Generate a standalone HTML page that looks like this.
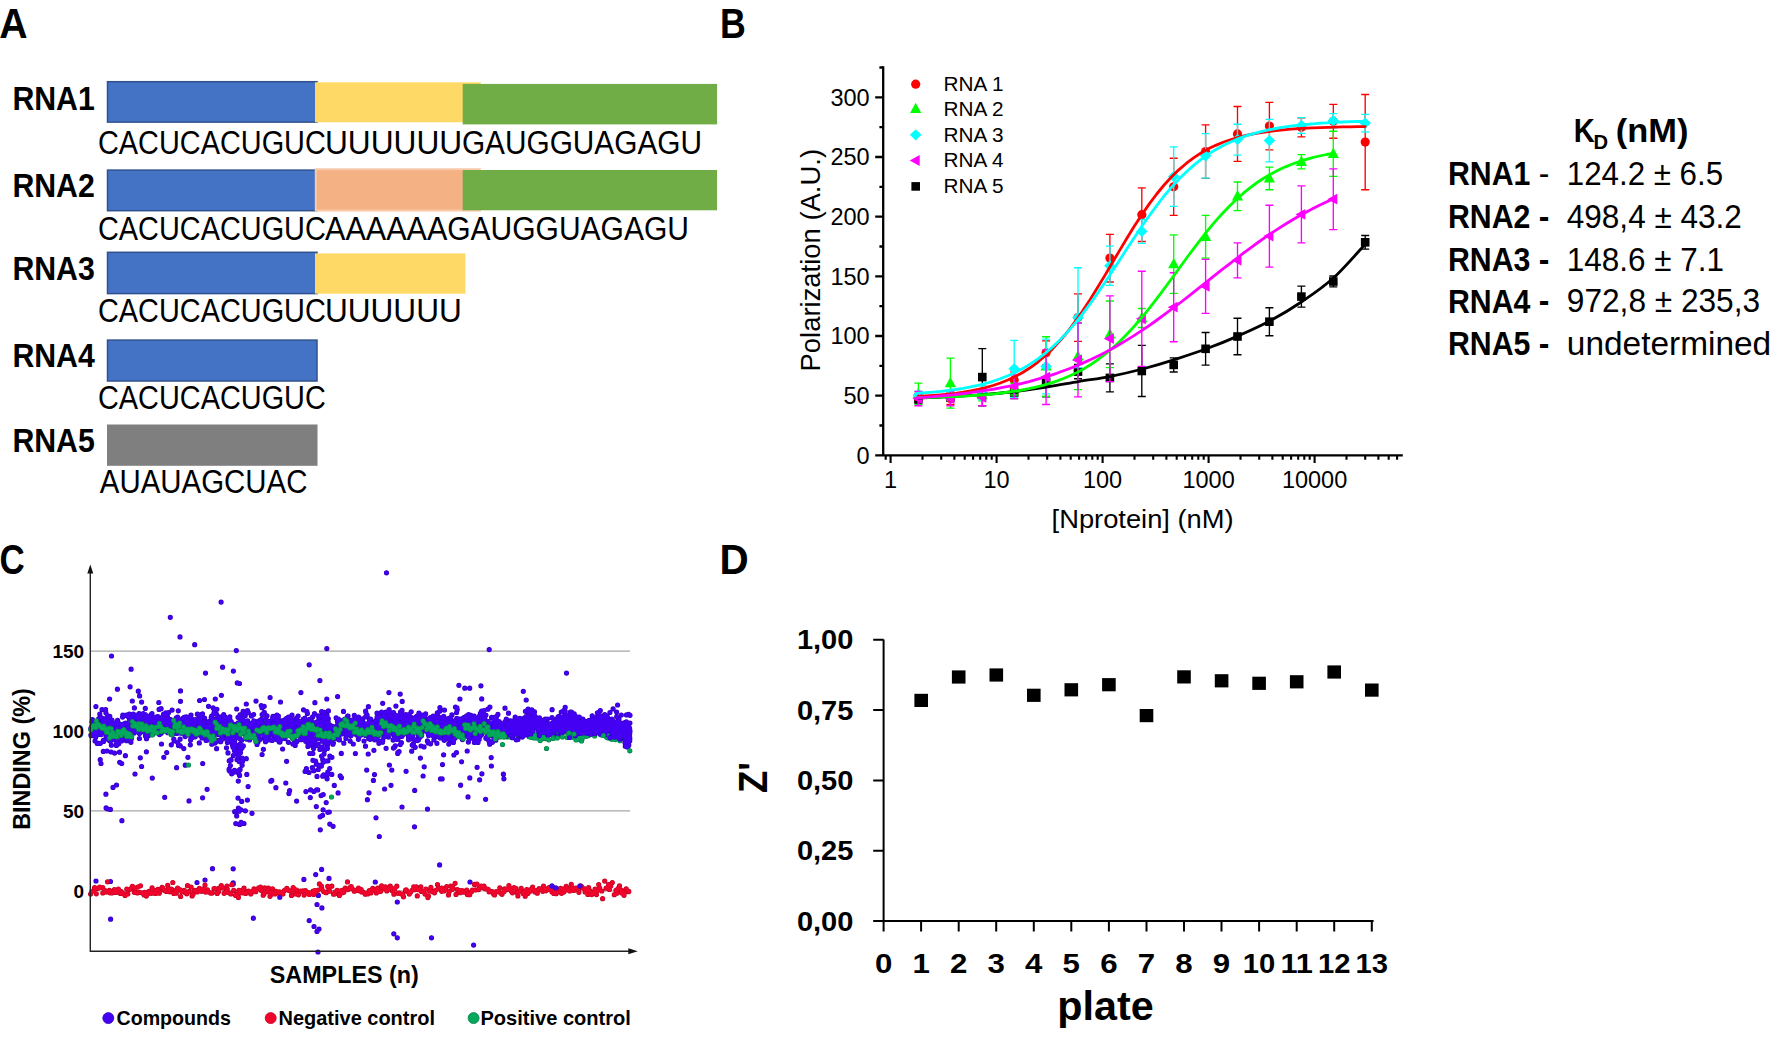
<!DOCTYPE html>
<html lang="en"><head><meta charset="utf-8"><title>Figure</title>
<style>html,body{margin:0;padding:0;background:#fff;overflow:hidden}svg{display:block}text{font-family:"Liberation Sans",sans-serif}</style>
</head><body>
<svg width="1773" height="1057" viewBox="0 0 1773 1057">
<rect width="1773" height="1057" fill="#fff"/>
<g id="panel-labels">
<text x="-0.8" y="38" font-size="42" font-weight="bold" textLength="28.4" lengthAdjust="spacingAndGlyphs">A</text>
<text x="720" y="38" font-size="42" font-weight="bold" textLength="25.8" lengthAdjust="spacingAndGlyphs">B</text>
<text x="-0.4" y="574.2" font-size="43" font-weight="bold" textLength="25.2" lengthAdjust="spacingAndGlyphs">C</text>
<text x="719.5" y="573.7" font-size="42" font-weight="bold" textLength="29.2" lengthAdjust="spacingAndGlyphs">D</text>
</g>
<g id="panelA">
<rect x="107.5" y="81.7" width="209.5" height="40.4" fill="#4472c4" stroke="#2f528f" stroke-width="1.5"/>
<rect x="315.0" y="82.3" width="165.7" height="40.0" fill="#ffd966"/>
<rect x="462.7" y="83.9" width="254.4" height="40.5" fill="#70ad47"/>
<rect x="107.5" y="170.1" width="209.5" height="40.6" fill="#4472c4" stroke="#2f528f" stroke-width="1.5"/>
<rect x="315.8" y="169.2" width="164.1" height="41.4" fill="#f4b183" stroke="#f8cbad" stroke-width="2"/>
<rect x="462.7" y="170.0" width="254.4" height="40.3" fill="#70ad47"/>
<rect x="107.5" y="252.3" width="209.5" height="41.3" fill="#4472c4" stroke="#2f528f" stroke-width="1.5"/>
<rect x="315.0" y="253.4" width="150.4" height="40.3" fill="#ffd966"/>
<rect x="107.5" y="340.1" width="209.5" height="40.9" fill="#4472c4" stroke="#2f528f" stroke-width="1.5"/>
<rect x="107.0" y="424.5" width="210.5" height="41.3" fill="#7f7f7f"/>
<text x="12.4" y="109.9" font-size="33.2" font-weight="bold" textLength="82.4" lengthAdjust="spacingAndGlyphs">RNA1</text>
<text x="12.4" y="196.8" font-size="33.2" font-weight="bold" textLength="82.4" lengthAdjust="spacingAndGlyphs">RNA2</text>
<text x="12.4" y="279.79999999999995" font-size="33.2" font-weight="bold" textLength="82.4" lengthAdjust="spacingAndGlyphs">RNA3</text>
<text x="12.4" y="366.59999999999997" font-size="33.2" font-weight="bold" textLength="82.4" lengthAdjust="spacingAndGlyphs">RNA4</text>
<text x="12.4" y="452.4" font-size="33.2" font-weight="bold" textLength="82.4" lengthAdjust="spacingAndGlyphs">RNA5</text>
<text y="153.6" font-size="33"><tspan x="98.0" textLength="227.8" lengthAdjust="spacingAndGlyphs">CACUCACUGUC</tspan><tspan x="324.9" textLength="137.3" lengthAdjust="spacingAndGlyphs">UUUUUU</tspan><tspan x="461.9" textLength="240.1" lengthAdjust="spacingAndGlyphs">GAUGGUAGAGU</tspan></text>
<text y="239.7" font-size="33"><tspan x="98.0" textLength="227.8" lengthAdjust="spacingAndGlyphs">CACUCACUGUC</tspan><tspan x="325.0" textLength="122.3" lengthAdjust="spacingAndGlyphs">AAAAAA</tspan><tspan x="447.2" textLength="241.8" lengthAdjust="spacingAndGlyphs">GAUGGUAGAGU</tspan></text>
<text y="321.9" font-size="33"><tspan x="98.0" textLength="227.8" lengthAdjust="spacingAndGlyphs">CACUCACUGUC</tspan><tspan x="324.9" textLength="136.9" lengthAdjust="spacingAndGlyphs">UUUUUU</tspan></text>
<text y="409.2" font-size="33"><tspan x="98.0" textLength="227.8" lengthAdjust="spacingAndGlyphs">CACUCACUGUC</tspan></text>
<text y="492.9" font-size="33"><tspan x="99.8" textLength="207.6" lengthAdjust="spacingAndGlyphs">AUAUAGCUAC</tspan></text>
</g>
<g id="panelB">
<g stroke="#000" stroke-width="2.3" fill="none">
<path d="M883.2,66.2V455.3"/>
<path d="M875.2,455.3H1402.8"/>
<path d="M879.4,425.5H883.2M875.2,395.6H883.2M879.4,365.8H883.2M875.2,336.0H883.2M879.4,306.1H883.2M875.2,276.3H883.2M879.4,246.5H883.2M875.2,216.6H883.2M879.4,186.8H883.2M875.2,157.0H883.2M879.4,127.1H883.2M875.2,97.3H883.2M879.4,67.5H883.2"/>
<path d="M885.7,455.3v4.4M890.6,455.3v7.6M922.5,455.3v4.4M941.2,455.3v4.4M954.4,455.3v4.4M964.7,455.3v4.4M973.1,455.3v4.4M980.2,455.3v4.4M986.3,455.3v4.4M991.7,455.3v4.4M996.6,455.3v7.6M1028.5,455.3v4.4M1047.2,455.3v4.4M1060.4,455.3v4.4M1070.7,455.3v4.4M1079.1,455.3v4.4M1086.2,455.3v4.4M1092.3,455.3v4.4M1097.7,455.3v4.4M1102.6,455.3v7.6M1134.5,455.3v4.4M1153.2,455.3v4.4M1166.4,455.3v4.4M1176.7,455.3v4.4M1185.1,455.3v4.4M1192.2,455.3v4.4M1198.3,455.3v4.4M1203.7,455.3v4.4M1208.6,455.3v7.6M1240.5,455.3v4.4M1259.2,455.3v4.4M1272.4,455.3v4.4M1282.7,455.3v4.4M1291.1,455.3v4.4M1298.2,455.3v4.4M1304.3,455.3v4.4M1309.7,455.3v4.4M1314.6,455.3v7.6M1346.5,455.3v4.4M1365.2,455.3v4.4M1378.4,455.3v4.4M1388.7,455.3v4.4M1397.1,455.3v4.4" stroke-width="2.1"/>
</g>
<text x="869.6" y="463.6" font-size="23.5" text-anchor="end">0</text>
<text x="869.6" y="403.9" font-size="23.5" text-anchor="end">50</text>
<text x="869.6" y="344.3" font-size="23.5" text-anchor="end">100</text>
<text x="869.6" y="284.6" font-size="23.5" text-anchor="end">150</text>
<text x="869.6" y="224.9" font-size="23.5" text-anchor="end">200</text>
<text x="869.6" y="165.3" font-size="23.5" text-anchor="end">250</text>
<text x="869.6" y="105.6" font-size="23.5" text-anchor="end">300</text>
<text x="890.6" y="487.6" font-size="23.5" text-anchor="middle">1</text>
<text x="996.6" y="487.6" font-size="23.5" text-anchor="middle">10</text>
<text x="1102.6" y="487.6" font-size="23.5" text-anchor="middle">100</text>
<text x="1208.6" y="487.6" font-size="23.5" text-anchor="middle">1000</text>
<text x="1314.6" y="487.6" font-size="23.5" text-anchor="middle">10000</text>
<text x="1142.6" y="527.6" font-size="26" text-anchor="middle" textLength="182" lengthAdjust="spacingAndGlyphs">[Nprotein] (nM)</text>
<text transform="translate(820.2,260.2) rotate(-90)" font-size="27.4" text-anchor="middle" textLength="222.5" lengthAdjust="spacingAndGlyphs">Polarization (A.U.)</text>
<path d="M918.4,393.8V403.3M914.4,393.8h8M914.4,403.3h8M950.4,393.8V400.9M946.4,393.8h8M946.4,400.9h8M982.3,348.6V405.7M978.3,348.6h8M978.3,405.7h8M1014.2,386.7V398.6M1010.2,386.7h8M1010.2,398.6h8M1046.1,367.0V396.8M1042.1,367.0h8M1042.1,396.8h8M1078.0,364.4V378.7M1074.0,364.4h8M1074.0,378.7h8M1109.9,363.8V391.9M1105.9,363.8h8M1105.9,391.9h8M1141.8,345.4V396.5M1137.8,345.4h8M1137.8,396.5h8M1173.7,357.8V372.0M1169.7,357.8h8M1169.7,372.0h8M1205.6,332.5V365.1M1201.6,332.5h8M1201.6,365.1h8M1237.5,318.2V354.7M1233.5,318.2h8M1233.5,354.7h8M1269.4,307.7V335.7M1265.4,307.7h8M1265.4,335.7h8M1301.4,286.1V307.1M1297.4,286.1h8M1297.4,307.1h8M1333.3,276.0V286.9M1329.3,276.0h8M1329.3,286.9h8M1365.2,235.5V249.1M1361.2,235.5h8M1361.2,249.1h8" stroke="#000000" stroke-width="1.35" fill="none"/>
<rect x="914.1" y="394.3" width="8.6" height="8.6" fill="#000000"/>
<rect x="946.1" y="393.1" width="8.6" height="8.6" fill="#000000"/>
<rect x="978.0" y="372.8" width="8.6" height="8.6" fill="#000000"/>
<rect x="1009.9" y="388.3" width="8.6" height="8.6" fill="#000000"/>
<rect x="1041.8" y="377.6" width="8.6" height="8.6" fill="#000000"/>
<rect x="1073.7" y="367.3" width="8.6" height="8.6" fill="#000000"/>
<rect x="1105.6" y="373.6" width="8.6" height="8.6" fill="#000000"/>
<rect x="1137.5" y="366.7" width="8.6" height="8.6" fill="#000000"/>
<rect x="1169.4" y="360.6" width="8.6" height="8.6" fill="#000000"/>
<rect x="1201.3" y="344.5" width="8.6" height="8.6" fill="#000000"/>
<rect x="1233.2" y="332.2" width="8.6" height="8.6" fill="#000000"/>
<rect x="1265.1" y="317.4" width="8.6" height="8.6" fill="#000000"/>
<rect x="1297.1" y="292.3" width="8.6" height="8.6" fill="#000000"/>
<rect x="1329.0" y="277.2" width="8.6" height="8.6" fill="#000000"/>
<rect x="1360.9" y="238.0" width="8.6" height="8.6" fill="#000000"/>
<path d="M918.4,393.2V400.4M914.4,393.2h8M914.4,400.4h8M950.4,392.6V404.5M946.4,392.6h8M946.4,404.5h8M982.3,389.1V398.6M978.3,389.1h8M978.3,398.6h8M1014.2,371.8V388.5M1010.2,371.8h8M1010.2,388.5h8M1046.1,340.9V364.7M1042.1,340.9h8M1042.1,364.7h8M1078.0,293.9V341.4M1074.0,293.9h8M1074.0,341.4h8M1109.9,234.4V282.0M1105.9,234.4h8M1105.9,282.0h8M1141.8,187.9V241.5M1137.8,187.9h8M1137.8,241.5h8M1173.7,158.2V215.3M1169.7,158.2h8M1169.7,215.3h8M1205.6,124.8V178.3M1201.6,124.8h8M1201.6,178.3h8M1237.5,106.5V161.3M1233.5,106.5h8M1233.5,161.3h8M1269.4,102.3V149.9M1265.4,102.3h8M1265.4,149.9h8M1301.4,117.7V136.8M1297.4,117.7h8M1297.4,136.8h8M1333.3,104.4V138.2M1329.3,104.4h8M1329.3,138.2h8M1365.2,94.5V189.7M1361.2,94.5h8M1361.2,189.7h8" stroke="#ff0000" stroke-width="1.35" fill="none"/>
<circle cx="918.4" cy="396.8" r="4.6" fill="#ff0000"/>
<circle cx="950.4" cy="398.6" r="4.6" fill="#ff0000"/>
<circle cx="982.3" cy="393.8" r="4.6" fill="#ff0000"/>
<circle cx="1014.2" cy="380.1" r="4.6" fill="#ff0000"/>
<circle cx="1046.1" cy="352.8" r="4.6" fill="#ff0000"/>
<circle cx="1078.0" cy="317.6" r="4.6" fill="#ff0000"/>
<circle cx="1109.9" cy="258.1" r="4.6" fill="#ff0000"/>
<circle cx="1141.8" cy="214.7" r="4.6" fill="#ff0000"/>
<circle cx="1173.7" cy="186.8" r="4.6" fill="#ff0000"/>
<circle cx="1205.6" cy="151.5" r="4.6" fill="#ff0000"/>
<circle cx="1237.5" cy="133.9" r="4.6" fill="#ff0000"/>
<circle cx="1269.4" cy="126.1" r="4.6" fill="#ff0000"/>
<circle cx="1301.4" cy="127.2" r="4.6" fill="#ff0000"/>
<circle cx="1333.3" cy="121.3" r="4.6" fill="#ff0000"/>
<circle cx="1365.2" cy="142.1" r="4.6" fill="#ff0000"/>
<path d="M918.4,383.1V404.5M914.4,383.1h8M914.4,404.5h8M950.4,358.1V408.1M946.4,358.1h8M946.4,408.1h8M982.3,389.1V400.9M978.3,389.1h8M978.3,400.9h8M1014.2,383.1V395.0M1010.2,383.1h8M1010.2,395.0h8M1046.1,336.7V396.2M1042.1,336.7h8M1042.1,396.2h8M1078.0,323.0V389.6M1074.0,323.0h8M1074.0,389.6h8M1109.9,301.0V367.6M1105.9,301.0h8M1105.9,367.6h8M1141.8,308.5V327.5M1137.8,308.5h8M1137.8,327.5h8M1173.7,234.9V293.3M1169.7,234.9h8M1169.7,293.3h8M1205.6,215.3V258.1M1201.6,215.3h8M1201.6,258.1h8M1237.5,182.0V210.6M1233.5,182.0h8M1233.5,210.6h8M1269.4,167.1V189.7M1265.4,167.1h8M1265.4,189.7h8M1301.4,154.6V168.9M1297.4,154.6h8M1297.4,168.9h8M1333.3,131.2V176.4M1329.3,131.2h8M1329.3,176.4h8" stroke="#00ff00" stroke-width="1.35" fill="none"/>
<path d="M918.4,387.6l5.6,10.4h-11.2z" fill="#00ff00"/>
<path d="M950.4,376.9l5.6,10.4h-11.2z" fill="#00ff00"/>
<path d="M982.3,388.8l5.6,10.4h-11.2z" fill="#00ff00"/>
<path d="M1014.2,382.9l5.6,10.4h-11.2z" fill="#00ff00"/>
<path d="M1046.1,360.2l5.6,10.4h-11.2z" fill="#00ff00"/>
<path d="M1078.0,350.1l5.6,10.4h-11.2z" fill="#00ff00"/>
<path d="M1109.9,328.1l5.6,10.4h-11.2z" fill="#00ff00"/>
<path d="M1141.8,311.8l5.6,10.4h-11.2z" fill="#00ff00"/>
<path d="M1173.7,257.9l5.6,10.4h-11.2z" fill="#00ff00"/>
<path d="M1205.6,230.5l5.6,10.4h-11.2z" fill="#00ff00"/>
<path d="M1237.5,190.1l5.6,10.4h-11.2z" fill="#00ff00"/>
<path d="M1269.4,172.2l5.6,10.4h-11.2z" fill="#00ff00"/>
<path d="M1301.4,155.6l5.6,10.4h-11.2z" fill="#00ff00"/>
<path d="M1333.3,147.6l5.6,10.4h-11.2z" fill="#00ff00"/>
<path d="M918.4,391.4V398.6M914.4,391.4h8M914.4,398.6h8M950.4,390.2V399.8M946.4,390.2h8M946.4,399.8h8M982.3,385.5V399.8M978.3,385.5h8M978.3,399.8h8M1014.2,340.3V397.4M1010.2,340.3h8M1010.2,397.4h8M1046.1,339.1V393.8M1042.1,339.1h8M1042.1,393.8h8M1078.0,267.7V367.6M1074.0,267.7h8M1074.0,367.6h8M1109.9,246.1V285.4M1105.9,246.1h8M1105.9,285.4h8M1141.8,219.5V243.3M1137.8,219.5h8M1137.8,243.3h8M1173.7,146.8V206.3M1169.7,146.8h8M1169.7,206.3h8M1205.6,133.6V178.1M1201.6,133.6h8M1201.6,178.1h8M1237.5,124.2V155.1M1233.5,124.2h8M1233.5,155.1h8M1269.4,119.4V161.8M1265.4,119.4h8M1265.4,161.8h8M1301.4,117.6V133.3M1297.4,117.6h8M1297.4,133.3h8M1333.3,113.6V127.8M1329.3,113.6h8M1329.3,127.8h8M1365.2,114.4V131.8M1361.2,114.4h8M1361.2,131.8h8" stroke="#00ffff" stroke-width="1.35" fill="none"/>
<path d="M918.4,389.4l5.8,5.6l-5.8,5.6l-5.8,-5.6z" fill="#00ffff"/>
<path d="M950.4,389.4l5.8,5.6l-5.8,5.6l-5.8,-5.6z" fill="#00ffff"/>
<path d="M982.3,387.0l5.8,5.6l-5.8,5.6l-5.8,-5.6z" fill="#00ffff"/>
<path d="M1014.2,363.2l5.8,5.6l-5.8,5.6l-5.8,-5.6z" fill="#00ffff"/>
<path d="M1046.1,360.8l5.8,5.6l-5.8,5.6l-5.8,-5.6z" fill="#00ffff"/>
<path d="M1078.0,312.0l5.8,5.6l-5.8,5.6l-5.8,-5.6z" fill="#00ffff"/>
<path d="M1109.9,260.2l5.8,5.6l-5.8,5.6l-5.8,-5.6z" fill="#00ffff"/>
<path d="M1141.8,225.8l5.8,5.6l-5.8,5.6l-5.8,-5.6z" fill="#00ffff"/>
<path d="M1173.7,170.9l5.8,5.6l-5.8,5.6l-5.8,-5.6z" fill="#00ffff"/>
<path d="M1205.6,150.2l5.8,5.6l-5.8,5.6l-5.8,-5.6z" fill="#00ffff"/>
<path d="M1237.5,134.0l5.8,5.6l-5.8,5.6l-5.8,-5.6z" fill="#00ffff"/>
<path d="M1269.4,135.0l5.8,5.6l-5.8,5.6l-5.8,-5.6z" fill="#00ffff"/>
<path d="M1301.4,119.9l5.8,5.6l-5.8,5.6l-5.8,-5.6z" fill="#00ffff"/>
<path d="M1333.3,115.1l5.8,5.6l-5.8,5.6l-5.8,-5.6z" fill="#00ffff"/>
<path d="M1365.2,117.5l5.8,5.6l-5.8,5.6l-5.8,-5.6z" fill="#00ffff"/>
<path d="M918.4,391.4V405.7M914.4,391.4h8M914.4,405.7h8M950.4,391.4V405.7M946.4,391.4h8M946.4,405.7h8M982.3,389.1V405.7M978.3,389.1h8M978.3,405.7h8M1014.2,374.8V398.6M1010.2,374.8h8M1010.2,398.6h8M1046.1,349.8V404.5M1042.1,349.8h8M1042.1,404.5h8M1078.0,323.0V396.8M1074.0,323.0h8M1074.0,396.8h8M1109.9,295.9V381.6M1105.9,295.9h8M1105.9,381.6h8M1141.8,271.2V366.4M1137.8,271.2h8M1137.8,366.4h8M1173.7,272.7V341.7M1169.7,272.7h8M1169.7,341.7h8M1205.6,259.3V313.4M1201.6,259.3h8M1201.6,313.4h8M1237.5,242.8V277.8M1233.5,242.8h8M1233.5,277.8h8M1269.4,205.2V267.1M1265.4,205.2h8M1265.4,267.1h8M1301.4,185.8V242.9M1297.4,185.8h8M1297.4,242.9h8M1333.3,168.9V229.6M1329.3,168.9h8M1329.3,229.6h8" stroke="#ff00ff" stroke-width="1.35" fill="none"/>
<path d="M912.4,398.6l10,-5.4v10.8z" fill="#ff00ff"/>
<path d="M944.4,398.6l10,-5.4v10.8z" fill="#ff00ff"/>
<path d="M976.3,397.4l10,-5.4v10.8z" fill="#ff00ff"/>
<path d="M1008.2,386.7l10,-5.4v10.8z" fill="#ff00ff"/>
<path d="M1040.1,377.1l10,-5.4v10.8z" fill="#ff00ff"/>
<path d="M1072.0,359.9l10,-5.4v10.8z" fill="#ff00ff"/>
<path d="M1103.9,338.7l10,-5.4v10.8z" fill="#ff00ff"/>
<path d="M1135.8,318.8l10,-5.4v10.8z" fill="#ff00ff"/>
<path d="M1167.7,307.2l10,-5.4v10.8z" fill="#ff00ff"/>
<path d="M1199.6,286.4l10,-5.4v10.8z" fill="#ff00ff"/>
<path d="M1231.5,260.3l10,-5.4v10.8z" fill="#ff00ff"/>
<path d="M1263.4,236.1l10,-5.4v10.8z" fill="#ff00ff"/>
<path d="M1295.4,214.4l10,-5.4v10.8z" fill="#ff00ff"/>
<path d="M1327.3,199.2l10,-5.4v10.8z" fill="#ff00ff"/>
<path d="M918.3,398.0C923.7,397.8 940.0,397.2 950.7,396.6C961.4,396.0 971.9,395.5 982.5,394.6C993.1,393.8 1003.8,392.8 1014.5,391.5C1025.2,390.2 1036.1,388.6 1046.7,387.0C1057.3,385.4 1067.6,383.4 1078.3,381.6C1089.0,379.8 1100.0,378.4 1110.7,376.3C1121.4,374.2 1132.0,371.8 1142.6,369.0C1153.2,366.2 1163.9,363.0 1174.5,359.6C1185.1,356.2 1195.8,352.8 1206.4,348.8C1217.0,344.9 1227.7,340.6 1238.3,335.9C1248.9,331.2 1259.6,326.5 1270.2,320.8C1280.8,315.1 1291.5,308.7 1302.1,301.5C1312.7,294.3 1323.5,287.1 1334.0,277.5C1344.5,267.9 1360.0,249.8 1365.2,244.2" stroke="#000000" stroke-width="2.8" fill="none" stroke-linejoin="round" stroke-linecap="round"/>
<path d="M918.4,396.5L925.9,396.0L933.3,395.5L940.8,394.9L948.2,394.2L955.7,393.3L963.1,392.2L970.6,390.9L978.0,389.4L985.5,387.6L992.9,385.5L1000.3,383.0L1007.8,380.0L1015.2,376.6L1022.7,372.5L1030.1,367.8L1037.6,362.3L1045.0,356.0L1052.5,348.9L1059.9,340.9L1067.4,332.0L1074.8,322.2L1082.2,311.6L1089.7,300.2L1097.1,288.3L1104.6,275.9L1112.0,263.2L1119.5,250.6L1126.9,238.2L1134.4,226.1L1141.8,214.7L1149.3,203.9L1156.7,194.0L1164.1,185.0L1171.6,176.8L1179.0,169.6L1186.5,163.2L1193.9,157.6L1201.4,152.8L1208.8,148.6L1216.3,145.1L1223.7,142.0L1231.2,139.5L1238.6,137.3L1246.0,135.4L1253.5,133.9L1260.9,132.6L1268.4,131.5L1275.8,130.6L1283.3,129.8L1290.7,129.2L1298.2,128.7L1305.6,128.2L1313.1,127.9L1320.5,127.6L1327.9,127.3L1335.4,127.1L1342.8,126.9L1350.3,126.8L1357.7,126.7L1365.2,126.6" stroke="#ff0000" stroke-width="2.8" fill="none" stroke-linejoin="round" stroke-linecap="round"/>
<path d="M918.4,397.6L925.4,397.5L932.3,397.3L939.2,397.1L946.1,396.9L953.0,396.6L959.9,396.3L966.8,395.9L973.8,395.5L980.7,395.0L987.6,394.5L994.5,393.8L1001.4,393.0L1008.3,392.2L1015.2,391.2L1022.2,390.0L1029.1,388.7L1036.0,387.1L1042.9,385.4L1049.8,383.4L1056.7,381.1L1063.6,378.5L1070.5,375.5L1077.5,372.2L1084.4,368.4L1091.3,364.2L1098.2,359.5L1105.1,354.2L1112.0,348.5L1118.9,342.2L1125.9,335.3L1132.8,327.9L1139.7,320.0L1146.6,311.7L1153.5,302.9L1160.4,293.8L1167.3,284.5L1174.3,275.0L1181.2,265.5L1188.1,256.0L1195.0,246.8L1201.9,237.8L1208.8,229.1L1215.7,220.9L1222.6,213.2L1229.6,206.0L1236.5,199.3L1243.4,193.2L1250.3,187.6L1257.2,182.5L1264.1,178.0L1271.0,173.9L1278.0,170.3L1284.9,167.1L1291.8,164.3L1298.7,161.8L1305.6,159.6L1312.5,157.7L1319.4,156.0L1326.4,154.5L1333.3,153.3" stroke="#00ff00" stroke-width="2.8" fill="none" stroke-linejoin="round" stroke-linecap="round"/>
<path d="M918.4,393.2L925.9,392.7L933.3,392.1L940.8,391.4L948.2,390.5L955.7,389.5L963.1,388.3L970.6,386.9L978.0,385.3L985.5,383.5L992.9,381.3L1000.3,378.7L1007.8,375.8L1015.2,372.4L1022.7,368.6L1030.1,364.1L1037.6,359.1L1045.0,353.4L1052.5,347.0L1059.9,339.9L1067.4,332.1L1074.8,323.6L1082.2,314.3L1089.7,304.4L1097.1,293.9L1104.6,283.0L1112.0,271.7L1119.5,260.2L1126.9,248.8L1134.4,237.4L1141.8,226.3L1149.3,215.7L1156.7,205.6L1164.1,196.0L1171.6,187.2L1179.0,179.1L1186.5,171.8L1193.9,165.1L1201.4,159.2L1208.8,153.9L1216.3,149.3L1223.7,145.2L1231.2,141.7L1238.6,138.6L1246.0,135.9L1253.5,133.6L1260.9,131.6L1268.4,129.9L1275.8,128.5L1283.3,127.2L1290.7,126.1L1298.2,125.2L1305.6,124.5L1313.1,123.8L1320.5,123.2L1327.9,122.8L1335.4,122.4L1342.8,122.0L1350.3,121.7L1357.7,121.5L1365.2,121.3" stroke="#00ffff" stroke-width="2.8" fill="none" stroke-linejoin="round" stroke-linecap="round"/>
<path d="M918.4,397.8L925.4,397.3L932.3,396.7L939.2,396.1L946.1,395.5L953.0,394.8L959.9,394.0L966.8,393.2L973.8,392.2L980.7,391.2L987.6,390.2L994.5,389.0L1001.4,387.7L1008.3,386.4L1015.2,384.9L1022.2,383.3L1029.1,381.6L1036.0,379.7L1042.9,377.7L1049.8,375.6L1056.7,373.3L1063.6,370.8L1070.5,368.2L1077.5,365.4L1084.4,362.4L1091.3,359.3L1098.2,355.9L1105.1,352.4L1112.0,348.7L1118.9,344.8L1125.9,340.6L1132.8,336.4L1139.7,331.9L1146.6,327.3L1153.5,322.5L1160.4,317.5L1167.3,312.4L1174.3,307.2L1181.2,302.0L1188.1,296.6L1195.0,291.1L1201.9,285.7L1208.8,280.2L1215.7,274.7L1222.6,269.2L1229.6,263.8L1236.5,258.5L1243.4,253.2L1250.3,248.1L1257.2,243.0L1264.1,238.2L1271.0,233.4L1278.0,228.9L1284.9,224.5L1291.8,220.3L1298.7,216.2L1305.6,212.4L1312.5,208.8L1319.4,205.3L1326.4,202.0L1333.3,199.0" stroke="#ff00ff" stroke-width="2.8" fill="none" stroke-linejoin="round" stroke-linecap="round"/>
<circle cx="915.7" cy="84.2" r="4.6" fill="#ff0000"/>
<text x="943.6" y="91.1" font-size="19.3" textLength="60" lengthAdjust="spacingAndGlyphs">RNA 1</text>
<path d="M915.7,102.7l5.6,10.4h-11.2z" fill="#00ff00"/>
<text x="943.6" y="115.8" font-size="19.3" textLength="60" lengthAdjust="spacingAndGlyphs">RNA 2</text>
<path d="M915.7,129.2l5.8,5.6l-5.8,5.6l-5.8,-5.6z" fill="#00ffff"/>
<text x="943.6" y="141.7" font-size="19.3" textLength="60" lengthAdjust="spacingAndGlyphs">RNA 3</text>
<path d="M909.7,160.5l10,-5.4v10.8z" fill="#ff00ff"/>
<text x="943.6" y="167.4" font-size="19.3" textLength="60" lengthAdjust="spacingAndGlyphs">RNA 4</text>
<rect x="911.4" y="182.1" width="8.6" height="8.6" fill="#000000"/>
<text x="943.6" y="193.3" font-size="19.3" textLength="60" lengthAdjust="spacingAndGlyphs">RNA 5</text>
<text font-weight="bold" font-size="33"><tspan x="1573.8" y="141.8" textLength="21" lengthAdjust="spacingAndGlyphs">K</tspan><tspan x="1593.5" y="148.6" font-size="20" textLength="14.6" lengthAdjust="spacingAndGlyphs">D</tspan><tspan x="1606.3" y="141.8" textLength="82.2" lengthAdjust="spacingAndGlyphs"> (nM)</tspan></text>
<text x="1448.0" y="184.79999999999998" font-size="33.2" font-weight="bold" textLength="82.4" lengthAdjust="spacingAndGlyphs">RNA1</text>
<text x="1538.8" y="184.6" font-size="33" textLength="10.6" lengthAdjust="spacingAndGlyphs">-</text>
<text x="1566.8" y="184.6" font-size="33" textLength="156.3" lengthAdjust="spacingAndGlyphs">124.2 ± 6.5</text>
<text x="1448.0" y="227.79999999999998" font-size="33.2" font-weight="bold" textLength="82.4" lengthAdjust="spacingAndGlyphs">RNA2</text>
<text x="1538.8" y="227.6" font-size="33" font-weight="bold" textLength="10.6" lengthAdjust="spacingAndGlyphs">-</text>
<text x="1566.8" y="227.6" font-size="33" textLength="175.0" lengthAdjust="spacingAndGlyphs">498,4 ± 43.2</text>
<text x="1448.0" y="271.4" font-size="33.2" font-weight="bold" textLength="82.4" lengthAdjust="spacingAndGlyphs">RNA3</text>
<text x="1538.8" y="271.2" font-size="33" font-weight="bold" textLength="10.6" lengthAdjust="spacingAndGlyphs">-</text>
<text x="1566.8" y="271.2" font-size="33" textLength="157.1" lengthAdjust="spacingAndGlyphs">148.6 ± 7.1</text>
<text x="1448.0" y="312.5" font-size="33.2" font-weight="bold" textLength="82.4" lengthAdjust="spacingAndGlyphs">RNA4</text>
<text x="1538.8" y="312.3" font-size="33" font-weight="bold" textLength="10.6" lengthAdjust="spacingAndGlyphs">-</text>
<text x="1566.8" y="312.3" font-size="33" textLength="193.3" lengthAdjust="spacingAndGlyphs">972,8 ± 235,3</text>
<text x="1448.0" y="354.7" font-size="33.2" font-weight="bold" textLength="82.4" lengthAdjust="spacingAndGlyphs">RNA5</text>
<text x="1538.8" y="354.5" font-size="33" font-weight="bold" textLength="10.6" lengthAdjust="spacingAndGlyphs">-</text>
<text x="1566.8" y="354.5" font-size="33" textLength="204.4" lengthAdjust="spacingAndGlyphs">undetermined</text>
</g>
<g id="panelD">
<g stroke="#000" stroke-width="2" fill="none">
<path d="M883.6,639.6V921.0H1373.6"/>
<path d="M873.2,921.0H883.6M873.2,850.7H883.6M873.2,780.4H883.6M873.2,710.1H883.6M873.2,639.8H883.6M883.6,921.0v10.5M921.1,921.0v10.5M958.7,921.0v10.5M996.2,921.0v10.5M1033.8,921.0v10.5M1071.3,921.0v10.5M1108.9,921.0v10.5M1146.5,921.0v10.5M1184.0,921.0v10.5M1221.5,921.0v10.5M1259.1,921.0v10.5M1296.7,921.0v10.5M1334.2,921.0v10.5M1371.8,921.0v10.5"/>
</g>
<text x="853.4" y="930.6" font-size="27" font-weight="bold" text-anchor="end" textLength="56.5" lengthAdjust="spacingAndGlyphs">0,00</text>
<text x="853.4" y="860.3" font-size="27" font-weight="bold" text-anchor="end" textLength="56.5" lengthAdjust="spacingAndGlyphs">0,25</text>
<text x="853.4" y="790.0" font-size="27" font-weight="bold" text-anchor="end" textLength="56.5" lengthAdjust="spacingAndGlyphs">0,50</text>
<text x="853.4" y="719.7" font-size="27" font-weight="bold" text-anchor="end" textLength="56.5" lengthAdjust="spacingAndGlyphs">0,75</text>
<text x="853.4" y="649.4" font-size="27" font-weight="bold" text-anchor="end" textLength="56.5" lengthAdjust="spacingAndGlyphs">1,00</text>
<text x="883.6" y="973.2" font-size="27" font-weight="bold" text-anchor="middle" textLength="17.4" lengthAdjust="spacingAndGlyphs">0</text>
<text x="921.1" y="973.2" font-size="27" font-weight="bold" text-anchor="middle" textLength="17.4" lengthAdjust="spacingAndGlyphs">1</text>
<text x="958.7" y="973.2" font-size="27" font-weight="bold" text-anchor="middle" textLength="17.4" lengthAdjust="spacingAndGlyphs">2</text>
<text x="996.2" y="973.2" font-size="27" font-weight="bold" text-anchor="middle" textLength="17.4" lengthAdjust="spacingAndGlyphs">3</text>
<text x="1033.8" y="973.2" font-size="27" font-weight="bold" text-anchor="middle" textLength="17.4" lengthAdjust="spacingAndGlyphs">4</text>
<text x="1071.3" y="973.2" font-size="27" font-weight="bold" text-anchor="middle" textLength="17.4" lengthAdjust="spacingAndGlyphs">5</text>
<text x="1108.9" y="973.2" font-size="27" font-weight="bold" text-anchor="middle" textLength="17.4" lengthAdjust="spacingAndGlyphs">6</text>
<text x="1146.5" y="973.2" font-size="27" font-weight="bold" text-anchor="middle" textLength="17.4" lengthAdjust="spacingAndGlyphs">7</text>
<text x="1184.0" y="973.2" font-size="27" font-weight="bold" text-anchor="middle" textLength="17.4" lengthAdjust="spacingAndGlyphs">8</text>
<text x="1221.5" y="973.2" font-size="27" font-weight="bold" text-anchor="middle" textLength="17.4" lengthAdjust="spacingAndGlyphs">9</text>
<text x="1259.1" y="973.2" font-size="27" font-weight="bold" text-anchor="middle" textLength="32.5" lengthAdjust="spacingAndGlyphs">10</text>
<text x="1296.7" y="973.2" font-size="27" font-weight="bold" text-anchor="middle" textLength="32.5" lengthAdjust="spacingAndGlyphs">11</text>
<text x="1334.2" y="973.2" font-size="27" font-weight="bold" text-anchor="middle" textLength="32.5" lengthAdjust="spacingAndGlyphs">12</text>
<text x="1371.8" y="973.2" font-size="27" font-weight="bold" text-anchor="middle" textLength="32.5" lengthAdjust="spacingAndGlyphs">13</text>
<text x="1105.5" y="1019.8" font-size="40.5" font-weight="bold" text-anchor="middle" textLength="96.5" lengthAdjust="spacingAndGlyphs">plate</text>
<text transform="translate(766.9,793) rotate(-90)" font-size="41" font-weight="bold" textLength="31" lengthAdjust="spacingAndGlyphs">Z'</text>
<rect x="914.4" y="693.8" width="13.6" height="13.2" fill="#000"/>
<rect x="951.9" y="670.4" width="13.6" height="13.2" fill="#000"/>
<rect x="989.5" y="668.4" width="13.6" height="13.2" fill="#000"/>
<rect x="1027.0" y="688.7" width="13.6" height="13.2" fill="#000"/>
<rect x="1064.5" y="683.2" width="13.6" height="13.2" fill="#000"/>
<rect x="1102.1" y="678.1" width="13.6" height="13.2" fill="#000"/>
<rect x="1139.7" y="709.0" width="13.6" height="13.2" fill="#000"/>
<rect x="1177.2" y="670.3" width="13.6" height="13.2" fill="#000"/>
<rect x="1214.8" y="674.2" width="13.6" height="13.2" fill="#000"/>
<rect x="1252.3" y="676.7" width="13.6" height="13.2" fill="#000"/>
<rect x="1289.9" y="675.2" width="13.6" height="13.2" fill="#000"/>
<rect x="1327.4" y="665.4" width="13.6" height="13.2" fill="#000"/>
<rect x="1365.0" y="683.5" width="13.6" height="13.2" fill="#000"/>
</g>
<g id="panelC">
<path d="M90.3,651.2H630.0M90.3,731.1H630.0M90.3,810.8H630.0M90.3,890.8H630.0" stroke="#a6a6a6" stroke-width="1.2" fill="none"/>
<path d="M505.7,734.6h0M507.1,736.9h0M507.9,733.7h0M508.2,732.0h0M509.0,735.7h0M510.6,737.1h0M511.4,734.0h0M511.6,737.2h0M512.7,732.3h0M513.9,734.5h0M514.1,734.5h0M515.8,734.2h0M516.1,734.4h0M517.1,728.9h0M518.0,728.2h0M518.5,736.0h0M519.9,730.6h0M520.5,731.3h0M521.7,733.2h0M522.6,735.6h0M523.1,732.8h0M524.0,731.7h0M525.1,730.8h0M526.2,732.4h0M526.5,729.5h0M527.2,733.8h0M528.2,732.1h0M529.1,736.7h0M530.1,735.0h0M531.3,737.5h0M531.8,731.9h0M532.8,736.4h0M534.0,737.9h0M534.0,737.1h0M534.9,734.0h0M536.1,738.1h0M536.7,735.5h0M537.9,735.0h0M538.9,736.0h0M539.5,735.9h0M540.1,740.6h0M541.7,739.0h0M542.3,736.0h0M543.2,731.9h0M544.2,736.0h0M544.5,735.6h0M545.3,738.6h0M546.9,736.2h0M547.6,734.6h0M548.1,735.3h0M548.8,739.8h0M550.3,732.8h0M551.0,733.4h0M552.0,734.4h0M552.9,734.4h0M553.2,738.4h0M554.2,731.3h0M555.0,733.0h0M556.4,730.7h0M556.7,731.6h0M558.0,731.7h0M558.7,733.2h0M559.7,731.7h0M560.7,730.0h0M561.4,731.7h0M562.0,733.4h0M562.6,731.8h0M564.1,732.1h0M564.4,732.0h0M565.4,730.3h0M566.2,731.0h0M567.2,737.5h0M567.9,736.0h0M568.9,735.7h0M570.0,732.5h0M570.4,734.9h0M572.0,736.3h0M572.4,737.1h0M573.4,734.2h0M574.2,737.8h0M575.1,736.4h0M576.1,739.9h0M577.0,735.8h0M577.6,739.4h0M578.4,738.0h0M579.6,734.4h0M579.9,737.5h0M580.9,738.3h0M582.1,738.9h0M583.0,736.8h0M584.0,736.1h0M584.9,730.3h0M585.6,735.4h0M586.4,736.3h0M587.4,731.6h0M588.5,735.6h0M589.3,729.9h0M589.5,732.2h0M590.7,734.1h0M591.3,730.9h0M592.0,731.0h0M593.3,731.4h0M594.3,733.8h0M594.6,735.9h0M595.9,730.7h0M596.6,732.1h0M597.9,728.4h0M598.3,729.6h0M598.9,732.2h0M599.9,732.9h0M601.2,734.9h0M601.7,729.9h0M603.1,734.5h0M603.8,733.0h0M604.5,733.1h0M605.1,735.0h0M606.6,737.3h0M607.4,733.8h0M607.7,737.8h0M608.4,734.7h0M609.6,737.1h0M610.4,738.5h0M611.8,739.3h0M612.4,736.8h0M612.9,737.5h0M613.6,737.4h0M615.3,739.6h0M615.7,738.8h0M617.0,734.5h0M617.7,737.7h0M617.9,736.4h0M619.1,733.4h0M620.0,740.7h0M620.6,731.8h0M622.0,734.1h0M622.9,736.7h0M623.7,731.9h0M624.6,738.7h0M625.5,737.3h0M626.0,739.6h0M627.0,736.1h0M628.3,732.9h0M628.3,733.4h0M629.2,734.7h0" stroke="#058048" stroke-width="5.2" stroke-linecap="round" fill="none"/>
<path d="M505.7,734.6h0M507.1,736.9h0M507.9,733.7h0M508.2,732.0h0M509.0,735.7h0M510.6,737.1h0M511.4,734.0h0M511.6,737.2h0M512.7,732.3h0M513.9,734.5h0M514.1,734.5h0M515.8,734.2h0M516.1,734.4h0M517.1,728.9h0M518.0,728.2h0M518.5,736.0h0M519.9,730.6h0M520.5,731.3h0M521.7,733.2h0M522.6,735.6h0M523.1,732.8h0M524.0,731.7h0M525.1,730.8h0M526.2,732.4h0M526.5,729.5h0M527.2,733.8h0M528.2,732.1h0M529.1,736.7h0M530.1,735.0h0M531.3,737.5h0M531.8,731.9h0M532.8,736.4h0M534.0,737.9h0M534.0,737.1h0M534.9,734.0h0M536.1,738.1h0M536.7,735.5h0M537.9,735.0h0M538.9,736.0h0M539.5,735.9h0M540.1,740.6h0M541.7,739.0h0M542.3,736.0h0M543.2,731.9h0M544.2,736.0h0M544.5,735.6h0M545.3,738.6h0M546.9,736.2h0M547.6,734.6h0M548.1,735.3h0M548.8,739.8h0M550.3,732.8h0M551.0,733.4h0M552.0,734.4h0M552.9,734.4h0M553.2,738.4h0M554.2,731.3h0M555.0,733.0h0M556.4,730.7h0M556.7,731.6h0M558.0,731.7h0M558.7,733.2h0M559.7,731.7h0M560.7,730.0h0M561.4,731.7h0M562.0,733.4h0M562.6,731.8h0M564.1,732.1h0M564.4,732.0h0M565.4,730.3h0M566.2,731.0h0M567.2,737.5h0M567.9,736.0h0M568.9,735.7h0M570.0,732.5h0M570.4,734.9h0M572.0,736.3h0M572.4,737.1h0M573.4,734.2h0M574.2,737.8h0M575.1,736.4h0M576.1,739.9h0M577.0,735.8h0M577.6,739.4h0M578.4,738.0h0M579.6,734.4h0M579.9,737.5h0M580.9,738.3h0M582.1,738.9h0M583.0,736.8h0M584.0,736.1h0M584.9,730.3h0M585.6,735.4h0M586.4,736.3h0M587.4,731.6h0M588.5,735.6h0M589.3,729.9h0M589.5,732.2h0M590.7,734.1h0M591.3,730.9h0M592.0,731.0h0M593.3,731.4h0M594.3,733.8h0M594.6,735.9h0M595.9,730.7h0M596.6,732.1h0M597.9,728.4h0M598.3,729.6h0M598.9,732.2h0M599.9,732.9h0M601.2,734.9h0M601.7,729.9h0M603.1,734.5h0M603.8,733.0h0M604.5,733.1h0M605.1,735.0h0M606.6,737.3h0M607.4,733.8h0M607.7,737.8h0M608.4,734.7h0M609.6,737.1h0M610.4,738.5h0M611.8,739.3h0M612.4,736.8h0M612.9,737.5h0M613.6,737.4h0M615.3,739.6h0M615.7,738.8h0M617.0,734.5h0M617.7,737.7h0M617.9,736.4h0M619.1,733.4h0M620.0,740.7h0M620.6,731.8h0M622.0,734.1h0M622.9,736.7h0M623.7,731.9h0M624.6,738.7h0M625.5,737.3h0M626.0,739.6h0M627.0,736.1h0M628.3,732.9h0M628.3,733.4h0M629.2,734.7h0" stroke="#04a85c" stroke-width="4.0" stroke-linecap="round" fill="none"/>
<path d="M109.6,727.3h0M114.7,727.1h0M123.2,724.0h0M102.9,719.5h0M92.0,722.0h0M130.4,736.4h0M90.9,735.1h0M92.8,720.9h0M109.6,740.8h0M116.9,725.9h0M117.8,735.2h0M131.6,730.3h0M119.7,732.4h0M93.2,724.1h0M106.9,725.9h0M125.5,731.7h0M109.8,716.4h0M106.8,721.5h0M101.5,725.0h0M104.1,718.9h0M100.5,731.2h0M92.8,727.0h0M108.9,733.3h0M120.7,724.6h0M107.8,722.9h0M101.5,717.9h0M127.0,733.3h0M106.7,724.0h0M131.4,738.7h0M101.0,728.1h0M93.3,733.7h0M114.5,729.7h0M109.1,721.2h0M110.4,740.9h0M96.7,734.2h0M124.3,731.0h0M129.3,727.4h0M129.7,725.2h0M94.6,728.3h0M119.6,731.6h0M124.5,735.3h0M120.2,732.2h0M125.7,723.2h0M101.9,722.6h0M101.5,731.0h0M105.6,728.6h0M95.8,736.9h0M117.6,720.4h0M114.6,727.4h0M128.1,716.6h0M116.7,740.3h0M131.8,718.0h0M127.7,734.2h0M119.5,726.8h0M118.7,743.8h0M126.5,740.7h0M114.1,724.6h0M106.2,736.8h0M116.8,734.5h0M126.8,732.0h0M114.4,736.2h0M125.1,715.4h0M115.3,734.6h0M110.9,729.2h0M128.5,731.4h0M118.5,729.5h0M97.3,721.0h0M127.3,736.3h0M117.9,728.3h0M128.3,725.1h0M106.3,734.1h0M110.9,732.5h0M125.5,734.8h0M97.3,743.4h0M101.7,727.5h0M110.8,723.5h0M125.1,723.3h0M91.6,726.8h0M114.0,731.3h0M123.2,727.5h0M91.3,727.6h0M100.2,727.6h0M108.8,728.1h0M117.5,724.8h0M98.6,743.4h0M97.7,721.6h0M97.7,728.1h0M104.7,731.7h0M121.7,737.9h0M123.2,728.7h0M120.3,732.1h0M109.1,739.2h0M113.9,739.7h0M123.4,724.4h0M98.8,731.1h0M124.3,737.2h0M127.7,739.0h0M130.9,742.3h0M128.1,733.8h0M104.8,723.4h0M122.2,727.4h0M91.5,727.2h0M97.5,730.7h0M123.0,728.6h0M120.3,727.9h0M118.9,723.7h0M93.9,730.7h0M112.2,732.4h0M112.0,720.1h0M113.5,732.3h0M127.7,725.6h0M125.6,723.6h0M98.6,730.2h0M111.2,731.0h0M111.7,730.8h0M123.6,737.6h0M93.0,731.0h0M107.5,715.9h0M109.9,733.5h0M108.3,724.2h0M103.5,741.4h0M116.0,727.3h0M91.2,729.5h0M99.7,730.9h0M116.0,735.3h0M120.6,725.3h0M98.5,723.5h0M108.4,734.1h0M96.9,724.0h0M116.5,735.2h0M115.7,736.0h0M100.0,729.5h0M103.4,740.4h0M128.6,726.9h0M95.9,706.6h0M120.5,730.8h0M107.8,726.7h0M95.5,729.2h0M98.6,734.3h0M95.1,740.9h0M121.8,740.2h0M93.2,728.4h0M91.9,735.2h0M96.4,730.9h0M98.8,718.5h0M94.3,735.8h0M122.0,732.9h0M109.7,736.2h0M90.8,728.6h0M125.3,728.2h0M107.1,723.2h0M97.2,729.6h0M123.6,731.0h0M126.0,735.5h0M111.2,734.4h0M123.7,731.6h0M122.6,717.1h0M107.1,719.2h0M122.2,738.5h0M107.1,729.8h0M109.8,725.0h0M116.2,723.2h0M129.5,734.3h0M113.9,734.9h0M106.5,720.5h0M121.9,730.8h0M91.2,735.7h0M107.0,733.6h0M94.4,722.6h0M127.9,738.3h0M113.9,732.3h0M116.8,729.4h0M121.8,728.8h0M109.9,731.2h0M110.9,731.4h0M107.8,730.9h0M115.1,733.5h0M113.6,726.2h0M120.0,730.9h0M92.1,727.1h0M121.6,741.0h0M92.4,719.6h0M129.5,719.3h0M110.1,723.7h0M100.4,743.3h0M109.7,731.8h0M124.2,733.4h0M109.2,731.5h0M92.5,731.3h0M118.0,731.0h0M101.2,734.6h0M112.3,733.1h0M129.8,731.9h0M127.4,735.8h0M116.2,733.4h0M113.8,726.2h0M116.6,730.2h0M131.0,735.6h0M126.8,729.1h0M108.0,729.0h0M94.6,730.7h0M118.4,731.1h0M116.5,735.2h0M104.6,724.1h0M125.1,728.2h0M116.2,728.8h0M99.1,733.0h0M105.6,727.1h0M131.4,735.2h0M128.5,724.4h0M105.6,709.6h0M93.7,734.8h0M102.7,731.9h0M93.5,726.1h0M102.9,720.1h0M119.1,731.2h0M120.4,727.2h0M95.2,730.4h0M129.3,739.2h0M108.5,727.8h0M106.9,734.4h0M127.4,731.2h0M105.4,723.4h0M106.4,726.7h0M112.7,722.4h0M113.7,725.3h0M102.0,709.6h0M113.9,730.8h0M117.3,729.6h0M123.0,733.0h0M93.7,729.3h0M116.6,743.6h0M121.3,733.5h0M122.1,734.5h0M122.0,735.2h0M118.2,726.9h0M112.6,731.7h0M107.3,739.1h0M118.0,723.6h0M127.2,740.2h0M153.1,719.5h0M163.7,723.6h0M148.9,720.9h0M172.6,721.1h0M159.2,726.9h0M146.0,726.0h0M136.2,730.1h0M166.1,721.2h0M138.4,723.5h0M146.5,738.7h0M137.7,729.0h0M161.5,744.0h0M140.0,716.7h0M135.3,727.7h0M155.7,727.6h0M146.8,730.6h0M137.0,721.5h0M154.4,726.3h0M155.1,727.0h0M165.8,712.8h0M136.9,722.4h0M141.8,729.6h0M166.3,714.1h0M133.1,716.8h0M159.1,709.4h0M159.7,726.5h0M165.2,729.6h0M137.8,718.2h0M155.5,722.3h0M155.4,719.1h0M158.5,716.9h0M171.6,724.5h0M151.3,733.0h0M163.3,721.6h0M152.0,713.7h0M148.8,725.8h0M155.3,719.5h0M149.8,729.8h0M145.1,715.8h0M162.2,722.8h0M163.0,719.0h0M137.0,731.7h0M134.0,722.2h0M153.7,725.3h0M141.6,702.1h0M159.5,734.6h0M149.3,724.0h0M155.3,729.9h0M135.9,723.9h0M171.3,729.5h0M145.3,708.4h0M148.3,732.4h0M156.1,724.3h0M144.6,724.8h0M170.6,719.7h0M144.1,726.2h0M169.0,722.6h0M151.4,714.4h0M168.3,722.3h0M139.8,725.1h0M133.9,716.7h0M169.2,720.4h0M161.4,719.8h0M150.3,717.2h0M161.3,720.9h0M139.3,724.1h0M147.3,716.2h0M168.5,730.3h0M170.3,729.0h0M143.3,726.9h0M150.1,727.6h0M153.9,717.6h0M142.2,722.7h0M135.4,727.0h0M143.4,714.9h0M139.6,695.9h0M151.0,725.5h0M152.6,731.8h0M154.9,729.4h0M164.3,730.9h0M152.8,720.3h0M171.3,734.5h0M164.2,722.0h0M150.1,718.2h0M164.5,725.1h0M141.0,729.4h0M152.5,717.5h0M155.6,724.0h0M139.3,724.2h0M149.9,724.5h0M142.7,724.4h0M155.4,728.1h0M164.7,726.1h0M133.6,721.1h0M157.6,730.7h0M135.5,725.5h0M138.9,725.0h0M166.3,722.7h0M134.4,729.6h0M172.1,710.1h0M172.8,726.1h0M150.7,725.6h0M168.8,728.3h0M148.1,719.3h0M133.2,714.0h0M141.4,725.3h0M154.7,725.4h0M146.9,718.4h0M172.6,728.1h0M158.8,720.3h0M167.7,718.5h0M168.6,732.6h0M147.6,723.9h0M140.8,727.3h0M138.6,721.6h0M140.7,730.2h0M173.1,725.7h0M167.6,717.2h0M160.5,724.5h0M139.4,725.4h0M161.5,719.9h0M146.8,717.0h0M163.6,714.2h0M169.5,721.1h0M135.3,724.0h0M145.3,714.7h0M148.2,725.3h0M156.5,720.9h0M154.4,719.7h0M161.2,726.8h0M137.9,714.8h0M143.5,726.6h0M167.8,732.7h0M143.9,723.0h0M132.8,730.0h0M172.3,732.6h0M159.7,722.2h0M159.5,728.1h0M167.9,725.6h0M149.6,716.7h0M134.3,728.8h0M143.4,721.4h0M148.5,729.1h0M141.8,724.5h0M146.0,728.4h0M160.9,724.4h0M160.9,720.0h0M134.4,723.7h0M134.1,732.9h0M145.3,725.0h0M132.8,732.1h0M142.7,714.3h0M139.5,733.4h0M146.9,723.7h0M170.9,725.5h0M148.9,734.1h0M143.3,719.0h0M169.6,731.6h0M144.6,719.6h0M172.4,724.4h0M160.1,722.8h0M131.9,730.5h0M152.3,727.3h0M154.6,731.4h0M172.0,732.4h0M146.2,721.2h0M160.7,729.6h0M171.8,725.1h0M152.2,728.9h0M147.2,727.6h0M141.7,714.9h0M145.3,722.0h0M134.4,707.9h0M136.5,718.9h0M163.9,730.0h0M167.9,725.8h0M164.9,718.9h0M161.5,726.3h0M145.7,715.4h0M166.8,722.6h0M161.2,733.2h0M166.3,725.4h0M159.6,729.1h0M139.5,716.7h0M172.1,726.0h0M160.4,733.8h0M170.6,722.4h0M133.8,721.4h0M143.7,727.5h0M145.5,736.1h0M147.3,727.2h0M165.0,723.6h0M157.5,730.2h0M172.5,734.1h0M165.0,720.2h0M139.1,713.6h0M152.1,716.6h0M145.3,717.2h0M157.8,725.0h0M141.3,730.9h0M133.9,718.6h0M135.1,728.0h0M151.9,721.4h0M151.9,725.7h0M165.3,728.1h0M159.1,724.7h0M143.3,713.6h0M150.2,730.2h0M161.9,725.5h0M136.7,715.0h0M144.7,717.1h0M132.3,701.0h0M153.7,721.6h0M148.4,735.7h0M166.2,724.4h0M171.3,744.8h0M161.1,708.7h0M155.8,724.9h0M159.1,719.9h0M147.0,729.1h0M169.4,731.0h0M135.7,729.9h0M162.7,717.4h0M160.1,724.8h0M146.4,722.7h0M132.2,730.8h0M154.1,725.8h0M140.3,721.0h0M136.3,728.5h0M149.7,721.2h0M161.1,727.1h0M143.2,731.8h0M139.4,738.5h0M172.9,721.5h0M158.5,718.9h0M157.4,716.6h0M152.8,733.6h0M136.6,719.8h0M159.4,734.2h0M147.8,724.3h0M189.7,724.2h0M214.7,730.9h0M200.6,728.0h0M214.4,729.3h0M189.7,722.7h0M176.8,722.8h0M204.1,722.0h0M207.0,731.4h0M192.8,727.2h0M210.5,736.1h0M195.5,722.8h0M206.1,732.4h0M196.9,722.1h0M177.0,732.5h0M183.6,728.3h0M175.6,725.8h0M192.4,722.0h0M177.7,725.2h0M195.1,731.9h0M198.7,718.8h0M173.8,739.1h0M207.3,731.1h0M195.4,733.6h0M213.4,727.3h0M208.5,721.7h0M184.2,717.3h0M193.6,719.8h0M210.1,722.8h0M210.9,733.1h0M185.8,728.4h0M191.2,733.4h0M188.2,730.8h0M208.0,723.1h0M189.9,725.6h0M177.4,731.1h0M182.9,723.9h0M193.6,722.5h0M173.6,726.6h0M213.2,736.3h0M185.8,721.8h0M197.8,732.1h0M204.6,718.1h0M184.5,725.4h0M191.0,724.6h0M201.6,734.4h0M214.2,728.0h0M207.3,735.0h0M200.0,714.8h0M199.3,742.9h0M174.3,731.6h0M204.6,730.4h0M190.7,728.9h0M214.2,728.6h0M191.6,729.9h0M189.0,734.7h0M186.6,726.0h0M176.3,718.4h0M196.1,721.2h0M178.2,733.1h0M211.6,716.2h0M190.6,740.1h0M209.6,733.0h0M174.6,732.6h0M211.9,728.0h0M202.0,737.9h0M204.1,722.8h0M197.7,727.5h0M187.9,722.8h0M194.9,735.2h0M188.2,723.1h0M193.3,723.3h0M183.0,728.5h0M203.7,731.3h0M207.6,737.2h0M199.0,722.5h0M213.8,724.9h0M182.9,731.5h0M177.6,717.0h0M202.3,736.8h0M179.6,730.8h0M205.1,728.9h0M182.4,730.4h0M195.5,731.4h0M197.5,731.2h0M211.7,732.7h0M203.2,735.2h0M208.9,731.0h0M174.2,731.8h0M183.9,729.2h0M193.5,724.2h0M185.2,729.3h0M180.0,720.2h0M208.8,736.3h0M195.5,734.0h0M211.5,723.6h0M212.2,737.7h0M192.1,720.4h0M203.6,722.8h0M187.8,730.8h0M212.8,719.2h0M176.3,717.8h0M177.6,730.2h0M186.2,729.4h0M175.9,725.7h0M197.0,719.7h0M205.9,731.0h0M176.5,731.1h0M188.0,729.0h0M181.5,729.5h0M176.6,733.4h0M196.5,721.2h0M185.8,729.5h0M202.5,713.9h0M211.7,736.9h0M212.1,723.4h0M201.8,728.7h0M198.8,726.9h0M213.2,719.4h0M213.1,707.8h0M201.9,727.3h0M197.4,714.2h0M176.2,722.5h0M190.3,744.8h0M187.7,717.6h0M197.6,728.2h0M187.3,731.4h0M209.9,736.5h0M179.6,727.7h0M187.2,721.1h0M200.5,730.0h0M209.7,722.8h0M183.0,729.6h0M201.3,724.3h0M195.8,719.7h0M182.4,722.8h0M214.4,734.8h0M214.4,726.5h0M179.0,724.8h0M206.1,740.5h0M185.2,736.6h0M207.3,728.0h0M176.0,727.1h0M179.3,724.0h0M212.0,718.3h0M212.0,724.3h0M181.3,720.0h0M201.5,722.1h0M192.2,735.4h0M178.3,710.8h0M181.0,728.8h0M180.9,726.0h0M195.2,736.8h0M195.2,731.0h0M176.7,726.8h0M204.9,727.4h0M194.2,725.9h0M185.6,723.4h0M213.7,738.9h0M192.6,726.6h0M212.5,729.2h0M190.0,726.1h0M203.9,726.5h0M174.1,724.9h0M200.4,718.5h0M180.9,721.7h0M184.1,732.3h0M199.2,733.4h0M188.1,722.2h0M195.8,734.5h0M187.1,724.3h0M208.7,732.6h0M180.1,745.5h0M180.4,728.6h0M183.1,731.0h0M185.1,729.9h0M201.9,734.2h0M211.6,724.0h0M189.1,721.1h0M197.2,729.1h0M192.5,722.6h0M200.0,725.5h0M185.0,730.5h0M183.1,726.9h0M206.5,730.4h0M191.0,715.1h0M212.6,737.7h0M208.3,729.7h0M187.5,726.8h0M206.7,726.0h0M211.4,734.9h0M206.9,740.3h0M180.6,725.5h0M211.5,728.1h0M206.2,730.4h0M211.2,717.6h0M201.0,715.9h0M186.2,716.9h0M202.2,728.7h0M178.5,745.4h0M175.8,720.0h0M209.6,738.2h0M212.5,735.2h0M188.0,726.3h0M182.8,718.4h0M205.5,732.5h0M184.7,735.0h0M200.2,735.2h0M211.8,744.2h0M185.4,719.8h0M205.5,732.5h0M184.9,733.8h0M209.1,737.2h0M183.7,729.5h0M197.4,721.8h0M175.5,731.8h0M199.9,723.4h0M190.2,727.9h0M178.4,720.4h0M201.8,729.0h0M212.3,738.5h0M183.8,748.6h0M181.2,733.2h0M175.7,722.5h0M203.2,723.3h0M186.6,727.2h0M192.3,737.6h0M177.8,742.6h0M175.7,723.2h0M191.5,719.1h0M191.0,737.8h0M200.3,734.0h0M198.9,719.9h0M175.6,724.3h0M174.0,721.4h0M177.7,724.6h0M208.7,738.5h0M214.2,730.1h0M186.0,725.8h0M190.4,716.3h0M210.2,730.9h0M217.4,725.8h0M222.2,726.5h0M242.5,730.8h0M226.8,732.8h0M229.6,730.9h0M225.7,720.0h0M226.0,719.8h0M250.0,736.9h0M251.7,728.3h0M240.7,734.0h0M232.0,736.1h0M235.8,735.9h0M247.6,727.9h0M224.1,721.3h0M247.9,733.2h0M250.9,733.2h0M243.2,732.7h0M231.3,737.6h0M251.4,715.9h0M217.9,727.6h0M255.2,737.3h0M250.6,731.7h0M256.0,701.1h0M221.0,734.0h0M238.2,722.9h0M232.9,727.5h0M222.0,735.6h0M252.2,731.8h0M237.4,732.4h0M238.8,729.5h0M242.1,729.8h0M217.9,726.5h0M238.0,734.2h0M241.3,729.8h0M246.3,704.0h0M220.7,724.7h0M216.1,723.1h0M228.2,721.7h0M249.2,726.0h0M253.7,714.6h0M249.0,731.9h0M244.5,726.3h0M224.8,720.8h0M252.9,730.9h0M224.7,729.5h0M249.9,734.9h0M240.9,745.4h0M244.6,731.3h0M230.8,727.9h0M216.9,709.3h0M228.5,724.7h0M239.4,725.3h0M235.6,730.4h0M238.3,728.3h0M218.1,722.9h0M216.2,724.1h0M240.6,722.3h0M246.4,729.7h0M221.0,729.1h0M216.4,714.2h0M218.4,718.5h0M252.9,731.8h0M222.8,724.0h0M223.2,729.7h0M237.1,731.4h0M221.1,733.9h0M234.5,727.5h0M228.8,722.4h0M231.1,733.4h0M253.9,725.8h0M230.3,723.4h0M252.6,724.9h0M246.0,728.0h0M243.9,725.5h0M250.3,731.5h0M219.5,716.9h0M229.9,729.2h0M254.6,723.5h0M256.3,735.0h0M242.1,725.6h0M238.3,729.5h0M247.3,721.3h0M228.2,724.4h0M222.8,738.9h0M225.7,723.6h0M243.6,724.6h0M238.0,717.3h0M214.9,726.2h0M226.3,727.6h0M241.3,719.8h0M234.8,724.4h0M250.4,723.7h0M231.3,730.6h0M245.6,738.5h0M247.3,727.2h0M223.3,726.9h0M232.0,724.0h0M242.8,719.8h0M217.3,725.5h0M249.1,728.6h0M237.6,724.8h0M241.5,733.4h0M221.6,721.6h0M239.9,729.4h0M229.1,721.1h0M251.5,723.4h0M239.0,722.6h0M226.8,734.7h0M241.1,729.8h0M225.8,727.4h0M236.0,730.6h0M240.0,728.9h0M256.0,728.8h0M235.8,733.4h0M231.2,721.7h0M234.8,731.7h0M256.3,721.8h0M243.0,727.0h0M239.8,725.9h0M233.3,729.9h0M223.7,714.7h0M220.3,731.8h0M251.8,729.8h0M223.7,729.7h0M240.0,714.9h0M220.8,722.5h0M219.4,718.2h0M252.2,727.7h0M223.4,719.2h0M227.3,725.3h0M223.5,728.9h0M254.2,731.9h0M228.1,730.0h0M216.5,740.1h0M220.7,741.7h0M225.2,731.9h0M228.0,722.7h0M228.8,718.9h0M243.8,730.1h0M218.8,733.8h0M249.2,738.5h0M230.2,727.7h0M255.3,732.6h0M239.7,730.7h0M246.8,739.2h0M231.7,736.1h0M230.4,733.0h0M229.5,724.7h0M250.0,726.7h0M230.9,736.9h0M225.3,728.7h0M253.1,727.2h0M230.6,725.4h0M251.9,727.5h0M225.4,727.3h0M229.5,732.3h0M223.2,729.0h0M245.1,713.6h0M228.4,736.4h0M219.8,717.3h0M215.5,721.5h0M239.7,729.4h0M229.5,726.4h0M229.8,716.8h0M220.1,732.9h0M218.6,729.6h0M231.9,729.1h0M256.0,741.8h0M246.3,735.6h0M234.5,726.7h0M236.9,737.6h0M236.2,730.6h0M247.6,738.7h0M218.7,725.8h0M254.7,728.5h0M233.1,736.0h0M247.2,727.6h0M250.0,729.5h0M218.7,727.2h0M217.7,728.0h0M242.5,718.4h0M236.5,726.5h0M242.9,722.4h0M220.6,724.6h0M215.0,719.4h0M249.5,732.2h0M255.4,727.6h0M246.2,723.2h0M219.8,740.4h0M224.4,716.4h0M220.1,735.1h0M224.9,733.4h0M233.0,736.1h0M234.3,733.0h0M244.4,724.1h0M238.4,727.5h0M229.8,719.0h0M254.0,726.8h0M216.1,729.2h0M220.5,721.7h0M249.7,732.4h0M215.5,724.1h0M224.4,729.2h0M222.7,738.2h0M246.8,729.8h0M229.6,733.2h0M247.8,730.3h0M239.8,717.4h0M253.8,720.8h0M248.3,712.6h0M227.4,738.8h0M223.3,723.1h0M250.8,731.7h0M227.0,727.8h0M254.0,731.2h0M225.0,728.2h0M217.5,723.9h0M231.4,723.9h0M226.9,718.4h0M235.2,727.4h0M226.1,722.6h0M219.6,723.8h0M251.3,729.6h0M233.3,729.5h0M247.4,729.6h0M235.3,734.1h0M247.7,720.8h0M252.0,731.2h0M237.0,737.7h0M236.7,709.0h0M246.1,735.5h0M216.9,732.4h0M230.4,724.4h0M220.8,728.3h0M235.2,728.8h0M215.1,732.0h0M245.3,721.4h0M218.2,734.4h0M245.2,715.7h0M216.2,721.3h0M259.1,728.8h0M268.2,724.4h0M281.1,739.3h0M287.1,726.8h0M291.2,729.0h0M288.5,725.5h0M281.5,722.7h0M296.6,735.4h0M272.3,726.2h0M265.4,732.7h0M281.6,733.4h0M297.5,722.2h0M294.6,730.6h0M280.5,702.0h0M261.6,719.4h0M278.2,718.1h0M293.2,727.2h0M257.5,734.6h0M258.0,742.0h0M261.2,730.5h0M285.5,734.9h0M273.5,719.6h0M267.8,731.7h0M288.4,717.2h0M264.3,712.4h0M297.1,730.3h0M259.0,727.1h0M282.2,727.8h0M268.7,728.2h0M257.5,723.6h0M273.8,739.3h0M290.7,718.8h0M260.6,719.8h0M258.5,726.5h0M266.0,733.1h0M266.5,739.4h0M296.5,718.3h0M258.5,735.2h0M294.1,722.8h0M292.9,731.8h0M264.8,726.4h0M281.9,731.1h0M258.7,730.4h0M289.9,730.9h0M272.7,717.4h0M256.5,735.2h0M295.7,733.0h0M265.6,726.2h0M279.3,722.6h0M285.2,731.5h0M295.2,729.4h0M292.9,744.0h0M286.5,718.3h0M265.0,725.2h0M289.7,729.9h0M276.1,722.4h0M261.9,722.4h0M283.1,725.9h0M269.0,739.8h0M276.8,716.9h0M289.9,727.8h0M294.2,724.3h0M265.3,738.6h0M258.7,727.4h0M268.4,735.7h0M292.3,719.9h0M294.7,732.4h0M282.0,720.9h0M277.4,725.6h0M280.0,723.0h0M273.7,726.2h0M287.1,725.7h0M258.6,733.5h0M280.0,732.3h0M259.0,726.2h0M259.7,731.1h0M281.7,728.0h0M279.3,726.7h0M280.6,725.2h0M282.6,725.6h0M291.4,728.9h0M280.9,729.6h0M273.3,727.1h0M264.9,726.8h0M289.9,724.2h0M280.3,729.2h0M287.4,721.3h0M281.5,732.1h0M292.5,720.0h0M293.4,739.0h0M267.0,715.8h0M269.3,727.4h0M266.4,727.4h0M288.6,723.4h0M271.4,720.7h0M290.8,721.2h0M295.2,745.4h0M280.5,732.2h0M266.6,723.1h0M292.2,725.4h0M271.6,739.9h0M277.9,724.4h0M279.3,732.8h0M266.2,735.7h0M274.6,717.6h0M280.2,739.3h0M275.2,724.3h0M265.8,718.6h0M264.8,727.6h0M263.5,726.0h0M281.3,734.5h0M268.6,733.7h0M284.9,727.5h0M296.8,720.6h0M279.1,728.8h0M274.3,734.1h0M286.2,723.7h0M276.9,715.0h0M282.2,729.3h0M280.9,731.2h0M274.5,737.5h0M281.4,734.7h0M279.6,735.2h0M284.4,731.6h0M276.3,735.5h0M277.6,731.6h0M263.7,725.5h0M263.4,749.3h0M292.0,715.1h0M275.0,731.0h0M275.5,726.1h0M292.5,725.2h0M278.7,737.1h0M281.2,728.1h0M296.0,734.4h0M292.4,727.5h0M268.3,734.4h0M266.0,734.5h0M267.6,726.1h0M276.0,726.0h0M296.9,741.3h0M270.3,729.1h0M284.7,719.9h0M292.1,731.3h0M273.0,716.4h0M278.1,736.9h0M287.2,732.2h0M297.4,728.5h0M267.8,724.2h0M291.4,723.0h0M258.6,727.2h0M276.7,720.4h0M280.9,731.2h0M284.3,729.3h0M260.9,722.2h0M276.4,726.9h0M267.7,721.7h0M260.2,727.9h0M284.9,725.7h0M285.0,738.6h0M270.2,734.1h0M275.3,733.0h0M283.2,729.8h0M257.8,721.3h0M267.3,724.7h0M274.9,723.4h0M282.2,722.0h0M278.7,732.8h0M266.7,739.9h0M260.7,723.1h0M279.7,724.0h0M295.5,740.8h0M275.1,724.4h0M276.8,731.8h0M294.6,728.4h0M269.5,734.5h0M288.4,721.4h0M262.5,727.4h0M266.9,732.4h0M274.2,726.4h0M274.0,727.4h0M276.8,736.9h0M268.7,721.9h0M262.8,730.6h0M261.3,723.5h0M294.0,722.8h0M286.8,730.8h0M259.2,729.7h0M288.7,729.5h0M289.6,734.5h0M278.2,728.4h0M278.1,727.1h0M275.5,734.4h0M273.4,735.0h0M278.4,716.0h0M288.4,742.3h0M279.3,729.3h0M266.7,725.7h0M279.2,734.5h0M269.0,732.8h0M293.1,732.5h0M274.2,724.1h0M287.7,728.6h0M296.7,741.7h0M274.9,732.2h0M273.7,733.4h0M277.9,729.9h0M276.1,728.5h0M262.1,714.6h0M268.0,736.0h0M268.7,730.3h0M284.3,724.4h0M277.3,739.8h0M272.1,740.4h0M284.0,729.4h0M267.0,720.9h0M286.0,726.8h0M295.3,731.7h0M263.8,736.3h0M279.3,742.0h0M258.3,737.1h0M275.8,726.2h0M291.8,720.0h0M267.0,735.4h0M280.5,728.1h0M266.9,727.5h0M287.0,728.9h0M293.8,737.4h0M293.7,736.0h0M291.4,729.6h0M263.8,713.0h0M262.8,732.9h0M271.4,724.9h0M273.0,719.7h0M285.9,723.6h0M296.8,723.4h0M294.3,737.0h0M273.5,731.0h0M270.0,730.1h0M256.7,727.9h0M302.7,729.4h0M323.7,734.5h0M301.0,735.8h0M299.5,721.4h0M333.3,734.4h0M332.6,734.6h0M327.0,715.3h0M305.0,718.0h0M304.6,730.4h0M301.0,739.7h0M338.2,724.9h0M328.6,735.4h0M332.4,730.8h0M317.0,737.6h0M324.3,728.7h0M309.2,737.7h0M334.3,732.2h0M323.6,729.4h0M321.0,732.2h0M325.6,741.2h0M306.9,730.5h0M320.8,724.6h0M300.2,726.7h0M330.5,739.5h0M310.2,723.0h0M306.4,721.9h0M299.1,735.7h0M300.8,734.4h0M319.6,731.9h0M317.9,726.1h0M322.2,732.9h0M308.6,734.1h0M306.3,737.9h0M319.9,736.1h0M338.8,730.1h0M323.9,736.4h0M305.2,721.9h0M336.1,726.5h0M319.9,727.5h0M302.5,720.8h0M338.6,739.5h0M338.1,724.3h0M317.5,731.1h0M311.9,731.0h0M301.2,726.8h0M337.0,730.3h0M319.9,721.4h0M330.4,725.3h0M321.4,728.9h0M315.8,727.1h0M337.5,721.6h0M302.2,726.0h0M307.0,736.4h0M312.4,734.6h0M326.8,736.7h0M301.0,723.1h0M312.5,722.0h0M316.9,730.8h0M303.6,729.5h0M320.2,728.5h0M327.0,718.1h0M305.1,735.1h0M323.9,719.3h0M314.9,702.7h0M305.6,725.1h0M320.6,732.7h0M323.0,733.3h0M299.0,733.3h0M333.4,743.1h0M310.7,736.8h0M320.8,735.5h0M307.8,727.8h0M301.5,728.1h0M337.7,721.8h0M298.1,716.1h0M312.9,730.8h0M298.6,726.8h0M317.9,728.7h0M318.6,716.3h0M312.5,729.7h0M328.6,741.8h0M305.1,732.1h0M308.3,728.1h0M331.5,742.3h0M326.6,738.8h0M326.5,723.6h0M320.7,734.6h0M337.0,732.8h0M310.8,726.0h0M324.3,726.5h0M314.3,730.0h0M317.4,723.0h0M301.7,723.1h0M323.3,736.3h0M338.9,736.5h0M315.9,726.6h0M339.3,738.9h0M331.9,726.8h0M307.3,742.6h0M322.2,729.4h0M336.2,717.9h0M323.4,721.9h0M310.1,734.4h0M338.4,719.0h0M323.9,731.7h0M309.5,745.3h0M305.1,729.9h0M304.0,721.3h0M326.3,729.6h0M338.6,734.6h0M320.1,729.9h0M330.0,732.4h0M312.1,743.7h0M301.3,739.0h0M305.7,741.3h0M330.6,735.0h0M306.2,738.1h0M301.6,734.3h0M315.1,727.8h0M324.7,722.3h0M303.1,731.8h0M313.0,725.1h0M335.8,738.4h0M303.6,731.8h0M307.2,728.6h0M312.6,716.9h0M309.0,729.1h0M300.2,727.7h0M323.6,740.5h0M319.9,726.2h0M320.5,727.7h0M336.4,734.5h0M328.5,726.0h0M306.7,727.2h0M316.1,724.1h0M317.5,734.4h0M328.0,733.3h0M316.7,730.3h0M306.1,724.3h0M299.6,728.7h0M332.5,726.4h0M334.7,728.7h0M319.0,727.4h0M332.5,729.4h0M311.9,730.5h0M303.2,729.0h0M306.6,731.1h0M302.5,725.7h0M307.0,729.1h0M328.4,710.9h0M338.5,723.0h0M299.9,731.0h0M318.1,715.8h0M307.9,746.5h0M323.3,726.5h0M330.9,730.2h0M325.4,716.3h0M329.9,729.0h0M318.1,744.1h0M314.3,732.3h0M305.1,726.9h0M314.5,713.7h0M317.8,728.9h0M310.1,719.1h0M315.6,733.0h0M321.0,732.0h0M314.8,725.3h0M301.2,729.4h0M320.5,725.1h0M303.3,719.2h0M337.7,738.4h0M321.4,721.9h0M310.9,725.4h0M300.7,739.1h0M327.2,730.6h0M330.3,729.9h0M311.7,740.4h0M327.9,726.6h0M317.1,721.8h0M305.9,732.0h0M310.0,740.2h0M335.7,731.4h0M338.4,732.7h0M314.8,740.2h0M302.2,724.3h0M301.3,732.7h0M311.9,721.5h0M304.4,728.0h0M318.4,738.3h0M314.9,728.3h0M330.8,732.3h0M311.7,734.6h0M301.9,727.0h0M327.5,736.5h0M323.7,722.3h0M311.1,737.8h0M299.4,732.2h0M333.8,731.9h0M307.5,725.4h0M301.0,738.3h0M322.4,739.7h0M333.1,732.0h0M337.0,725.5h0M324.0,732.2h0M307.5,727.3h0M325.1,727.4h0M306.4,724.7h0M317.3,726.7h0M305.5,736.3h0M328.2,722.1h0M325.1,725.0h0M313.5,728.9h0M339.4,739.9h0M323.8,735.8h0M309.3,730.8h0M301.5,724.9h0M318.9,719.5h0M328.7,731.7h0M319.1,721.8h0M302.7,725.1h0M306.9,711.5h0M338.8,721.1h0M303.5,709.8h0M304.1,738.9h0M332.9,744.2h0M328.3,718.7h0M329.5,736.2h0M327.0,738.1h0M321.6,711.5h0M327.3,726.8h0M336.7,731.4h0M334.0,728.0h0M333.1,731.0h0M306.9,724.7h0M330.9,739.2h0M309.8,740.8h0M330.8,732.6h0M319.9,749.4h0M331.8,740.5h0M332.4,732.5h0M356.7,734.9h0M374.0,722.8h0M354.3,715.3h0M356.9,730.1h0M377.6,735.8h0M359.3,735.2h0M343.3,720.2h0M351.0,729.4h0M349.9,730.1h0M362.9,722.1h0M371.0,735.2h0M357.2,730.0h0M377.6,732.3h0M342.1,722.7h0M365.0,730.3h0M346.8,732.9h0M360.6,732.6h0M371.7,730.3h0M358.9,737.2h0M344.1,720.7h0M349.1,723.6h0M351.4,734.1h0M345.8,726.4h0M365.7,731.8h0M377.5,724.5h0M363.4,727.5h0M368.4,706.7h0M378.9,730.1h0M374.2,724.2h0M354.7,726.1h0M361.3,721.9h0M352.0,734.1h0M360.9,726.7h0M363.2,728.4h0M378.5,735.8h0M352.0,732.8h0M375.1,725.5h0M362.1,730.4h0M344.9,728.8h0M369.7,719.4h0M358.4,739.3h0M354.9,720.5h0M342.2,729.0h0M368.3,724.5h0M370.9,734.7h0M368.8,731.3h0M374.4,729.0h0M349.2,726.7h0M352.0,728.9h0M355.3,733.7h0M366.7,730.2h0M347.6,726.5h0M360.3,722.2h0M380.2,729.4h0M339.7,721.2h0M341.0,733.3h0M380.5,733.7h0M340.1,722.8h0M370.1,725.5h0M376.1,726.5h0M361.5,724.0h0M352.2,720.0h0M363.2,733.0h0M362.8,726.9h0M352.2,727.6h0M371.4,730.5h0M375.9,720.7h0M376.0,727.8h0M360.4,734.5h0M364.2,723.5h0M358.7,719.7h0M351.9,734.3h0M380.0,730.6h0M357.1,729.4h0M351.2,721.2h0M350.2,731.1h0M362.1,734.2h0M362.7,729.8h0M354.5,732.1h0M350.3,724.5h0M367.0,727.1h0M377.0,730.9h0M351.5,722.6h0M352.0,724.5h0M376.0,730.6h0M354.4,731.9h0M350.8,735.8h0M350.0,729.3h0M362.9,722.9h0M377.8,734.0h0M356.2,719.4h0M371.7,730.1h0M360.9,730.4h0M339.8,730.4h0M373.6,730.1h0M343.8,743.2h0M377.7,718.9h0M345.5,718.8h0M369.8,729.3h0M347.2,728.1h0M361.6,720.9h0M377.0,713.1h0M378.3,729.7h0M362.6,718.9h0M349.6,727.4h0M378.1,732.1h0M345.7,730.2h0M354.6,732.0h0M373.7,725.2h0M344.5,719.6h0M353.6,729.0h0M380.1,730.5h0M344.8,730.4h0M348.5,732.9h0M374.5,736.9h0M356.1,733.7h0M352.0,730.9h0M351.5,732.6h0M342.8,721.0h0M357.0,725.5h0M380.3,719.4h0M349.6,720.4h0M354.2,724.1h0M369.3,728.0h0M349.9,726.4h0M351.0,732.8h0M377.3,728.9h0M358.1,721.1h0M361.6,733.7h0M355.2,719.3h0M343.2,720.8h0M359.1,735.7h0M341.2,732.5h0M370.1,739.3h0M360.2,726.8h0M361.1,734.9h0M346.2,734.7h0M375.2,732.2h0M363.2,723.2h0M345.9,738.3h0M369.2,722.1h0M367.9,725.1h0M374.4,722.6h0M377.5,729.8h0M348.7,720.5h0M358.8,724.9h0M342.0,734.0h0M347.2,717.8h0M378.4,724.6h0M354.7,732.0h0M377.1,717.1h0M344.2,730.3h0M346.3,719.7h0M366.7,728.6h0M367.1,715.2h0M341.4,727.5h0M371.4,723.2h0M346.3,725.4h0M348.0,721.1h0M339.6,729.6h0M351.5,727.9h0M378.4,729.5h0M349.9,733.6h0M365.8,726.9h0M369.4,738.3h0M378.8,729.6h0M377.5,740.1h0M378.9,743.3h0M360.8,722.5h0M362.2,721.2h0M368.7,738.4h0M356.2,717.3h0M369.5,719.3h0M342.8,729.0h0M355.0,722.4h0M356.5,724.5h0M362.4,726.5h0M358.0,732.3h0M370.3,723.0h0M365.5,717.0h0M361.1,730.7h0M354.6,721.3h0M367.4,723.9h0M360.9,729.5h0M351.9,726.2h0M376.1,720.3h0M341.9,724.0h0M346.7,726.2h0M345.6,723.3h0M372.0,733.3h0M360.2,720.8h0M362.9,726.1h0M365.7,735.4h0M368.9,728.4h0M379.9,718.0h0M372.6,731.3h0M347.6,716.1h0M370.3,725.1h0M347.3,723.2h0M350.5,725.4h0M367.8,734.1h0M348.0,728.7h0M371.7,731.8h0M356.6,721.3h0M354.4,721.9h0M357.9,729.2h0M343.8,726.6h0M345.8,725.2h0M366.5,725.0h0M352.5,728.5h0M344.9,719.0h0M365.4,729.8h0M343.5,711.4h0M340.2,732.4h0M365.6,711.0h0M361.2,731.4h0M362.1,729.7h0M370.7,719.2h0M365.9,712.6h0M374.6,724.1h0M377.9,727.8h0M340.0,729.1h0M348.1,716.0h0M379.5,726.7h0M377.5,719.7h0M360.0,727.2h0M346.6,734.8h0M365.5,746.2h0M370.2,724.2h0M354.3,730.6h0M380.5,732.6h0M369.2,729.8h0M358.5,717.0h0M366.6,728.1h0M361.2,725.9h0M374.9,729.1h0M346.2,723.0h0M359.7,728.9h0M359.0,730.4h0M346.7,731.1h0M397.8,719.9h0M408.3,734.7h0M397.5,733.7h0M397.1,728.4h0M388.3,728.6h0M382.7,728.4h0M387.6,716.8h0M385.0,733.1h0M389.5,711.7h0M381.3,730.8h0M415.8,728.6h0M386.5,717.9h0M387.2,726.0h0M388.6,726.2h0M392.1,717.3h0M383.8,718.8h0M386.3,728.2h0M381.4,724.0h0M401.1,727.2h0M410.1,729.3h0M393.1,726.1h0M385.4,717.5h0M383.4,716.0h0M405.5,722.6h0M406.3,730.7h0M391.8,724.8h0M382.8,723.7h0M411.2,711.8h0M391.9,729.5h0M402.3,716.6h0M400.8,723.4h0M418.7,717.1h0M393.2,734.4h0M385.9,726.2h0M411.8,724.4h0M388.6,719.8h0M399.3,733.5h0M400.5,712.0h0M403.3,730.2h0M418.3,722.4h0M394.1,730.0h0M408.5,731.2h0M381.2,729.6h0M409.7,727.3h0M419.4,737.7h0M406.7,723.9h0M389.9,728.5h0M418.0,734.8h0M382.7,703.3h0M413.2,726.1h0M393.5,712.6h0M397.5,724.0h0M381.4,716.4h0M409.5,729.0h0M388.4,737.1h0M403.3,726.6h0M387.0,724.3h0M420.0,721.1h0M390.4,725.7h0M393.3,739.6h0M383.4,717.9h0M390.6,720.5h0M400.9,733.7h0M419.1,729.9h0M385.6,724.7h0M391.5,726.3h0M387.2,723.5h0M401.7,714.1h0M412.0,728.0h0M389.3,726.1h0M421.5,724.6h0M408.3,720.6h0M397.3,739.4h0M417.9,739.2h0M407.9,728.6h0M394.6,716.2h0M421.7,735.0h0M391.4,728.3h0M396.7,718.7h0M389.5,723.8h0M383.9,717.5h0M403.7,728.3h0M397.1,722.7h0M412.7,732.4h0M387.7,729.6h0M382.7,741.1h0M381.0,731.0h0M408.5,736.9h0M411.2,736.6h0M400.4,728.6h0M383.8,737.3h0M411.4,731.2h0M417.8,717.6h0M400.6,727.2h0M405.9,731.5h0M399.0,715.8h0M410.3,720.0h0M391.1,732.2h0M402.0,710.4h0M399.2,723.5h0M395.8,730.0h0M404.9,725.1h0M387.0,727.2h0M389.9,715.1h0M421.2,736.1h0M408.3,731.1h0M421.7,726.1h0M407.8,726.0h0M400.6,728.8h0M384.5,714.3h0M394.7,720.6h0M406.0,717.1h0M385.9,712.0h0M418.3,733.4h0M388.0,733.9h0M388.1,719.1h0M408.6,739.8h0M402.5,730.2h0M386.0,722.8h0M416.2,722.1h0M390.7,724.2h0M382.0,725.6h0M385.1,726.7h0M389.9,726.3h0M395.1,725.6h0M389.0,712.9h0M401.3,730.5h0M401.6,718.4h0M396.6,724.9h0M410.4,733.2h0M410.4,721.5h0M404.2,718.7h0M415.5,727.9h0M401.7,725.7h0M398.2,738.3h0M412.9,723.6h0M398.8,726.4h0M410.1,739.1h0M403.8,724.4h0M421.8,720.5h0M414.8,722.0h0M393.7,717.7h0M407.5,719.9h0M405.7,714.7h0M387.9,722.7h0M421.7,715.1h0M387.4,726.4h0M415.1,721.9h0M418.9,713.2h0M384.8,719.1h0M395.4,715.2h0M415.4,731.3h0M422.2,722.7h0M395.3,724.8h0M410.8,721.9h0M411.8,732.4h0M398.0,718.8h0M417.8,728.4h0M407.8,719.2h0M420.9,716.0h0M384.7,722.7h0M401.3,724.8h0M394.4,727.4h0M411.4,727.5h0M385.6,735.1h0M417.5,740.6h0M381.2,719.8h0M415.7,717.1h0M412.3,727.7h0M401.1,722.9h0M413.4,743.9h0M407.4,732.7h0M399.4,727.2h0M412.6,736.2h0M414.2,739.6h0M401.8,736.4h0M389.1,709.7h0M394.9,737.5h0M396.9,731.8h0M418.3,720.4h0M401.4,742.7h0M419.0,720.8h0M382.1,724.0h0M407.1,717.9h0M395.4,729.6h0M397.4,722.4h0M407.3,721.8h0M414.3,720.7h0M403.3,734.5h0M383.6,722.2h0M416.3,727.3h0M418.7,722.8h0M407.3,725.2h0M418.1,724.6h0M382.8,728.1h0M395.4,720.9h0M421.2,725.8h0M422.4,726.6h0M389.4,726.4h0M410.7,717.2h0M394.2,726.0h0M397.8,722.3h0M419.8,719.0h0M414.6,725.2h0M418.8,724.0h0M400.3,727.5h0M412.2,727.1h0M415.8,722.3h0M404.5,719.5h0M403.5,725.5h0M413.7,724.9h0M402.2,728.0h0M397.8,729.3h0M411.3,734.2h0M420.3,724.2h0M414.3,731.6h0M403.0,719.5h0M392.2,723.7h0M386.9,730.0h0M417.7,722.3h0M408.2,725.0h0M409.4,727.4h0M403.5,733.8h0M381.1,741.2h0M412.5,726.7h0M382.5,742.2h0M393.3,730.6h0M408.7,714.7h0M400.3,730.3h0M394.2,723.1h0M395.0,727.7h0M406.2,718.7h0M417.0,716.2h0M413.6,718.3h0M388.7,726.8h0M413.6,727.0h0M399.3,717.5h0M383.4,719.5h0M417.4,720.3h0M381.6,712.1h0M438.3,721.3h0M456.8,723.8h0M443.6,720.4h0M447.3,732.2h0M455.7,720.2h0M427.6,726.9h0M459.5,719.2h0M424.9,723.7h0M435.9,723.1h0M436.9,727.7h0M450.8,724.6h0M456.6,712.5h0M449.3,725.5h0M446.9,727.9h0M447.4,727.6h0M429.3,722.5h0M462.2,726.9h0M443.3,723.2h0M436.0,726.1h0M460.6,734.9h0M437.8,733.5h0M451.1,726.6h0M449.4,724.7h0M432.9,731.9h0M427.4,724.4h0M453.2,722.8h0M428.6,727.1h0M441.5,725.1h0M432.6,726.7h0M450.9,724.3h0M435.8,723.0h0M429.8,722.3h0M457.2,728.0h0M424.2,725.0h0M443.3,728.5h0M453.6,727.0h0M457.3,729.7h0M428.4,719.4h0M430.5,743.8h0M422.9,721.2h0M453.8,724.2h0M438.9,728.7h0M430.4,726.5h0M462.8,727.0h0M440.4,737.9h0M460.6,732.4h0M433.9,740.0h0M463.6,736.1h0M450.3,722.5h0M430.9,722.5h0M438.9,736.5h0M451.6,732.2h0M454.6,730.3h0M441.0,721.7h0M445.9,727.1h0M427.7,729.2h0M431.0,722.2h0M454.3,729.8h0M425.7,724.4h0M461.7,718.9h0M435.0,732.0h0M426.7,725.5h0M453.5,740.1h0M437.5,713.4h0M434.0,720.4h0M455.5,707.0h0M437.4,724.0h0M458.8,729.1h0M435.0,722.5h0M422.5,731.1h0M430.4,729.3h0M459.7,730.4h0M436.8,721.4h0M462.3,722.8h0M447.8,726.8h0M452.4,731.0h0M431.0,724.5h0M461.0,723.5h0M436.8,717.3h0M428.2,743.0h0M458.8,730.4h0M449.3,737.3h0M452.3,726.9h0M431.3,732.4h0M429.8,735.0h0M423.0,716.5h0M447.4,729.0h0M445.6,724.4h0M449.8,739.6h0M443.8,726.1h0M462.9,727.4h0M430.3,728.8h0M455.3,731.0h0M422.9,723.5h0M428.6,735.4h0M453.3,726.8h0M429.5,722.2h0M428.9,725.2h0M436.5,723.7h0M429.8,727.9h0M424.3,724.1h0M427.5,729.0h0M462.8,728.0h0M426.0,724.3h0M425.9,722.1h0M454.4,724.7h0M437.0,732.2h0M442.5,728.8h0M447.3,733.8h0M439.9,707.5h0M439.1,734.4h0M450.3,724.0h0M433.9,727.2h0M425.0,723.3h0M450.9,720.1h0M440.9,730.4h0M436.1,722.8h0M463.0,721.3h0M447.5,725.2h0M458.1,720.6h0M438.0,732.4h0M425.6,713.9h0M439.9,717.7h0M430.4,717.7h0M432.8,729.6h0M446.9,721.4h0M456.9,707.8h0M455.9,726.5h0M449.8,737.3h0M461.1,727.3h0M430.2,730.4h0M448.4,727.0h0M448.0,726.8h0M423.6,726.6h0M455.9,725.2h0M442.0,730.2h0M444.8,735.2h0M425.0,721.4h0M459.1,722.2h0M423.0,730.9h0M440.9,734.2h0M450.5,717.5h0M440.3,731.3h0M448.7,732.8h0M429.7,721.4h0M452.6,729.7h0M448.3,724.8h0M456.8,718.3h0M461.4,732.4h0M443.9,725.6h0M433.5,720.9h0M430.0,719.6h0M455.8,723.3h0M461.0,726.0h0M460.9,730.1h0M428.2,721.9h0M458.9,727.8h0M422.6,715.6h0M446.1,719.5h0M439.9,722.3h0M439.9,729.2h0M434.1,735.6h0M459.6,720.5h0M447.2,735.1h0M442.1,720.0h0M444.5,710.1h0M439.9,719.5h0M431.1,729.7h0M453.5,731.5h0M437.7,734.5h0M448.2,718.6h0M456.8,728.5h0M450.7,731.2h0M455.9,725.9h0M456.8,722.6h0M445.6,736.9h0M429.9,729.0h0M454.5,736.0h0M432.1,718.3h0M433.3,736.0h0M440.4,729.0h0M433.2,716.0h0M458.1,729.0h0M424.6,728.5h0M449.6,725.0h0M424.5,721.1h0M456.8,731.3h0M460.7,733.0h0M448.2,739.0h0M450.0,736.1h0M427.6,732.2h0M442.6,726.5h0M430.7,726.0h0M430.4,734.1h0M427.3,723.0h0M462.0,723.5h0M443.7,716.3h0M458.0,721.1h0M437.3,712.9h0M450.2,732.5h0M451.9,714.9h0M455.6,734.7h0M436.7,721.9h0M450.6,722.9h0M453.6,725.4h0M458.6,734.8h0M455.2,737.9h0M428.6,730.5h0M446.8,724.9h0M440.8,720.5h0M437.9,726.7h0M423.5,721.7h0M451.3,721.1h0M425.0,716.7h0M447.5,732.8h0M428.6,734.7h0M443.2,718.2h0M438.6,728.1h0M461.7,733.2h0M442.7,722.0h0M431.4,725.8h0M459.5,722.5h0M436.9,736.6h0M424.6,730.9h0M450.9,725.3h0M462.5,739.6h0M431.0,734.7h0M433.6,716.8h0M449.4,733.6h0M454.4,723.0h0M440.1,720.2h0M437.2,732.8h0M444.3,722.4h0M442.5,724.8h0M453.4,742.5h0M441.6,726.8h0M442.4,729.5h0M441.4,728.9h0M440.5,724.1h0M444.6,725.9h0M481.0,734.9h0M502.0,727.3h0M486.5,722.1h0M468.9,733.5h0M472.8,732.1h0M472.6,727.6h0M480.7,732.0h0M497.0,720.5h0M498.7,726.4h0M502.5,735.4h0M486.8,725.4h0M476.5,730.8h0M479.6,715.9h0M464.5,730.9h0M487.5,732.5h0M485.9,715.1h0M494.3,732.6h0M475.5,728.3h0M493.9,739.0h0M486.9,723.1h0M500.2,728.1h0M470.3,724.4h0M478.1,729.3h0M479.0,725.7h0M472.7,729.2h0M484.9,718.5h0M464.8,722.1h0M466.4,734.5h0M489.2,730.0h0M491.3,735.4h0M495.4,727.1h0M475.1,733.9h0M480.2,727.7h0M472.8,726.2h0M468.2,727.4h0M481.6,725.2h0M496.8,731.2h0M493.9,717.9h0M477.4,727.7h0M495.1,717.2h0M489.2,730.2h0M500.1,728.5h0M480.8,731.6h0M477.0,725.6h0M500.1,734.5h0M487.7,731.7h0M472.7,729.4h0M499.7,736.5h0M502.3,730.9h0M499.8,735.2h0M467.8,716.0h0M498.9,732.9h0M491.7,733.1h0M491.6,731.0h0M483.3,719.7h0M473.0,723.3h0M497.1,729.3h0M503.5,729.2h0M497.3,729.4h0M480.4,713.4h0M493.5,725.1h0M496.1,717.1h0M481.7,698.9h0M472.1,720.3h0M494.1,730.0h0M498.6,736.2h0M479.9,736.4h0M465.3,731.0h0M478.8,722.0h0M487.5,735.0h0M504.1,734.4h0M469.4,739.0h0M471.4,720.7h0M487.7,737.1h0M465.1,723.2h0M486.1,721.7h0M471.8,724.4h0M504.9,735.9h0M481.6,734.4h0M466.9,730.1h0M470.2,723.8h0M478.0,722.2h0M479.1,728.3h0M466.4,722.0h0M477.4,724.1h0M496.4,730.1h0M466.0,734.7h0M493.6,719.1h0M494.9,734.2h0M500.6,725.6h0M480.4,725.3h0M483.3,718.4h0M479.0,726.7h0M494.1,721.8h0M473.7,719.2h0M499.2,721.6h0M488.4,731.0h0M486.4,737.5h0M470.0,735.0h0M466.0,729.4h0M488.4,721.7h0M496.5,716.5h0M471.4,728.3h0M494.6,738.8h0M497.9,714.4h0M473.6,738.2h0M474.9,720.5h0M467.9,736.4h0M486.7,728.1h0M501.8,723.8h0M470.9,715.4h0M503.8,728.9h0M498.2,727.1h0M487.9,709.2h0M498.8,736.8h0M480.5,730.9h0M488.7,740.5h0M495.4,717.3h0M471.6,733.5h0M484.5,723.2h0M504.4,729.9h0M485.4,722.5h0M476.7,722.6h0M497.8,735.8h0M471.3,725.3h0M473.5,723.0h0M495.0,727.4h0M468.7,732.0h0M499.5,730.0h0M477.5,721.9h0M477.9,738.6h0M466.6,715.8h0M471.0,722.9h0M489.6,742.7h0M491.6,717.4h0M467.5,732.3h0M474.2,716.2h0M495.8,740.2h0M485.2,722.1h0M481.6,711.0h0M478.0,728.9h0M496.5,736.8h0M479.1,739.5h0M466.0,724.1h0M473.0,724.4h0M481.7,727.3h0M493.2,724.1h0M474.1,725.8h0M478.0,742.4h0M473.6,723.1h0M505.1,721.5h0M502.4,730.7h0M495.6,726.8h0M497.3,720.8h0M488.4,732.2h0M492.1,729.3h0M483.3,716.9h0M466.0,734.8h0M466.8,730.9h0M495.5,734.4h0M466.9,731.1h0M468.6,714.7h0M495.7,733.3h0M474.6,717.0h0M502.1,729.2h0M466.7,729.4h0M475.7,739.8h0M496.9,723.4h0M494.1,728.5h0M464.2,717.4h0M489.7,744.2h0M483.4,731.7h0M500.9,735.2h0M499.3,730.2h0M489.6,723.5h0M494.0,720.5h0M465.5,726.8h0M477.5,719.3h0M469.9,728.3h0M493.8,722.4h0M480.2,727.9h0M493.7,729.1h0M464.5,728.5h0M467.1,721.6h0M493.9,721.0h0M477.9,725.6h0M478.1,723.9h0M492.4,742.3h0M468.4,728.3h0M501.1,729.5h0M481.5,726.8h0M480.9,732.4h0M467.2,719.6h0M483.1,731.2h0M468.8,724.2h0M476.2,724.3h0M471.7,730.5h0M498.8,724.5h0M478.7,733.3h0M468.6,722.3h0M468.2,731.5h0M472.1,724.7h0M467.2,727.0h0M484.8,720.3h0M495.7,725.6h0M490.3,733.8h0M471.3,719.0h0M497.0,729.4h0M485.1,726.4h0M495.5,734.9h0M474.1,717.6h0M482.7,720.2h0M485.9,738.3h0M495.0,719.5h0M487.3,727.2h0M468.4,742.1h0M489.5,729.9h0M495.8,731.5h0M478.3,730.4h0M497.0,722.0h0M483.0,730.9h0M467.2,731.3h0M472.7,721.7h0M481.4,721.0h0M472.8,720.7h0M484.3,726.7h0M495.4,723.3h0M504.8,728.7h0M469.1,721.9h0M477.8,733.7h0M475.8,737.4h0M504.7,729.3h0M482.7,714.1h0M473.6,732.0h0M472.8,732.0h0M485.6,726.5h0M495.7,720.9h0M501.2,724.6h0M492.3,728.5h0M489.0,726.0h0M532.0,725.9h0M508.9,732.3h0M511.0,726.4h0M516.7,732.5h0M515.5,727.0h0M517.9,728.1h0M530.5,725.0h0M517.2,734.1h0M533.0,720.5h0M512.8,727.6h0M506.5,730.8h0M545.3,729.0h0M532.8,714.3h0M541.3,732.3h0M524.6,726.0h0M518.6,719.9h0M506.1,727.7h0M542.7,727.0h0M506.3,719.1h0M515.2,717.1h0M534.5,711.9h0M536.7,723.3h0M541.1,726.8h0M525.5,722.0h0M519.7,724.4h0M513.1,726.7h0M523.1,725.3h0M541.4,720.0h0M540.2,730.8h0M540.9,724.4h0M538.7,731.7h0M541.3,727.4h0M506.5,731.4h0M510.4,720.8h0M523.2,730.6h0M518.8,729.8h0M525.7,727.1h0M543.1,731.7h0M511.2,722.9h0M541.4,724.5h0M526.9,726.1h0M506.1,724.0h0M541.7,728.5h0M507.4,731.2h0M520.7,725.0h0M525.0,725.3h0M513.1,720.9h0M513.7,733.9h0M517.3,733.5h0M542.8,723.2h0M539.6,726.6h0M515.3,730.1h0M516.2,732.1h0M528.1,732.2h0M533.9,728.4h0M529.6,722.3h0M524.5,734.5h0M545.3,727.9h0M531.3,727.3h0M518.3,727.9h0M508.5,713.2h0M517.9,739.5h0M517.4,720.2h0M531.5,710.2h0M542.9,725.5h0M543.4,728.0h0M544.1,729.1h0M540.0,720.4h0M542.2,728.6h0M522.5,730.7h0M543.4,731.4h0M537.9,719.5h0M518.9,732.6h0M518.5,728.1h0M537.6,719.2h0M533.6,718.7h0M515.6,723.8h0M509.9,731.9h0M506.9,724.2h0M507.6,726.4h0M518.2,725.9h0M512.0,732.2h0M515.0,730.7h0M517.1,731.4h0M546.9,727.5h0M505.6,728.3h0M514.9,729.7h0M521.0,729.2h0M521.3,723.2h0M534.6,720.6h0M529.5,728.1h0M508.7,731.1h0M510.6,735.1h0M519.0,722.8h0M527.6,727.6h0M518.3,720.0h0M532.7,730.9h0M524.1,725.1h0M538.8,731.1h0M507.0,729.8h0M508.5,728.0h0M524.4,734.9h0M541.5,721.5h0M529.8,721.0h0M520.0,725.0h0M536.5,722.1h0M515.8,728.3h0M508.5,731.7h0M539.9,728.3h0M505.7,734.7h0M526.3,730.0h0M516.5,728.8h0M525.9,732.8h0M538.7,722.0h0M518.3,727.7h0M516.6,722.9h0M510.5,728.3h0M510.9,725.0h0M505.8,730.6h0M536.2,728.1h0M528.2,720.2h0M519.3,731.4h0M542.3,726.6h0M519.4,725.7h0M506.4,727.4h0M526.8,720.6h0M543.8,727.7h0M511.7,729.1h0M531.2,718.1h0M509.0,730.0h0M520.1,729.7h0M530.6,712.4h0M541.6,731.1h0M532.8,724.8h0M518.5,723.5h0M516.3,739.8h0M527.1,718.1h0M529.0,722.9h0M516.3,719.1h0M542.2,730.2h0M512.4,725.4h0M518.0,722.9h0M532.1,718.8h0M512.5,724.3h0M506.9,727.4h0M546.4,728.9h0M530.2,722.8h0M525.2,725.7h0M534.0,714.2h0M519.2,718.6h0M506.0,734.5h0M534.7,719.0h0M546.6,727.5h0M544.0,730.1h0M509.1,726.9h0M518.5,723.8h0M535.3,716.5h0M514.8,729.2h0M518.2,725.0h0M539.5,717.9h0M533.4,714.6h0M515.6,725.6h0M524.3,729.1h0M533.8,723.8h0M541.8,730.1h0M525.0,728.8h0M516.4,727.7h0M544.1,728.1h0M530.5,719.9h0M510.7,728.9h0M521.8,723.6h0M540.0,723.7h0M524.3,718.2h0M515.3,725.8h0M542.3,732.0h0M517.8,729.2h0M523.2,728.6h0M516.9,728.7h0M529.1,718.1h0M535.4,719.8h0M524.7,730.7h0M542.7,726.4h0M509.4,727.2h0M523.2,720.9h0M534.5,722.7h0M522.8,731.1h0M545.7,729.2h0M530.2,711.6h0M523.2,730.6h0M512.9,725.0h0M539.3,721.3h0M518.8,728.7h0M541.7,725.8h0M526.1,727.9h0M531.7,724.3h0M528.3,728.2h0M535.5,724.0h0M523.1,722.9h0M545.2,719.2h0M538.5,723.7h0M512.5,736.3h0M542.9,726.4h0M520.0,726.0h0M513.2,732.4h0M525.4,711.3h0M529.1,723.5h0M543.4,725.2h0M506.1,725.0h0M509.9,728.3h0M524.8,724.1h0M509.8,728.7h0M542.7,724.3h0M530.1,721.2h0M530.8,733.9h0M529.3,722.7h0M506.7,729.1h0M540.0,721.9h0M509.0,726.4h0M510.1,729.3h0M533.1,722.7h0M509.9,725.2h0M512.2,726.7h0M537.7,723.9h0M516.2,732.9h0M520.9,727.8h0M528.2,714.9h0M523.5,732.1h0M521.1,729.7h0M511.4,721.9h0M513.6,727.7h0M511.5,725.7h0M517.0,723.4h0M527.6,722.1h0M511.3,721.4h0M507.4,730.5h0M526.2,700.0h0M543.2,724.5h0M546.4,726.8h0M515.7,728.8h0M525.3,724.9h0M541.5,723.9h0M539.4,726.8h0M540.4,729.6h0M543.5,728.7h0M538.5,722.9h0M527.3,720.0h0M546.8,724.3h0M520.5,722.6h0M543.1,722.1h0M527.8,724.6h0M513.8,728.3h0M514.0,724.6h0M513.1,730.3h0M515.6,727.4h0M545.9,724.8h0M507.2,723.4h0M530.1,721.4h0M517.8,726.0h0M542.5,723.4h0M536.3,726.4h0M530.3,719.1h0M528.7,722.2h0M534.8,727.1h0M528.3,726.4h0M517.6,723.8h0M534.6,719.4h0M537.6,725.1h0M509.6,722.4h0M520.5,735.1h0M533.4,728.5h0M540.5,720.5h0M523.7,727.3h0M507.9,725.1h0M515.6,730.8h0M526.7,719.0h0M522.5,724.5h0M514.9,731.4h0M525.9,716.7h0M517.2,729.0h0M531.8,709.9h0M542.6,724.1h0M515.2,726.6h0M514.3,732.1h0M546.2,724.1h0M514.3,727.2h0M539.3,735.5h0M507.2,725.6h0M519.6,719.6h0M522.0,733.9h0M528.8,729.6h0M512.4,737.7h0M541.9,721.7h0M506.1,736.3h0M532.3,723.0h0M528.8,728.0h0M544.9,730.8h0M531.3,720.2h0M505.9,728.4h0M515.0,729.6h0M529.1,724.4h0M545.4,728.9h0M543.1,723.4h0M517.2,727.5h0M528.1,709.0h0M519.9,718.4h0M541.3,722.9h0M516.4,720.5h0M515.1,726.2h0M511.4,725.9h0M520.6,721.6h0M540.4,728.3h0M526.7,734.9h0M544.4,732.5h0M508.6,725.7h0M506.3,723.3h0M537.7,723.6h0M530.2,726.8h0M522.4,737.1h0M517.5,733.5h0M517.2,730.5h0M507.5,725.0h0M538.5,729.8h0M538.5,724.9h0M507.4,730.8h0M542.6,725.8h0M545.1,731.8h0M537.4,720.6h0M515.5,731.0h0M510.6,731.6h0M510.9,727.0h0M530.4,723.8h0M508.0,727.7h0M517.3,727.4h0M519.6,723.9h0M538.4,728.8h0M530.8,722.5h0M519.9,728.3h0M507.2,731.4h0M541.0,721.3h0M513.5,723.6h0M506.9,726.5h0M520.7,725.2h0M538.4,728.5h0M518.6,728.5h0M506.2,733.3h0M556.3,721.9h0M572.0,728.5h0M561.1,718.9h0M581.3,727.8h0M570.4,719.2h0M575.2,730.0h0M585.4,725.7h0M582.4,725.8h0M547.8,724.3h0M563.9,718.8h0M564.5,716.4h0M576.4,728.2h0M572.1,732.3h0M564.2,719.5h0M583.7,729.1h0M565.4,714.2h0M562.6,721.4h0M557.3,729.8h0M548.9,727.6h0M581.5,730.7h0M578.9,725.3h0M570.3,721.0h0M563.7,731.0h0M565.1,716.9h0M580.3,727.4h0M549.3,725.6h0M561.3,733.0h0M552.0,723.3h0M547.4,719.1h0M579.3,727.0h0M550.6,724.3h0M585.5,732.0h0M588.2,732.7h0M553.0,732.8h0M579.3,717.1h0M562.1,720.0h0M572.8,726.9h0M551.6,728.3h0M555.6,722.9h0M562.6,728.5h0M564.8,720.5h0M559.7,720.8h0M586.7,730.7h0M560.2,722.7h0M563.4,730.4h0M553.9,731.4h0M584.9,729.6h0M571.7,719.9h0M587.6,729.8h0M587.9,726.6h0M583.3,726.2h0M554.5,725.6h0M556.8,720.8h0M587.3,725.7h0M584.1,721.2h0M558.1,729.5h0M561.7,723.9h0M576.5,727.0h0M575.1,723.7h0M548.0,732.1h0M561.7,720.3h0M582.0,727.9h0M578.9,724.7h0M552.9,729.1h0M561.3,712.0h0M585.0,723.0h0M555.5,730.3h0M547.2,727.0h0M578.1,717.7h0M548.1,728.0h0M551.2,724.9h0M587.7,726.8h0M557.0,728.0h0M566.8,721.2h0M564.9,722.8h0M563.1,721.0h0M548.4,729.8h0M585.9,727.5h0M549.6,731.7h0M570.4,726.6h0M556.9,720.5h0M575.5,723.2h0M579.0,723.3h0M577.7,723.1h0M585.7,724.5h0M568.7,723.1h0M551.3,725.2h0M570.4,712.1h0M582.6,725.0h0M574.6,715.6h0M567.5,722.7h0M556.0,727.1h0M586.9,725.7h0M586.2,729.5h0M559.1,724.1h0M584.2,727.3h0M557.0,721.1h0M556.5,723.5h0M585.5,727.1h0M564.4,720.1h0M561.6,734.3h0M552.1,729.9h0M569.3,727.3h0M560.5,724.4h0M588.0,728.9h0M552.7,727.0h0M563.1,717.3h0M587.9,732.5h0M556.6,719.1h0M567.2,725.5h0M576.8,721.8h0M580.4,722.6h0M574.1,730.1h0M587.4,722.1h0M569.2,725.1h0M551.3,724.8h0M581.3,728.6h0M568.5,725.7h0M556.0,725.0h0M564.7,724.2h0M570.4,728.7h0M547.9,728.8h0M584.7,732.1h0M570.7,722.3h0M579.1,728.3h0M553.6,724.5h0M568.9,723.5h0M571.2,719.8h0M550.8,729.2h0M582.5,728.4h0M574.1,726.9h0M586.7,728.0h0M586.1,733.0h0M549.9,731.4h0M578.5,724.0h0M582.8,729.3h0M563.8,710.5h0M571.5,730.5h0M579.9,727.6h0M551.2,724.1h0M555.9,728.9h0M565.1,711.0h0M559.8,724.9h0M556.0,723.9h0M563.9,726.4h0M562.9,720.5h0M561.3,723.3h0M570.2,724.6h0M574.2,724.7h0M559.4,729.2h0M580.6,723.0h0M578.6,722.9h0M574.3,734.1h0M580.8,729.5h0M558.6,723.0h0M561.0,728.8h0M552.7,723.3h0M573.5,730.0h0M548.5,732.7h0M584.9,728.9h0M564.7,719.5h0M553.8,721.8h0M565.9,718.8h0M559.9,729.1h0M563.1,720.3h0M575.6,726.7h0M582.2,728.4h0M583.2,728.4h0M561.0,717.8h0M555.4,725.0h0M559.0,718.3h0M574.8,731.3h0M570.4,729.2h0M552.4,727.9h0M566.7,721.0h0M549.4,734.4h0M547.6,729.3h0M574.5,725.9h0M578.3,733.3h0M580.4,721.9h0M547.8,725.5h0M578.4,730.1h0M565.8,729.9h0M551.6,728.0h0M555.2,725.4h0M566.8,722.4h0M571.4,714.3h0M558.4,717.6h0M584.4,730.4h0M571.8,717.3h0M548.5,725.0h0M553.0,724.7h0M547.7,735.0h0M568.3,725.8h0M550.6,723.9h0M571.5,718.9h0M561.1,720.7h0M584.6,723.2h0M552.0,717.7h0M577.6,727.9h0M586.4,729.2h0M547.7,728.8h0M578.3,722.4h0M561.5,720.5h0M548.5,728.5h0M583.7,728.3h0M587.8,726.3h0M565.2,707.3h0M583.1,721.8h0M582.8,732.9h0M573.4,725.4h0M579.0,732.4h0M573.4,730.3h0M548.4,728.4h0M566.3,718.1h0M549.1,724.2h0M551.0,727.1h0M560.3,726.6h0M556.3,725.6h0M575.3,721.7h0M569.1,729.4h0M583.3,724.0h0M581.0,724.6h0M569.7,724.8h0M580.9,730.2h0M574.8,724.3h0M582.5,725.2h0M556.9,719.8h0M572.3,725.2h0M570.4,719.2h0M573.2,725.2h0M576.4,729.6h0M582.4,730.7h0M552.9,723.7h0M582.9,719.1h0M556.0,726.5h0M573.2,722.9h0M563.9,731.2h0M569.9,731.8h0M572.2,718.3h0M550.8,733.2h0M585.5,731.7h0M557.3,735.9h0M575.3,735.8h0M563.2,726.5h0M562.2,731.1h0M578.5,722.9h0M583.6,729.5h0M567.8,715.8h0M552.1,709.7h0M575.7,727.0h0M576.1,721.5h0M554.8,728.0h0M562.5,722.1h0M583.7,727.9h0M578.6,731.0h0M584.6,726.6h0M571.5,722.8h0M551.5,725.6h0M549.7,728.4h0M574.7,719.9h0M584.8,725.0h0M557.5,723.1h0M568.8,728.7h0M583.8,730.4h0M572.8,718.7h0M583.4,722.9h0M551.7,725.3h0M574.3,731.4h0M554.3,722.2h0M554.0,726.6h0M585.7,732.9h0M586.1,727.3h0M575.6,720.5h0M569.6,725.0h0M583.9,729.7h0M553.8,721.5h0M579.5,725.5h0M576.5,731.8h0M553.5,726.3h0M566.7,722.2h0M577.4,717.0h0M549.4,729.1h0M563.7,724.6h0M571.1,718.1h0M572.7,722.0h0M587.8,727.7h0M581.9,728.2h0M547.3,727.9h0M552.1,730.4h0M569.6,737.5h0M567.1,720.8h0M576.7,717.1h0M582.5,725.5h0M563.5,725.4h0M582.8,726.0h0M585.9,729.6h0M569.8,721.7h0M579.0,731.9h0M554.2,727.3h0M549.6,725.6h0M565.3,720.4h0M553.0,725.7h0M560.4,731.2h0M587.9,721.1h0M558.1,716.8h0M563.3,719.8h0M562.0,720.7h0M568.8,721.8h0M586.0,728.5h0M560.0,725.3h0M581.3,725.9h0M556.9,728.4h0M564.4,723.0h0M575.0,724.4h0M585.8,729.8h0M577.3,723.2h0M571.5,712.2h0M573.7,726.4h0M574.2,713.9h0M584.2,729.5h0M555.9,728.2h0M558.9,716.3h0M584.9,730.0h0M583.8,724.0h0M580.2,733.4h0M566.6,718.4h0M579.1,727.6h0M554.0,721.9h0M578.4,730.0h0M575.7,735.0h0M551.4,725.5h0M569.6,719.0h0M565.3,721.8h0M567.6,721.3h0M547.1,727.0h0M580.4,726.7h0M588.4,733.5h0M570.7,725.5h0M563.8,726.5h0M560.6,719.5h0M577.0,726.4h0M553.7,726.3h0M584.9,728.6h0M575.9,731.5h0M618.9,731.6h0M607.6,720.6h0M605.3,730.2h0M595.5,725.6h0M621.4,729.6h0M617.5,727.1h0M624.5,732.6h0M610.3,730.8h0M597.8,728.9h0M605.8,719.4h0M624.5,734.7h0M605.6,721.5h0M613.2,726.5h0M588.5,723.6h0M608.6,725.4h0M600.3,710.6h0M626.6,733.1h0M594.0,723.7h0M622.1,729.2h0M597.8,725.6h0M614.4,727.0h0M592.5,718.2h0M608.0,726.0h0M616.2,726.3h0M606.4,724.7h0M600.3,727.4h0M622.7,732.0h0M614.3,727.1h0M618.1,730.5h0M598.9,724.1h0M620.6,728.4h0M613.5,727.8h0M619.5,728.3h0M605.4,721.8h0M589.7,725.6h0M591.7,729.1h0M600.5,722.4h0M613.1,708.9h0M608.6,721.9h0M626.5,714.9h0M603.1,717.6h0M624.8,733.9h0M628.1,726.8h0M625.8,732.6h0M613.2,724.5h0M604.9,734.8h0M607.5,717.1h0M624.6,733.2h0M600.7,731.4h0M628.6,714.3h0M598.5,724.0h0M609.9,712.5h0M593.0,725.8h0M599.9,730.2h0M593.3,720.5h0M594.8,723.9h0M614.8,727.7h0M606.7,728.2h0M595.3,721.9h0M613.6,735.0h0M592.0,727.2h0M621.3,715.1h0M613.4,721.0h0M590.3,733.6h0M620.3,735.7h0M620.6,734.2h0M610.0,722.7h0M607.1,722.4h0M604.3,719.8h0M589.0,722.0h0M596.4,722.3h0M589.6,724.2h0M600.6,721.6h0M608.1,728.1h0M620.5,723.0h0M608.7,722.6h0M590.6,724.5h0M630.0,715.3h0M598.9,720.1h0M593.3,720.8h0M619.8,735.9h0M618.2,726.7h0M595.7,725.1h0M629.0,729.6h0M615.6,726.4h0M629.9,723.0h0M596.0,725.4h0M590.8,726.6h0M592.0,728.2h0M603.7,726.2h0M616.6,712.0h0M594.8,733.7h0M592.7,722.1h0M618.6,733.7h0M590.4,727.3h0M589.5,720.8h0M606.5,729.6h0M609.3,730.7h0M622.3,730.1h0M600.3,724.5h0M614.3,722.2h0M628.2,731.3h0M613.2,729.5h0M599.0,726.2h0M601.1,719.4h0M596.8,731.2h0M621.9,730.6h0M621.0,727.2h0M625.6,733.9h0M629.1,727.4h0M593.6,727.5h0M605.5,724.9h0M629.1,729.2h0M605.6,715.8h0M609.4,722.7h0M603.1,725.2h0M595.6,724.3h0M608.3,728.8h0M613.8,731.8h0M595.5,726.9h0M618.2,734.8h0M605.5,719.5h0M609.2,725.1h0M590.1,730.5h0M614.6,730.8h0M613.4,724.8h0M599.9,733.9h0M623.6,730.0h0M618.1,720.8h0M604.2,726.3h0M623.7,730.5h0M618.8,731.7h0M624.1,725.8h0M616.4,736.8h0M595.9,726.4h0M600.4,715.9h0M622.6,730.6h0M616.6,727.4h0M614.4,725.4h0M629.6,728.4h0M612.2,724.8h0M589.0,720.4h0M620.1,739.1h0M594.0,723.5h0M603.5,719.4h0M592.9,723.3h0M601.1,720.1h0M597.2,724.2h0M603.9,719.3h0M629.6,731.5h0M588.6,728.6h0M590.9,725.6h0M618.8,735.8h0M608.3,726.8h0M612.0,729.3h0M629.4,730.9h0M607.5,717.4h0M603.2,728.2h0M614.1,727.9h0M624.1,722.9h0M603.7,728.5h0M602.2,717.8h0M629.7,729.5h0M607.2,728.6h0M616.0,727.4h0M604.7,714.7h0M602.8,720.9h0M592.2,715.8h0M596.4,717.9h0M617.5,723.9h0M594.9,724.7h0M613.9,727.9h0M610.9,732.1h0M612.1,733.6h0M625.6,728.9h0M592.6,727.0h0M593.1,729.0h0M588.8,728.7h0M613.1,723.4h0M609.7,722.4h0M626.1,737.4h0M614.9,737.1h0M589.2,723.0h0M598.3,726.6h0M616.6,725.0h0M594.9,720.9h0M625.1,728.9h0M597.6,723.0h0M619.1,723.0h0M599.4,727.0h0M600.5,728.9h0M620.8,731.2h0M628.2,727.4h0M626.0,731.5h0M626.4,721.9h0M596.2,721.9h0M625.4,737.4h0M612.8,733.5h0M628.7,727.5h0M598.8,729.3h0M593.1,730.4h0M621.8,724.5h0M601.6,722.3h0M622.6,731.3h0M622.6,724.8h0M594.2,727.3h0M590.2,730.4h0M598.6,730.1h0M597.0,725.3h0M597.4,717.4h0M612.4,731.6h0M612.9,726.0h0M626.9,726.5h0M623.7,734.3h0M617.2,730.8h0M627.7,728.4h0M618.7,722.4h0M601.9,719.6h0M590.6,734.2h0M608.5,725.2h0M612.9,724.3h0M614.0,723.1h0M597.1,726.9h0M597.3,729.4h0M624.4,728.3h0M591.4,729.8h0M622.9,735.4h0M606.2,720.1h0M614.3,733.3h0M605.4,725.4h0M619.1,724.3h0M623.5,731.5h0M624.5,731.9h0M607.6,720.7h0M592.6,728.0h0M602.7,726.1h0M603.4,722.9h0M589.0,727.7h0M613.9,736.9h0M603.3,717.9h0M609.0,729.9h0M622.9,726.0h0M623.2,726.3h0M625.9,730.3h0M591.6,728.6h0M611.9,719.0h0M606.6,725.7h0M598.2,725.9h0M616.7,723.3h0M629.3,728.9h0M625.0,724.3h0M594.6,730.7h0M592.2,722.8h0M617.8,726.7h0M596.8,724.1h0M600.7,723.2h0M619.9,731.0h0M624.2,727.2h0M619.0,719.4h0M617.5,727.8h0M600.9,724.0h0M617.6,705.0h0M610.4,724.7h0M599.9,726.2h0M589.5,727.3h0M595.1,730.5h0M604.2,727.6h0M607.6,721.6h0M616.4,729.1h0M588.8,727.0h0M607.8,727.2h0M607.7,718.7h0M626.4,727.0h0M611.5,726.3h0M613.5,726.6h0M617.0,733.4h0M594.5,724.0h0M618.3,721.9h0M628.9,732.9h0M625.3,729.1h0M592.7,717.3h0M595.3,728.3h0M598.1,730.6h0M611.9,724.6h0M617.6,731.9h0M609.6,723.2h0M630.0,731.3h0M620.6,725.3h0M608.9,725.2h0M598.4,722.1h0M606.3,716.0h0M592.4,729.4h0M603.3,717.0h0M607.2,718.7h0M597.2,716.9h0M617.0,732.9h0M618.4,732.3h0M604.0,721.3h0M592.5,727.6h0M594.9,722.1h0M597.5,718.9h0M597.7,724.0h0M598.0,720.9h0M624.7,724.1h0M604.7,728.2h0M609.2,724.4h0M609.9,737.6h0M589.3,721.7h0M614.4,722.0h0M601.7,728.5h0M618.4,733.7h0M619.7,730.8h0M595.3,723.7h0M597.4,712.8h0M611.4,728.7h0M627.6,731.8h0M601.1,721.1h0M613.5,725.7h0M599.8,715.5h0M616.7,716.5h0M628.0,726.6h0M591.3,727.7h0M602.9,720.2h0M612.1,722.0h0M621.3,726.2h0M625.4,732.5h0M590.5,727.8h0M622.7,731.9h0M622.0,726.6h0M625.4,735.2h0M624.5,723.5h0M627.7,734.4h0M603.6,721.3h0M615.5,722.0h0M588.7,723.2h0M621.1,731.9h0M589.7,723.0h0M625.9,723.5h0M595.4,726.4h0M605.1,732.2h0M616.3,727.0h0M629.3,729.5h0M592.4,723.5h0M588.7,722.8h0M616.7,729.8h0M627.1,746.9h0M625.6,730.0h0M625.0,742.7h0M627.4,734.0h0M627.4,730.3h0M625.8,736.1h0M627.8,740.8h0M626.1,746.1h0M626.0,745.7h0M626.2,743.4h0M627.5,732.3h0M626.0,743.1h0M629.7,740.9h0M626.0,746.0h0M626.8,736.4h0M627.1,735.5h0M629.7,737.3h0M627.4,738.1h0M626.1,734.2h0M629.0,738.0h0M627.8,730.3h0M625.0,740.2h0M625.3,746.2h0M627.4,734.7h0M629.7,734.0h0M628.8,736.7h0M627.3,745.3h0M625.9,740.3h0M627.5,745.1h0M625.3,742.0h0M626.9,732.9h0M628.8,745.1h0M626.6,735.5h0M626.3,731.8h0M629.8,738.8h0M625.5,738.4h0M625.1,732.5h0M629.1,734.2h0M628.0,746.7h0M627.4,732.6h0M427.4,740.9h0M242.0,758.2h0M448.8,744.1h0M323.1,762.3h0M243.3,745.9h0M443.6,754.8h0M316.6,789.9h0M234.5,770.4h0M202.7,763.5h0M234.6,741.0h0M248.1,786.6h0M326.9,740.7h0M238.3,750.7h0M141.6,766.5h0M230.6,759.8h0M238.4,746.5h0M373.4,780.4h0M119.7,762.3h0M189.0,800.9h0M240.2,824.2h0M110.4,809.4h0M107.3,808.8h0M239.3,774.5h0M230.1,771.3h0M456.5,752.5h0M406.1,771.3h0M312.8,753.4h0M491.2,757.6h0M374.5,774.6h0M306.4,768.7h0M112.5,739.6h0M460.6,785.2h0M503.9,778.8h0M229.2,760.8h0M374.6,739.8h0M322.2,741.2h0M491.4,766.0h0M315.7,874.6h0M318.4,895.4h0M355.4,753.5h0M326.2,802.6h0M241.1,822.4h0M241.7,801.4h0M397.7,753.5h0M367.4,799.7h0M313.6,748.4h0M121.7,763.5h0M379.3,836.5h0M316.3,806.6h0M238.6,756.0h0M202.6,797.8h0M232.3,744.2h0M286.6,761.3h0M279.9,742.1h0M324.6,750.2h0M265.5,741.7h0M375.3,882.0h0M321.6,756.0h0M418.4,740.1h0M503.4,774.2h0M146.4,751.8h0M329.8,824.1h0M114.6,753.1h0M166.7,752.6h0M461.6,761.8h0M242.1,765.2h0M238.4,808.0h0M163.8,757.3h0M125.4,755.7h0M234.7,811.7h0M229.2,770.5h0M180.1,739.2h0M216.6,748.7h0M394.6,746.9h0M353.3,744.0h0M152.3,778.1h0M312.3,767.7h0M176.6,767.7h0M316.3,764.2h0M424.0,746.9h0M318.2,769.5h0M233.7,772.2h0M238.0,798.1h0M376.0,817.8h0M467.2,751.0h0M321.6,869.4h0M216.4,741.5h0M230.4,765.6h0M235.3,752.7h0M321.8,747.1h0M226.5,747.8h0M228.0,752.9h0M453.9,755.0h0M315.6,761.2h0M107.1,751.0h0M320.0,765.5h0M350.1,741.1h0M241.6,740.3h0M313.9,791.5h0M317.0,776.4h0M324.0,754.1h0M289.6,790.7h0M270.8,781.2h0M249.6,739.9h0M247.4,800.1h0M111.4,745.2h0M316.2,745.4h0M106.1,807.9h0M235.8,823.6h0M327.5,744.9h0M231.2,740.8h0M100.2,759.7h0M288.9,793.6h0M212.5,868.7h0M477.1,767.3h0M327.9,760.9h0M257.0,744.4h0M442.1,778.9h0M481.9,773.8h0M233.2,882.9h0M245.4,810.8h0M239.2,761.7h0M424.2,766.8h0M327.8,772.0h0M235.2,744.3h0M321.1,795.6h0M411.7,751.2h0M312.9,739.2h0M318.9,765.4h0M427.5,809.1h0M310.6,789.9h0M329.7,768.5h0M135.0,774.0h0M386.1,748.3h0M327.8,812.3h0M373.9,750.3h0M485.6,799.3h0M313.8,770.7h0M234.3,748.1h0M116.5,785.0h0M305.9,791.6h0M105.9,794.2h0M320.3,829.8h0M333.1,826.3h0M479.6,779.8h0M121.9,820.7h0M322.6,815.3h0M474.4,742.4h0M420.4,758.1h0M215.0,743.1h0M239.0,811.2h0M246.3,758.7h0M341.4,777.7h0M322.7,759.5h0M340.2,775.9h0M241.9,748.1h0M246.8,774.4h0M312.9,760.3h0M325.9,761.1h0M322.7,776.2h0M414.7,790.4h0M140.3,757.8h0M234.3,772.0h0M303.9,879.4h0M413.0,745.5h0M271.8,780.4h0M368.2,754.0h0M231.1,760.1h0M262.1,754.5h0M233.0,747.3h0M321.4,766.1h0M391.8,770.1h0M234.4,750.4h0M232.7,745.9h0M317.7,789.9h0M237.0,759.7h0M231.7,773.8h0M232.8,742.0h0M240.9,748.9h0M233.2,868.8h0M320.1,816.8h0M119.5,752.2h0M275.9,787.7h0M329.9,756.2h0M282.6,749.0h0M239.5,824.4h0M227.4,742.5h0M442.5,764.6h0M239.7,752.4h0M423.1,776.0h0M241.0,809.8h0M244.0,823.5h0M393.5,748.1h0M327.5,774.6h0M236.7,815.9h0M239.6,775.4h0M242.5,761.4h0M439.6,864.9h0M436.9,743.3h0M174.2,740.9h0M101.0,763.5h0M310.3,797.6h0M113.0,787.4h0M421.0,746.0h0M341.3,753.4h0M296.6,801.1h0M252.0,813.3h0M323.2,794.5h0M329.0,878.4h0M185.3,765.2h0M397.8,752.5h0M327.4,748.4h0M468.0,796.9h0M315.0,742.7h0M207.1,789.3h0M440.5,778.9h0M309.0,772.5h0M323.7,774.8h0M395.3,745.8h0M237.6,771.2h0M116.4,745.5h0M334.3,785.4h0M369.0,792.8h0M366.7,770.1h0M164.7,797.3h0M240.3,739.1h0M285.8,783.0h0M229.1,769.2h0M187.9,757.3h0M331.9,757.3h0M384.6,789.0h0M400.3,744.6h0M260.4,739.3h0M309.7,753.5h0M103.3,751.4h0M238.3,781.1h0M111.2,752.0h0M233.3,884.0h0M364.0,741.0h0M325.0,743.2h0M393.1,740.1h0M305.1,771.4h0M469.8,777.9h0M240.5,752.6h0M415.2,747.3h0M444.2,740.3h0M389.4,765.0h0M414.5,826.8h0M331.8,774.4h0M238.7,773.2h0M240.1,769.4h0M240.1,744.2h0M97.6,743.4h0M338.1,792.9h0M323.1,809.8h0M327.1,778.8h0M402.0,807.0h0M329.3,812.0h0M412.2,745.1h0M391.0,785.3h0M180.4,746.0h0M233.3,755.6h0M235.0,753.2h0M399.1,751.5h0M325.1,748.7h0M390.8,714.2h0M158.8,702.5h0M208.5,706.3h0M213.8,713.6h0M484.0,710.5h0M261.2,705.6h0M307.4,713.5h0M99.8,714.1h0M324.4,712.3h0M489.9,707.0h0M122.8,715.1h0M105.9,712.8h0M457.2,709.7h0M180.5,690.9h0M396.5,715.6h0M321.9,716.2h0M152.1,715.5h0M395.9,706.1h0M319.9,680.6h0M138.3,691.2h0M127.4,714.9h0M439.8,711.2h0M214.2,710.3h0M247.5,710.7h0M523.3,691.3h0M129.3,714.1h0M221.4,695.3h0M264.2,706.3h0M505.0,708.2h0M243.1,711.4h0M380.9,716.6h0M262.0,707.7h0M180.5,701.3h0M168.4,712.7h0M386.5,572.8h0M221.1,602.1h0M170.3,617.3h0M180.0,636.9h0M194.7,644.7h0M111.5,656.0h0M236.3,650.6h0M326.8,648.6h0M489.2,649.6h0M309.2,664.8h0M222.6,667.2h0M233.4,671.1h0M131.1,669.2h0M205.5,673.1h0M566.5,673.1h0M237.3,682.9h0M239.5,683.5h0M117.4,689.2h0M130.1,686.8h0M458.9,685.3h0M464.8,688.2h0M469.7,688.2h0M480.9,685.8h0M388.9,692.6h0M400.2,694.1h0M300.9,692.6h0M270.1,697.5h0M337.6,696.6h0M326.8,699.0h0M199.6,700.5h0M204.5,699.5h0M215.3,699.0h0M109.6,699.0h0M459.9,699.0h0M402.2,701.4h0M110.6,919.2h0M253.4,918.2h0M309.2,920.6h0M317.0,904.5h0M321.9,907.9h0M314.0,926.5h0M319.0,929.0h0M317.0,931.4h0M318.0,952.0h0M393.8,933.8h0M397.3,937.8h0M397.3,902.0h0M431.5,937.8h0M473.6,945.1h0M279.8,897.2h0M96.0,881.0h0M110.5,881.5h0M197.0,882.5h0M205.0,880.0h0M470.0,882.0h0M552.0,886.0h0M556.0,888.0h0M580.0,886.0h0M415.0,888.0h0" stroke="#3200c0" stroke-width="5.2" stroke-linecap="round" fill="none"/>
<path d="M109.6,727.3h0M114.7,727.1h0M123.2,724.0h0M102.9,719.5h0M92.0,722.0h0M130.4,736.4h0M90.9,735.1h0M92.8,720.9h0M109.6,740.8h0M116.9,725.9h0M117.8,735.2h0M131.6,730.3h0M119.7,732.4h0M93.2,724.1h0M106.9,725.9h0M125.5,731.7h0M109.8,716.4h0M106.8,721.5h0M101.5,725.0h0M104.1,718.9h0M100.5,731.2h0M92.8,727.0h0M108.9,733.3h0M120.7,724.6h0M107.8,722.9h0M101.5,717.9h0M127.0,733.3h0M106.7,724.0h0M131.4,738.7h0M101.0,728.1h0M93.3,733.7h0M114.5,729.7h0M109.1,721.2h0M110.4,740.9h0M96.7,734.2h0M124.3,731.0h0M129.3,727.4h0M129.7,725.2h0M94.6,728.3h0M119.6,731.6h0M124.5,735.3h0M120.2,732.2h0M125.7,723.2h0M101.9,722.6h0M101.5,731.0h0M105.6,728.6h0M95.8,736.9h0M117.6,720.4h0M114.6,727.4h0M128.1,716.6h0M116.7,740.3h0M131.8,718.0h0M127.7,734.2h0M119.5,726.8h0M118.7,743.8h0M126.5,740.7h0M114.1,724.6h0M106.2,736.8h0M116.8,734.5h0M126.8,732.0h0M114.4,736.2h0M125.1,715.4h0M115.3,734.6h0M110.9,729.2h0M128.5,731.4h0M118.5,729.5h0M97.3,721.0h0M127.3,736.3h0M117.9,728.3h0M128.3,725.1h0M106.3,734.1h0M110.9,732.5h0M125.5,734.8h0M97.3,743.4h0M101.7,727.5h0M110.8,723.5h0M125.1,723.3h0M91.6,726.8h0M114.0,731.3h0M123.2,727.5h0M91.3,727.6h0M100.2,727.6h0M108.8,728.1h0M117.5,724.8h0M98.6,743.4h0M97.7,721.6h0M97.7,728.1h0M104.7,731.7h0M121.7,737.9h0M123.2,728.7h0M120.3,732.1h0M109.1,739.2h0M113.9,739.7h0M123.4,724.4h0M98.8,731.1h0M124.3,737.2h0M127.7,739.0h0M130.9,742.3h0M128.1,733.8h0M104.8,723.4h0M122.2,727.4h0M91.5,727.2h0M97.5,730.7h0M123.0,728.6h0M120.3,727.9h0M118.9,723.7h0M93.9,730.7h0M112.2,732.4h0M112.0,720.1h0M113.5,732.3h0M127.7,725.6h0M125.6,723.6h0M98.6,730.2h0M111.2,731.0h0M111.7,730.8h0M123.6,737.6h0M93.0,731.0h0M107.5,715.9h0M109.9,733.5h0M108.3,724.2h0M103.5,741.4h0M116.0,727.3h0M91.2,729.5h0M99.7,730.9h0M116.0,735.3h0M120.6,725.3h0M98.5,723.5h0M108.4,734.1h0M96.9,724.0h0M116.5,735.2h0M115.7,736.0h0M100.0,729.5h0M103.4,740.4h0M128.6,726.9h0M95.9,706.6h0M120.5,730.8h0M107.8,726.7h0M95.5,729.2h0M98.6,734.3h0M95.1,740.9h0M121.8,740.2h0M93.2,728.4h0M91.9,735.2h0M96.4,730.9h0M98.8,718.5h0M94.3,735.8h0M122.0,732.9h0M109.7,736.2h0M90.8,728.6h0M125.3,728.2h0M107.1,723.2h0M97.2,729.6h0M123.6,731.0h0M126.0,735.5h0M111.2,734.4h0M123.7,731.6h0M122.6,717.1h0M107.1,719.2h0M122.2,738.5h0M107.1,729.8h0M109.8,725.0h0M116.2,723.2h0M129.5,734.3h0M113.9,734.9h0M106.5,720.5h0M121.9,730.8h0M91.2,735.7h0M107.0,733.6h0M94.4,722.6h0M127.9,738.3h0M113.9,732.3h0M116.8,729.4h0M121.8,728.8h0M109.9,731.2h0M110.9,731.4h0M107.8,730.9h0M115.1,733.5h0M113.6,726.2h0M120.0,730.9h0M92.1,727.1h0M121.6,741.0h0M92.4,719.6h0M129.5,719.3h0M110.1,723.7h0M100.4,743.3h0M109.7,731.8h0M124.2,733.4h0M109.2,731.5h0M92.5,731.3h0M118.0,731.0h0M101.2,734.6h0M112.3,733.1h0M129.8,731.9h0M127.4,735.8h0M116.2,733.4h0M113.8,726.2h0M116.6,730.2h0M131.0,735.6h0M126.8,729.1h0M108.0,729.0h0M94.6,730.7h0M118.4,731.1h0M116.5,735.2h0M104.6,724.1h0M125.1,728.2h0M116.2,728.8h0M99.1,733.0h0M105.6,727.1h0M131.4,735.2h0M128.5,724.4h0M105.6,709.6h0M93.7,734.8h0M102.7,731.9h0M93.5,726.1h0M102.9,720.1h0M119.1,731.2h0M120.4,727.2h0M95.2,730.4h0M129.3,739.2h0M108.5,727.8h0M106.9,734.4h0M127.4,731.2h0M105.4,723.4h0M106.4,726.7h0M112.7,722.4h0M113.7,725.3h0M102.0,709.6h0M113.9,730.8h0M117.3,729.6h0M123.0,733.0h0M93.7,729.3h0M116.6,743.6h0M121.3,733.5h0M122.1,734.5h0M122.0,735.2h0M118.2,726.9h0M112.6,731.7h0M107.3,739.1h0M118.0,723.6h0M127.2,740.2h0M153.1,719.5h0M163.7,723.6h0M148.9,720.9h0M172.6,721.1h0M159.2,726.9h0M146.0,726.0h0M136.2,730.1h0M166.1,721.2h0M138.4,723.5h0M146.5,738.7h0M137.7,729.0h0M161.5,744.0h0M140.0,716.7h0M135.3,727.7h0M155.7,727.6h0M146.8,730.6h0M137.0,721.5h0M154.4,726.3h0M155.1,727.0h0M165.8,712.8h0M136.9,722.4h0M141.8,729.6h0M166.3,714.1h0M133.1,716.8h0M159.1,709.4h0M159.7,726.5h0M165.2,729.6h0M137.8,718.2h0M155.5,722.3h0M155.4,719.1h0M158.5,716.9h0M171.6,724.5h0M151.3,733.0h0M163.3,721.6h0M152.0,713.7h0M148.8,725.8h0M155.3,719.5h0M149.8,729.8h0M145.1,715.8h0M162.2,722.8h0M163.0,719.0h0M137.0,731.7h0M134.0,722.2h0M153.7,725.3h0M141.6,702.1h0M159.5,734.6h0M149.3,724.0h0M155.3,729.9h0M135.9,723.9h0M171.3,729.5h0M145.3,708.4h0M148.3,732.4h0M156.1,724.3h0M144.6,724.8h0M170.6,719.7h0M144.1,726.2h0M169.0,722.6h0M151.4,714.4h0M168.3,722.3h0M139.8,725.1h0M133.9,716.7h0M169.2,720.4h0M161.4,719.8h0M150.3,717.2h0M161.3,720.9h0M139.3,724.1h0M147.3,716.2h0M168.5,730.3h0M170.3,729.0h0M143.3,726.9h0M150.1,727.6h0M153.9,717.6h0M142.2,722.7h0M135.4,727.0h0M143.4,714.9h0M139.6,695.9h0M151.0,725.5h0M152.6,731.8h0M154.9,729.4h0M164.3,730.9h0M152.8,720.3h0M171.3,734.5h0M164.2,722.0h0M150.1,718.2h0M164.5,725.1h0M141.0,729.4h0M152.5,717.5h0M155.6,724.0h0M139.3,724.2h0M149.9,724.5h0M142.7,724.4h0M155.4,728.1h0M164.7,726.1h0M133.6,721.1h0M157.6,730.7h0M135.5,725.5h0M138.9,725.0h0M166.3,722.7h0M134.4,729.6h0M172.1,710.1h0M172.8,726.1h0M150.7,725.6h0M168.8,728.3h0M148.1,719.3h0M133.2,714.0h0M141.4,725.3h0M154.7,725.4h0M146.9,718.4h0M172.6,728.1h0M158.8,720.3h0M167.7,718.5h0M168.6,732.6h0M147.6,723.9h0M140.8,727.3h0M138.6,721.6h0M140.7,730.2h0M173.1,725.7h0M167.6,717.2h0M160.5,724.5h0M139.4,725.4h0M161.5,719.9h0M146.8,717.0h0M163.6,714.2h0M169.5,721.1h0M135.3,724.0h0M145.3,714.7h0M148.2,725.3h0M156.5,720.9h0M154.4,719.7h0M161.2,726.8h0M137.9,714.8h0M143.5,726.6h0M167.8,732.7h0M143.9,723.0h0M132.8,730.0h0M172.3,732.6h0M159.7,722.2h0M159.5,728.1h0M167.9,725.6h0M149.6,716.7h0M134.3,728.8h0M143.4,721.4h0M148.5,729.1h0M141.8,724.5h0M146.0,728.4h0M160.9,724.4h0M160.9,720.0h0M134.4,723.7h0M134.1,732.9h0M145.3,725.0h0M132.8,732.1h0M142.7,714.3h0M139.5,733.4h0M146.9,723.7h0M170.9,725.5h0M148.9,734.1h0M143.3,719.0h0M169.6,731.6h0M144.6,719.6h0M172.4,724.4h0M160.1,722.8h0M131.9,730.5h0M152.3,727.3h0M154.6,731.4h0M172.0,732.4h0M146.2,721.2h0M160.7,729.6h0M171.8,725.1h0M152.2,728.9h0M147.2,727.6h0M141.7,714.9h0M145.3,722.0h0M134.4,707.9h0M136.5,718.9h0M163.9,730.0h0M167.9,725.8h0M164.9,718.9h0M161.5,726.3h0M145.7,715.4h0M166.8,722.6h0M161.2,733.2h0M166.3,725.4h0M159.6,729.1h0M139.5,716.7h0M172.1,726.0h0M160.4,733.8h0M170.6,722.4h0M133.8,721.4h0M143.7,727.5h0M145.5,736.1h0M147.3,727.2h0M165.0,723.6h0M157.5,730.2h0M172.5,734.1h0M165.0,720.2h0M139.1,713.6h0M152.1,716.6h0M145.3,717.2h0M157.8,725.0h0M141.3,730.9h0M133.9,718.6h0M135.1,728.0h0M151.9,721.4h0M151.9,725.7h0M165.3,728.1h0M159.1,724.7h0M143.3,713.6h0M150.2,730.2h0M161.9,725.5h0M136.7,715.0h0M144.7,717.1h0M132.3,701.0h0M153.7,721.6h0M148.4,735.7h0M166.2,724.4h0M171.3,744.8h0M161.1,708.7h0M155.8,724.9h0M159.1,719.9h0M147.0,729.1h0M169.4,731.0h0M135.7,729.9h0M162.7,717.4h0M160.1,724.8h0M146.4,722.7h0M132.2,730.8h0M154.1,725.8h0M140.3,721.0h0M136.3,728.5h0M149.7,721.2h0M161.1,727.1h0M143.2,731.8h0M139.4,738.5h0M172.9,721.5h0M158.5,718.9h0M157.4,716.6h0M152.8,733.6h0M136.6,719.8h0M159.4,734.2h0M147.8,724.3h0M189.7,724.2h0M214.7,730.9h0M200.6,728.0h0M214.4,729.3h0M189.7,722.7h0M176.8,722.8h0M204.1,722.0h0M207.0,731.4h0M192.8,727.2h0M210.5,736.1h0M195.5,722.8h0M206.1,732.4h0M196.9,722.1h0M177.0,732.5h0M183.6,728.3h0M175.6,725.8h0M192.4,722.0h0M177.7,725.2h0M195.1,731.9h0M198.7,718.8h0M173.8,739.1h0M207.3,731.1h0M195.4,733.6h0M213.4,727.3h0M208.5,721.7h0M184.2,717.3h0M193.6,719.8h0M210.1,722.8h0M210.9,733.1h0M185.8,728.4h0M191.2,733.4h0M188.2,730.8h0M208.0,723.1h0M189.9,725.6h0M177.4,731.1h0M182.9,723.9h0M193.6,722.5h0M173.6,726.6h0M213.2,736.3h0M185.8,721.8h0M197.8,732.1h0M204.6,718.1h0M184.5,725.4h0M191.0,724.6h0M201.6,734.4h0M214.2,728.0h0M207.3,735.0h0M200.0,714.8h0M199.3,742.9h0M174.3,731.6h0M204.6,730.4h0M190.7,728.9h0M214.2,728.6h0M191.6,729.9h0M189.0,734.7h0M186.6,726.0h0M176.3,718.4h0M196.1,721.2h0M178.2,733.1h0M211.6,716.2h0M190.6,740.1h0M209.6,733.0h0M174.6,732.6h0M211.9,728.0h0M202.0,737.9h0M204.1,722.8h0M197.7,727.5h0M187.9,722.8h0M194.9,735.2h0M188.2,723.1h0M193.3,723.3h0M183.0,728.5h0M203.7,731.3h0M207.6,737.2h0M199.0,722.5h0M213.8,724.9h0M182.9,731.5h0M177.6,717.0h0M202.3,736.8h0M179.6,730.8h0M205.1,728.9h0M182.4,730.4h0M195.5,731.4h0M197.5,731.2h0M211.7,732.7h0M203.2,735.2h0M208.9,731.0h0M174.2,731.8h0M183.9,729.2h0M193.5,724.2h0M185.2,729.3h0M180.0,720.2h0M208.8,736.3h0M195.5,734.0h0M211.5,723.6h0M212.2,737.7h0M192.1,720.4h0M203.6,722.8h0M187.8,730.8h0M212.8,719.2h0M176.3,717.8h0M177.6,730.2h0M186.2,729.4h0M175.9,725.7h0M197.0,719.7h0M205.9,731.0h0M176.5,731.1h0M188.0,729.0h0M181.5,729.5h0M176.6,733.4h0M196.5,721.2h0M185.8,729.5h0M202.5,713.9h0M211.7,736.9h0M212.1,723.4h0M201.8,728.7h0M198.8,726.9h0M213.2,719.4h0M213.1,707.8h0M201.9,727.3h0M197.4,714.2h0M176.2,722.5h0M190.3,744.8h0M187.7,717.6h0M197.6,728.2h0M187.3,731.4h0M209.9,736.5h0M179.6,727.7h0M187.2,721.1h0M200.5,730.0h0M209.7,722.8h0M183.0,729.6h0M201.3,724.3h0M195.8,719.7h0M182.4,722.8h0M214.4,734.8h0M214.4,726.5h0M179.0,724.8h0M206.1,740.5h0M185.2,736.6h0M207.3,728.0h0M176.0,727.1h0M179.3,724.0h0M212.0,718.3h0M212.0,724.3h0M181.3,720.0h0M201.5,722.1h0M192.2,735.4h0M178.3,710.8h0M181.0,728.8h0M180.9,726.0h0M195.2,736.8h0M195.2,731.0h0M176.7,726.8h0M204.9,727.4h0M194.2,725.9h0M185.6,723.4h0M213.7,738.9h0M192.6,726.6h0M212.5,729.2h0M190.0,726.1h0M203.9,726.5h0M174.1,724.9h0M200.4,718.5h0M180.9,721.7h0M184.1,732.3h0M199.2,733.4h0M188.1,722.2h0M195.8,734.5h0M187.1,724.3h0M208.7,732.6h0M180.1,745.5h0M180.4,728.6h0M183.1,731.0h0M185.1,729.9h0M201.9,734.2h0M211.6,724.0h0M189.1,721.1h0M197.2,729.1h0M192.5,722.6h0M200.0,725.5h0M185.0,730.5h0M183.1,726.9h0M206.5,730.4h0M191.0,715.1h0M212.6,737.7h0M208.3,729.7h0M187.5,726.8h0M206.7,726.0h0M211.4,734.9h0M206.9,740.3h0M180.6,725.5h0M211.5,728.1h0M206.2,730.4h0M211.2,717.6h0M201.0,715.9h0M186.2,716.9h0M202.2,728.7h0M178.5,745.4h0M175.8,720.0h0M209.6,738.2h0M212.5,735.2h0M188.0,726.3h0M182.8,718.4h0M205.5,732.5h0M184.7,735.0h0M200.2,735.2h0M211.8,744.2h0M185.4,719.8h0M205.5,732.5h0M184.9,733.8h0M209.1,737.2h0M183.7,729.5h0M197.4,721.8h0M175.5,731.8h0M199.9,723.4h0M190.2,727.9h0M178.4,720.4h0M201.8,729.0h0M212.3,738.5h0M183.8,748.6h0M181.2,733.2h0M175.7,722.5h0M203.2,723.3h0M186.6,727.2h0M192.3,737.6h0M177.8,742.6h0M175.7,723.2h0M191.5,719.1h0M191.0,737.8h0M200.3,734.0h0M198.9,719.9h0M175.6,724.3h0M174.0,721.4h0M177.7,724.6h0M208.7,738.5h0M214.2,730.1h0M186.0,725.8h0M190.4,716.3h0M210.2,730.9h0M217.4,725.8h0M222.2,726.5h0M242.5,730.8h0M226.8,732.8h0M229.6,730.9h0M225.7,720.0h0M226.0,719.8h0M250.0,736.9h0M251.7,728.3h0M240.7,734.0h0M232.0,736.1h0M235.8,735.9h0M247.6,727.9h0M224.1,721.3h0M247.9,733.2h0M250.9,733.2h0M243.2,732.7h0M231.3,737.6h0M251.4,715.9h0M217.9,727.6h0M255.2,737.3h0M250.6,731.7h0M256.0,701.1h0M221.0,734.0h0M238.2,722.9h0M232.9,727.5h0M222.0,735.6h0M252.2,731.8h0M237.4,732.4h0M238.8,729.5h0M242.1,729.8h0M217.9,726.5h0M238.0,734.2h0M241.3,729.8h0M246.3,704.0h0M220.7,724.7h0M216.1,723.1h0M228.2,721.7h0M249.2,726.0h0M253.7,714.6h0M249.0,731.9h0M244.5,726.3h0M224.8,720.8h0M252.9,730.9h0M224.7,729.5h0M249.9,734.9h0M240.9,745.4h0M244.6,731.3h0M230.8,727.9h0M216.9,709.3h0M228.5,724.7h0M239.4,725.3h0M235.6,730.4h0M238.3,728.3h0M218.1,722.9h0M216.2,724.1h0M240.6,722.3h0M246.4,729.7h0M221.0,729.1h0M216.4,714.2h0M218.4,718.5h0M252.9,731.8h0M222.8,724.0h0M223.2,729.7h0M237.1,731.4h0M221.1,733.9h0M234.5,727.5h0M228.8,722.4h0M231.1,733.4h0M253.9,725.8h0M230.3,723.4h0M252.6,724.9h0M246.0,728.0h0M243.9,725.5h0M250.3,731.5h0M219.5,716.9h0M229.9,729.2h0M254.6,723.5h0M256.3,735.0h0M242.1,725.6h0M238.3,729.5h0M247.3,721.3h0M228.2,724.4h0M222.8,738.9h0M225.7,723.6h0M243.6,724.6h0M238.0,717.3h0M214.9,726.2h0M226.3,727.6h0M241.3,719.8h0M234.8,724.4h0M250.4,723.7h0M231.3,730.6h0M245.6,738.5h0M247.3,727.2h0M223.3,726.9h0M232.0,724.0h0M242.8,719.8h0M217.3,725.5h0M249.1,728.6h0M237.6,724.8h0M241.5,733.4h0M221.6,721.6h0M239.9,729.4h0M229.1,721.1h0M251.5,723.4h0M239.0,722.6h0M226.8,734.7h0M241.1,729.8h0M225.8,727.4h0M236.0,730.6h0M240.0,728.9h0M256.0,728.8h0M235.8,733.4h0M231.2,721.7h0M234.8,731.7h0M256.3,721.8h0M243.0,727.0h0M239.8,725.9h0M233.3,729.9h0M223.7,714.7h0M220.3,731.8h0M251.8,729.8h0M223.7,729.7h0M240.0,714.9h0M220.8,722.5h0M219.4,718.2h0M252.2,727.7h0M223.4,719.2h0M227.3,725.3h0M223.5,728.9h0M254.2,731.9h0M228.1,730.0h0M216.5,740.1h0M220.7,741.7h0M225.2,731.9h0M228.0,722.7h0M228.8,718.9h0M243.8,730.1h0M218.8,733.8h0M249.2,738.5h0M230.2,727.7h0M255.3,732.6h0M239.7,730.7h0M246.8,739.2h0M231.7,736.1h0M230.4,733.0h0M229.5,724.7h0M250.0,726.7h0M230.9,736.9h0M225.3,728.7h0M253.1,727.2h0M230.6,725.4h0M251.9,727.5h0M225.4,727.3h0M229.5,732.3h0M223.2,729.0h0M245.1,713.6h0M228.4,736.4h0M219.8,717.3h0M215.5,721.5h0M239.7,729.4h0M229.5,726.4h0M229.8,716.8h0M220.1,732.9h0M218.6,729.6h0M231.9,729.1h0M256.0,741.8h0M246.3,735.6h0M234.5,726.7h0M236.9,737.6h0M236.2,730.6h0M247.6,738.7h0M218.7,725.8h0M254.7,728.5h0M233.1,736.0h0M247.2,727.6h0M250.0,729.5h0M218.7,727.2h0M217.7,728.0h0M242.5,718.4h0M236.5,726.5h0M242.9,722.4h0M220.6,724.6h0M215.0,719.4h0M249.5,732.2h0M255.4,727.6h0M246.2,723.2h0M219.8,740.4h0M224.4,716.4h0M220.1,735.1h0M224.9,733.4h0M233.0,736.1h0M234.3,733.0h0M244.4,724.1h0M238.4,727.5h0M229.8,719.0h0M254.0,726.8h0M216.1,729.2h0M220.5,721.7h0M249.7,732.4h0M215.5,724.1h0M224.4,729.2h0M222.7,738.2h0M246.8,729.8h0M229.6,733.2h0M247.8,730.3h0M239.8,717.4h0M253.8,720.8h0M248.3,712.6h0M227.4,738.8h0M223.3,723.1h0M250.8,731.7h0M227.0,727.8h0M254.0,731.2h0M225.0,728.2h0M217.5,723.9h0M231.4,723.9h0M226.9,718.4h0M235.2,727.4h0M226.1,722.6h0M219.6,723.8h0M251.3,729.6h0M233.3,729.5h0M247.4,729.6h0M235.3,734.1h0M247.7,720.8h0M252.0,731.2h0M237.0,737.7h0M236.7,709.0h0M246.1,735.5h0M216.9,732.4h0M230.4,724.4h0M220.8,728.3h0M235.2,728.8h0M215.1,732.0h0M245.3,721.4h0M218.2,734.4h0M245.2,715.7h0M216.2,721.3h0M259.1,728.8h0M268.2,724.4h0M281.1,739.3h0M287.1,726.8h0M291.2,729.0h0M288.5,725.5h0M281.5,722.7h0M296.6,735.4h0M272.3,726.2h0M265.4,732.7h0M281.6,733.4h0M297.5,722.2h0M294.6,730.6h0M280.5,702.0h0M261.6,719.4h0M278.2,718.1h0M293.2,727.2h0M257.5,734.6h0M258.0,742.0h0M261.2,730.5h0M285.5,734.9h0M273.5,719.6h0M267.8,731.7h0M288.4,717.2h0M264.3,712.4h0M297.1,730.3h0M259.0,727.1h0M282.2,727.8h0M268.7,728.2h0M257.5,723.6h0M273.8,739.3h0M290.7,718.8h0M260.6,719.8h0M258.5,726.5h0M266.0,733.1h0M266.5,739.4h0M296.5,718.3h0M258.5,735.2h0M294.1,722.8h0M292.9,731.8h0M264.8,726.4h0M281.9,731.1h0M258.7,730.4h0M289.9,730.9h0M272.7,717.4h0M256.5,735.2h0M295.7,733.0h0M265.6,726.2h0M279.3,722.6h0M285.2,731.5h0M295.2,729.4h0M292.9,744.0h0M286.5,718.3h0M265.0,725.2h0M289.7,729.9h0M276.1,722.4h0M261.9,722.4h0M283.1,725.9h0M269.0,739.8h0M276.8,716.9h0M289.9,727.8h0M294.2,724.3h0M265.3,738.6h0M258.7,727.4h0M268.4,735.7h0M292.3,719.9h0M294.7,732.4h0M282.0,720.9h0M277.4,725.6h0M280.0,723.0h0M273.7,726.2h0M287.1,725.7h0M258.6,733.5h0M280.0,732.3h0M259.0,726.2h0M259.7,731.1h0M281.7,728.0h0M279.3,726.7h0M280.6,725.2h0M282.6,725.6h0M291.4,728.9h0M280.9,729.6h0M273.3,727.1h0M264.9,726.8h0M289.9,724.2h0M280.3,729.2h0M287.4,721.3h0M281.5,732.1h0M292.5,720.0h0M293.4,739.0h0M267.0,715.8h0M269.3,727.4h0M266.4,727.4h0M288.6,723.4h0M271.4,720.7h0M290.8,721.2h0M295.2,745.4h0M280.5,732.2h0M266.6,723.1h0M292.2,725.4h0M271.6,739.9h0M277.9,724.4h0M279.3,732.8h0M266.2,735.7h0M274.6,717.6h0M280.2,739.3h0M275.2,724.3h0M265.8,718.6h0M264.8,727.6h0M263.5,726.0h0M281.3,734.5h0M268.6,733.7h0M284.9,727.5h0M296.8,720.6h0M279.1,728.8h0M274.3,734.1h0M286.2,723.7h0M276.9,715.0h0M282.2,729.3h0M280.9,731.2h0M274.5,737.5h0M281.4,734.7h0M279.6,735.2h0M284.4,731.6h0M276.3,735.5h0M277.6,731.6h0M263.7,725.5h0M263.4,749.3h0M292.0,715.1h0M275.0,731.0h0M275.5,726.1h0M292.5,725.2h0M278.7,737.1h0M281.2,728.1h0M296.0,734.4h0M292.4,727.5h0M268.3,734.4h0M266.0,734.5h0M267.6,726.1h0M276.0,726.0h0M296.9,741.3h0M270.3,729.1h0M284.7,719.9h0M292.1,731.3h0M273.0,716.4h0M278.1,736.9h0M287.2,732.2h0M297.4,728.5h0M267.8,724.2h0M291.4,723.0h0M258.6,727.2h0M276.7,720.4h0M280.9,731.2h0M284.3,729.3h0M260.9,722.2h0M276.4,726.9h0M267.7,721.7h0M260.2,727.9h0M284.9,725.7h0M285.0,738.6h0M270.2,734.1h0M275.3,733.0h0M283.2,729.8h0M257.8,721.3h0M267.3,724.7h0M274.9,723.4h0M282.2,722.0h0M278.7,732.8h0M266.7,739.9h0M260.7,723.1h0M279.7,724.0h0M295.5,740.8h0M275.1,724.4h0M276.8,731.8h0M294.6,728.4h0M269.5,734.5h0M288.4,721.4h0M262.5,727.4h0M266.9,732.4h0M274.2,726.4h0M274.0,727.4h0M276.8,736.9h0M268.7,721.9h0M262.8,730.6h0M261.3,723.5h0M294.0,722.8h0M286.8,730.8h0M259.2,729.7h0M288.7,729.5h0M289.6,734.5h0M278.2,728.4h0M278.1,727.1h0M275.5,734.4h0M273.4,735.0h0M278.4,716.0h0M288.4,742.3h0M279.3,729.3h0M266.7,725.7h0M279.2,734.5h0M269.0,732.8h0M293.1,732.5h0M274.2,724.1h0M287.7,728.6h0M296.7,741.7h0M274.9,732.2h0M273.7,733.4h0M277.9,729.9h0M276.1,728.5h0M262.1,714.6h0M268.0,736.0h0M268.7,730.3h0M284.3,724.4h0M277.3,739.8h0M272.1,740.4h0M284.0,729.4h0M267.0,720.9h0M286.0,726.8h0M295.3,731.7h0M263.8,736.3h0M279.3,742.0h0M258.3,737.1h0M275.8,726.2h0M291.8,720.0h0M267.0,735.4h0M280.5,728.1h0M266.9,727.5h0M287.0,728.9h0M293.8,737.4h0M293.7,736.0h0M291.4,729.6h0M263.8,713.0h0M262.8,732.9h0M271.4,724.9h0M273.0,719.7h0M285.9,723.6h0M296.8,723.4h0M294.3,737.0h0M273.5,731.0h0M270.0,730.1h0M256.7,727.9h0M302.7,729.4h0M323.7,734.5h0M301.0,735.8h0M299.5,721.4h0M333.3,734.4h0M332.6,734.6h0M327.0,715.3h0M305.0,718.0h0M304.6,730.4h0M301.0,739.7h0M338.2,724.9h0M328.6,735.4h0M332.4,730.8h0M317.0,737.6h0M324.3,728.7h0M309.2,737.7h0M334.3,732.2h0M323.6,729.4h0M321.0,732.2h0M325.6,741.2h0M306.9,730.5h0M320.8,724.6h0M300.2,726.7h0M330.5,739.5h0M310.2,723.0h0M306.4,721.9h0M299.1,735.7h0M300.8,734.4h0M319.6,731.9h0M317.9,726.1h0M322.2,732.9h0M308.6,734.1h0M306.3,737.9h0M319.9,736.1h0M338.8,730.1h0M323.9,736.4h0M305.2,721.9h0M336.1,726.5h0M319.9,727.5h0M302.5,720.8h0M338.6,739.5h0M338.1,724.3h0M317.5,731.1h0M311.9,731.0h0M301.2,726.8h0M337.0,730.3h0M319.9,721.4h0M330.4,725.3h0M321.4,728.9h0M315.8,727.1h0M337.5,721.6h0M302.2,726.0h0M307.0,736.4h0M312.4,734.6h0M326.8,736.7h0M301.0,723.1h0M312.5,722.0h0M316.9,730.8h0M303.6,729.5h0M320.2,728.5h0M327.0,718.1h0M305.1,735.1h0M323.9,719.3h0M314.9,702.7h0M305.6,725.1h0M320.6,732.7h0M323.0,733.3h0M299.0,733.3h0M333.4,743.1h0M310.7,736.8h0M320.8,735.5h0M307.8,727.8h0M301.5,728.1h0M337.7,721.8h0M298.1,716.1h0M312.9,730.8h0M298.6,726.8h0M317.9,728.7h0M318.6,716.3h0M312.5,729.7h0M328.6,741.8h0M305.1,732.1h0M308.3,728.1h0M331.5,742.3h0M326.6,738.8h0M326.5,723.6h0M320.7,734.6h0M337.0,732.8h0M310.8,726.0h0M324.3,726.5h0M314.3,730.0h0M317.4,723.0h0M301.7,723.1h0M323.3,736.3h0M338.9,736.5h0M315.9,726.6h0M339.3,738.9h0M331.9,726.8h0M307.3,742.6h0M322.2,729.4h0M336.2,717.9h0M323.4,721.9h0M310.1,734.4h0M338.4,719.0h0M323.9,731.7h0M309.5,745.3h0M305.1,729.9h0M304.0,721.3h0M326.3,729.6h0M338.6,734.6h0M320.1,729.9h0M330.0,732.4h0M312.1,743.7h0M301.3,739.0h0M305.7,741.3h0M330.6,735.0h0M306.2,738.1h0M301.6,734.3h0M315.1,727.8h0M324.7,722.3h0M303.1,731.8h0M313.0,725.1h0M335.8,738.4h0M303.6,731.8h0M307.2,728.6h0M312.6,716.9h0M309.0,729.1h0M300.2,727.7h0M323.6,740.5h0M319.9,726.2h0M320.5,727.7h0M336.4,734.5h0M328.5,726.0h0M306.7,727.2h0M316.1,724.1h0M317.5,734.4h0M328.0,733.3h0M316.7,730.3h0M306.1,724.3h0M299.6,728.7h0M332.5,726.4h0M334.7,728.7h0M319.0,727.4h0M332.5,729.4h0M311.9,730.5h0M303.2,729.0h0M306.6,731.1h0M302.5,725.7h0M307.0,729.1h0M328.4,710.9h0M338.5,723.0h0M299.9,731.0h0M318.1,715.8h0M307.9,746.5h0M323.3,726.5h0M330.9,730.2h0M325.4,716.3h0M329.9,729.0h0M318.1,744.1h0M314.3,732.3h0M305.1,726.9h0M314.5,713.7h0M317.8,728.9h0M310.1,719.1h0M315.6,733.0h0M321.0,732.0h0M314.8,725.3h0M301.2,729.4h0M320.5,725.1h0M303.3,719.2h0M337.7,738.4h0M321.4,721.9h0M310.9,725.4h0M300.7,739.1h0M327.2,730.6h0M330.3,729.9h0M311.7,740.4h0M327.9,726.6h0M317.1,721.8h0M305.9,732.0h0M310.0,740.2h0M335.7,731.4h0M338.4,732.7h0M314.8,740.2h0M302.2,724.3h0M301.3,732.7h0M311.9,721.5h0M304.4,728.0h0M318.4,738.3h0M314.9,728.3h0M330.8,732.3h0M311.7,734.6h0M301.9,727.0h0M327.5,736.5h0M323.7,722.3h0M311.1,737.8h0M299.4,732.2h0M333.8,731.9h0M307.5,725.4h0M301.0,738.3h0M322.4,739.7h0M333.1,732.0h0M337.0,725.5h0M324.0,732.2h0M307.5,727.3h0M325.1,727.4h0M306.4,724.7h0M317.3,726.7h0M305.5,736.3h0M328.2,722.1h0M325.1,725.0h0M313.5,728.9h0M339.4,739.9h0M323.8,735.8h0M309.3,730.8h0M301.5,724.9h0M318.9,719.5h0M328.7,731.7h0M319.1,721.8h0M302.7,725.1h0M306.9,711.5h0M338.8,721.1h0M303.5,709.8h0M304.1,738.9h0M332.9,744.2h0M328.3,718.7h0M329.5,736.2h0M327.0,738.1h0M321.6,711.5h0M327.3,726.8h0M336.7,731.4h0M334.0,728.0h0M333.1,731.0h0M306.9,724.7h0M330.9,739.2h0M309.8,740.8h0M330.8,732.6h0M319.9,749.4h0M331.8,740.5h0M332.4,732.5h0M356.7,734.9h0M374.0,722.8h0M354.3,715.3h0M356.9,730.1h0M377.6,735.8h0M359.3,735.2h0M343.3,720.2h0M351.0,729.4h0M349.9,730.1h0M362.9,722.1h0M371.0,735.2h0M357.2,730.0h0M377.6,732.3h0M342.1,722.7h0M365.0,730.3h0M346.8,732.9h0M360.6,732.6h0M371.7,730.3h0M358.9,737.2h0M344.1,720.7h0M349.1,723.6h0M351.4,734.1h0M345.8,726.4h0M365.7,731.8h0M377.5,724.5h0M363.4,727.5h0M368.4,706.7h0M378.9,730.1h0M374.2,724.2h0M354.7,726.1h0M361.3,721.9h0M352.0,734.1h0M360.9,726.7h0M363.2,728.4h0M378.5,735.8h0M352.0,732.8h0M375.1,725.5h0M362.1,730.4h0M344.9,728.8h0M369.7,719.4h0M358.4,739.3h0M354.9,720.5h0M342.2,729.0h0M368.3,724.5h0M370.9,734.7h0M368.8,731.3h0M374.4,729.0h0M349.2,726.7h0M352.0,728.9h0M355.3,733.7h0M366.7,730.2h0M347.6,726.5h0M360.3,722.2h0M380.2,729.4h0M339.7,721.2h0M341.0,733.3h0M380.5,733.7h0M340.1,722.8h0M370.1,725.5h0M376.1,726.5h0M361.5,724.0h0M352.2,720.0h0M363.2,733.0h0M362.8,726.9h0M352.2,727.6h0M371.4,730.5h0M375.9,720.7h0M376.0,727.8h0M360.4,734.5h0M364.2,723.5h0M358.7,719.7h0M351.9,734.3h0M380.0,730.6h0M357.1,729.4h0M351.2,721.2h0M350.2,731.1h0M362.1,734.2h0M362.7,729.8h0M354.5,732.1h0M350.3,724.5h0M367.0,727.1h0M377.0,730.9h0M351.5,722.6h0M352.0,724.5h0M376.0,730.6h0M354.4,731.9h0M350.8,735.8h0M350.0,729.3h0M362.9,722.9h0M377.8,734.0h0M356.2,719.4h0M371.7,730.1h0M360.9,730.4h0M339.8,730.4h0M373.6,730.1h0M343.8,743.2h0M377.7,718.9h0M345.5,718.8h0M369.8,729.3h0M347.2,728.1h0M361.6,720.9h0M377.0,713.1h0M378.3,729.7h0M362.6,718.9h0M349.6,727.4h0M378.1,732.1h0M345.7,730.2h0M354.6,732.0h0M373.7,725.2h0M344.5,719.6h0M353.6,729.0h0M380.1,730.5h0M344.8,730.4h0M348.5,732.9h0M374.5,736.9h0M356.1,733.7h0M352.0,730.9h0M351.5,732.6h0M342.8,721.0h0M357.0,725.5h0M380.3,719.4h0M349.6,720.4h0M354.2,724.1h0M369.3,728.0h0M349.9,726.4h0M351.0,732.8h0M377.3,728.9h0M358.1,721.1h0M361.6,733.7h0M355.2,719.3h0M343.2,720.8h0M359.1,735.7h0M341.2,732.5h0M370.1,739.3h0M360.2,726.8h0M361.1,734.9h0M346.2,734.7h0M375.2,732.2h0M363.2,723.2h0M345.9,738.3h0M369.2,722.1h0M367.9,725.1h0M374.4,722.6h0M377.5,729.8h0M348.7,720.5h0M358.8,724.9h0M342.0,734.0h0M347.2,717.8h0M378.4,724.6h0M354.7,732.0h0M377.1,717.1h0M344.2,730.3h0M346.3,719.7h0M366.7,728.6h0M367.1,715.2h0M341.4,727.5h0M371.4,723.2h0M346.3,725.4h0M348.0,721.1h0M339.6,729.6h0M351.5,727.9h0M378.4,729.5h0M349.9,733.6h0M365.8,726.9h0M369.4,738.3h0M378.8,729.6h0M377.5,740.1h0M378.9,743.3h0M360.8,722.5h0M362.2,721.2h0M368.7,738.4h0M356.2,717.3h0M369.5,719.3h0M342.8,729.0h0M355.0,722.4h0M356.5,724.5h0M362.4,726.5h0M358.0,732.3h0M370.3,723.0h0M365.5,717.0h0M361.1,730.7h0M354.6,721.3h0M367.4,723.9h0M360.9,729.5h0M351.9,726.2h0M376.1,720.3h0M341.9,724.0h0M346.7,726.2h0M345.6,723.3h0M372.0,733.3h0M360.2,720.8h0M362.9,726.1h0M365.7,735.4h0M368.9,728.4h0M379.9,718.0h0M372.6,731.3h0M347.6,716.1h0M370.3,725.1h0M347.3,723.2h0M350.5,725.4h0M367.8,734.1h0M348.0,728.7h0M371.7,731.8h0M356.6,721.3h0M354.4,721.9h0M357.9,729.2h0M343.8,726.6h0M345.8,725.2h0M366.5,725.0h0M352.5,728.5h0M344.9,719.0h0M365.4,729.8h0M343.5,711.4h0M340.2,732.4h0M365.6,711.0h0M361.2,731.4h0M362.1,729.7h0M370.7,719.2h0M365.9,712.6h0M374.6,724.1h0M377.9,727.8h0M340.0,729.1h0M348.1,716.0h0M379.5,726.7h0M377.5,719.7h0M360.0,727.2h0M346.6,734.8h0M365.5,746.2h0M370.2,724.2h0M354.3,730.6h0M380.5,732.6h0M369.2,729.8h0M358.5,717.0h0M366.6,728.1h0M361.2,725.9h0M374.9,729.1h0M346.2,723.0h0M359.7,728.9h0M359.0,730.4h0M346.7,731.1h0M397.8,719.9h0M408.3,734.7h0M397.5,733.7h0M397.1,728.4h0M388.3,728.6h0M382.7,728.4h0M387.6,716.8h0M385.0,733.1h0M389.5,711.7h0M381.3,730.8h0M415.8,728.6h0M386.5,717.9h0M387.2,726.0h0M388.6,726.2h0M392.1,717.3h0M383.8,718.8h0M386.3,728.2h0M381.4,724.0h0M401.1,727.2h0M410.1,729.3h0M393.1,726.1h0M385.4,717.5h0M383.4,716.0h0M405.5,722.6h0M406.3,730.7h0M391.8,724.8h0M382.8,723.7h0M411.2,711.8h0M391.9,729.5h0M402.3,716.6h0M400.8,723.4h0M418.7,717.1h0M393.2,734.4h0M385.9,726.2h0M411.8,724.4h0M388.6,719.8h0M399.3,733.5h0M400.5,712.0h0M403.3,730.2h0M418.3,722.4h0M394.1,730.0h0M408.5,731.2h0M381.2,729.6h0M409.7,727.3h0M419.4,737.7h0M406.7,723.9h0M389.9,728.5h0M418.0,734.8h0M382.7,703.3h0M413.2,726.1h0M393.5,712.6h0M397.5,724.0h0M381.4,716.4h0M409.5,729.0h0M388.4,737.1h0M403.3,726.6h0M387.0,724.3h0M420.0,721.1h0M390.4,725.7h0M393.3,739.6h0M383.4,717.9h0M390.6,720.5h0M400.9,733.7h0M419.1,729.9h0M385.6,724.7h0M391.5,726.3h0M387.2,723.5h0M401.7,714.1h0M412.0,728.0h0M389.3,726.1h0M421.5,724.6h0M408.3,720.6h0M397.3,739.4h0M417.9,739.2h0M407.9,728.6h0M394.6,716.2h0M421.7,735.0h0M391.4,728.3h0M396.7,718.7h0M389.5,723.8h0M383.9,717.5h0M403.7,728.3h0M397.1,722.7h0M412.7,732.4h0M387.7,729.6h0M382.7,741.1h0M381.0,731.0h0M408.5,736.9h0M411.2,736.6h0M400.4,728.6h0M383.8,737.3h0M411.4,731.2h0M417.8,717.6h0M400.6,727.2h0M405.9,731.5h0M399.0,715.8h0M410.3,720.0h0M391.1,732.2h0M402.0,710.4h0M399.2,723.5h0M395.8,730.0h0M404.9,725.1h0M387.0,727.2h0M389.9,715.1h0M421.2,736.1h0M408.3,731.1h0M421.7,726.1h0M407.8,726.0h0M400.6,728.8h0M384.5,714.3h0M394.7,720.6h0M406.0,717.1h0M385.9,712.0h0M418.3,733.4h0M388.0,733.9h0M388.1,719.1h0M408.6,739.8h0M402.5,730.2h0M386.0,722.8h0M416.2,722.1h0M390.7,724.2h0M382.0,725.6h0M385.1,726.7h0M389.9,726.3h0M395.1,725.6h0M389.0,712.9h0M401.3,730.5h0M401.6,718.4h0M396.6,724.9h0M410.4,733.2h0M410.4,721.5h0M404.2,718.7h0M415.5,727.9h0M401.7,725.7h0M398.2,738.3h0M412.9,723.6h0M398.8,726.4h0M410.1,739.1h0M403.8,724.4h0M421.8,720.5h0M414.8,722.0h0M393.7,717.7h0M407.5,719.9h0M405.7,714.7h0M387.9,722.7h0M421.7,715.1h0M387.4,726.4h0M415.1,721.9h0M418.9,713.2h0M384.8,719.1h0M395.4,715.2h0M415.4,731.3h0M422.2,722.7h0M395.3,724.8h0M410.8,721.9h0M411.8,732.4h0M398.0,718.8h0M417.8,728.4h0M407.8,719.2h0M420.9,716.0h0M384.7,722.7h0M401.3,724.8h0M394.4,727.4h0M411.4,727.5h0M385.6,735.1h0M417.5,740.6h0M381.2,719.8h0M415.7,717.1h0M412.3,727.7h0M401.1,722.9h0M413.4,743.9h0M407.4,732.7h0M399.4,727.2h0M412.6,736.2h0M414.2,739.6h0M401.8,736.4h0M389.1,709.7h0M394.9,737.5h0M396.9,731.8h0M418.3,720.4h0M401.4,742.7h0M419.0,720.8h0M382.1,724.0h0M407.1,717.9h0M395.4,729.6h0M397.4,722.4h0M407.3,721.8h0M414.3,720.7h0M403.3,734.5h0M383.6,722.2h0M416.3,727.3h0M418.7,722.8h0M407.3,725.2h0M418.1,724.6h0M382.8,728.1h0M395.4,720.9h0M421.2,725.8h0M422.4,726.6h0M389.4,726.4h0M410.7,717.2h0M394.2,726.0h0M397.8,722.3h0M419.8,719.0h0M414.6,725.2h0M418.8,724.0h0M400.3,727.5h0M412.2,727.1h0M415.8,722.3h0M404.5,719.5h0M403.5,725.5h0M413.7,724.9h0M402.2,728.0h0M397.8,729.3h0M411.3,734.2h0M420.3,724.2h0M414.3,731.6h0M403.0,719.5h0M392.2,723.7h0M386.9,730.0h0M417.7,722.3h0M408.2,725.0h0M409.4,727.4h0M403.5,733.8h0M381.1,741.2h0M412.5,726.7h0M382.5,742.2h0M393.3,730.6h0M408.7,714.7h0M400.3,730.3h0M394.2,723.1h0M395.0,727.7h0M406.2,718.7h0M417.0,716.2h0M413.6,718.3h0M388.7,726.8h0M413.6,727.0h0M399.3,717.5h0M383.4,719.5h0M417.4,720.3h0M381.6,712.1h0M438.3,721.3h0M456.8,723.8h0M443.6,720.4h0M447.3,732.2h0M455.7,720.2h0M427.6,726.9h0M459.5,719.2h0M424.9,723.7h0M435.9,723.1h0M436.9,727.7h0M450.8,724.6h0M456.6,712.5h0M449.3,725.5h0M446.9,727.9h0M447.4,727.6h0M429.3,722.5h0M462.2,726.9h0M443.3,723.2h0M436.0,726.1h0M460.6,734.9h0M437.8,733.5h0M451.1,726.6h0M449.4,724.7h0M432.9,731.9h0M427.4,724.4h0M453.2,722.8h0M428.6,727.1h0M441.5,725.1h0M432.6,726.7h0M450.9,724.3h0M435.8,723.0h0M429.8,722.3h0M457.2,728.0h0M424.2,725.0h0M443.3,728.5h0M453.6,727.0h0M457.3,729.7h0M428.4,719.4h0M430.5,743.8h0M422.9,721.2h0M453.8,724.2h0M438.9,728.7h0M430.4,726.5h0M462.8,727.0h0M440.4,737.9h0M460.6,732.4h0M433.9,740.0h0M463.6,736.1h0M450.3,722.5h0M430.9,722.5h0M438.9,736.5h0M451.6,732.2h0M454.6,730.3h0M441.0,721.7h0M445.9,727.1h0M427.7,729.2h0M431.0,722.2h0M454.3,729.8h0M425.7,724.4h0M461.7,718.9h0M435.0,732.0h0M426.7,725.5h0M453.5,740.1h0M437.5,713.4h0M434.0,720.4h0M455.5,707.0h0M437.4,724.0h0M458.8,729.1h0M435.0,722.5h0M422.5,731.1h0M430.4,729.3h0M459.7,730.4h0M436.8,721.4h0M462.3,722.8h0M447.8,726.8h0M452.4,731.0h0M431.0,724.5h0M461.0,723.5h0M436.8,717.3h0M428.2,743.0h0M458.8,730.4h0M449.3,737.3h0M452.3,726.9h0M431.3,732.4h0M429.8,735.0h0M423.0,716.5h0M447.4,729.0h0M445.6,724.4h0M449.8,739.6h0M443.8,726.1h0M462.9,727.4h0M430.3,728.8h0M455.3,731.0h0M422.9,723.5h0M428.6,735.4h0M453.3,726.8h0M429.5,722.2h0M428.9,725.2h0M436.5,723.7h0M429.8,727.9h0M424.3,724.1h0M427.5,729.0h0M462.8,728.0h0M426.0,724.3h0M425.9,722.1h0M454.4,724.7h0M437.0,732.2h0M442.5,728.8h0M447.3,733.8h0M439.9,707.5h0M439.1,734.4h0M450.3,724.0h0M433.9,727.2h0M425.0,723.3h0M450.9,720.1h0M440.9,730.4h0M436.1,722.8h0M463.0,721.3h0M447.5,725.2h0M458.1,720.6h0M438.0,732.4h0M425.6,713.9h0M439.9,717.7h0M430.4,717.7h0M432.8,729.6h0M446.9,721.4h0M456.9,707.8h0M455.9,726.5h0M449.8,737.3h0M461.1,727.3h0M430.2,730.4h0M448.4,727.0h0M448.0,726.8h0M423.6,726.6h0M455.9,725.2h0M442.0,730.2h0M444.8,735.2h0M425.0,721.4h0M459.1,722.2h0M423.0,730.9h0M440.9,734.2h0M450.5,717.5h0M440.3,731.3h0M448.7,732.8h0M429.7,721.4h0M452.6,729.7h0M448.3,724.8h0M456.8,718.3h0M461.4,732.4h0M443.9,725.6h0M433.5,720.9h0M430.0,719.6h0M455.8,723.3h0M461.0,726.0h0M460.9,730.1h0M428.2,721.9h0M458.9,727.8h0M422.6,715.6h0M446.1,719.5h0M439.9,722.3h0M439.9,729.2h0M434.1,735.6h0M459.6,720.5h0M447.2,735.1h0M442.1,720.0h0M444.5,710.1h0M439.9,719.5h0M431.1,729.7h0M453.5,731.5h0M437.7,734.5h0M448.2,718.6h0M456.8,728.5h0M450.7,731.2h0M455.9,725.9h0M456.8,722.6h0M445.6,736.9h0M429.9,729.0h0M454.5,736.0h0M432.1,718.3h0M433.3,736.0h0M440.4,729.0h0M433.2,716.0h0M458.1,729.0h0M424.6,728.5h0M449.6,725.0h0M424.5,721.1h0M456.8,731.3h0M460.7,733.0h0M448.2,739.0h0M450.0,736.1h0M427.6,732.2h0M442.6,726.5h0M430.7,726.0h0M430.4,734.1h0M427.3,723.0h0M462.0,723.5h0M443.7,716.3h0M458.0,721.1h0M437.3,712.9h0M450.2,732.5h0M451.9,714.9h0M455.6,734.7h0M436.7,721.9h0M450.6,722.9h0M453.6,725.4h0M458.6,734.8h0M455.2,737.9h0M428.6,730.5h0M446.8,724.9h0M440.8,720.5h0M437.9,726.7h0M423.5,721.7h0M451.3,721.1h0M425.0,716.7h0M447.5,732.8h0M428.6,734.7h0M443.2,718.2h0M438.6,728.1h0M461.7,733.2h0M442.7,722.0h0M431.4,725.8h0M459.5,722.5h0M436.9,736.6h0M424.6,730.9h0M450.9,725.3h0M462.5,739.6h0M431.0,734.7h0M433.6,716.8h0M449.4,733.6h0M454.4,723.0h0M440.1,720.2h0M437.2,732.8h0M444.3,722.4h0M442.5,724.8h0M453.4,742.5h0M441.6,726.8h0M442.4,729.5h0M441.4,728.9h0M440.5,724.1h0M444.6,725.9h0M481.0,734.9h0M502.0,727.3h0M486.5,722.1h0M468.9,733.5h0M472.8,732.1h0M472.6,727.6h0M480.7,732.0h0M497.0,720.5h0M498.7,726.4h0M502.5,735.4h0M486.8,725.4h0M476.5,730.8h0M479.6,715.9h0M464.5,730.9h0M487.5,732.5h0M485.9,715.1h0M494.3,732.6h0M475.5,728.3h0M493.9,739.0h0M486.9,723.1h0M500.2,728.1h0M470.3,724.4h0M478.1,729.3h0M479.0,725.7h0M472.7,729.2h0M484.9,718.5h0M464.8,722.1h0M466.4,734.5h0M489.2,730.0h0M491.3,735.4h0M495.4,727.1h0M475.1,733.9h0M480.2,727.7h0M472.8,726.2h0M468.2,727.4h0M481.6,725.2h0M496.8,731.2h0M493.9,717.9h0M477.4,727.7h0M495.1,717.2h0M489.2,730.2h0M500.1,728.5h0M480.8,731.6h0M477.0,725.6h0M500.1,734.5h0M487.7,731.7h0M472.7,729.4h0M499.7,736.5h0M502.3,730.9h0M499.8,735.2h0M467.8,716.0h0M498.9,732.9h0M491.7,733.1h0M491.6,731.0h0M483.3,719.7h0M473.0,723.3h0M497.1,729.3h0M503.5,729.2h0M497.3,729.4h0M480.4,713.4h0M493.5,725.1h0M496.1,717.1h0M481.7,698.9h0M472.1,720.3h0M494.1,730.0h0M498.6,736.2h0M479.9,736.4h0M465.3,731.0h0M478.8,722.0h0M487.5,735.0h0M504.1,734.4h0M469.4,739.0h0M471.4,720.7h0M487.7,737.1h0M465.1,723.2h0M486.1,721.7h0M471.8,724.4h0M504.9,735.9h0M481.6,734.4h0M466.9,730.1h0M470.2,723.8h0M478.0,722.2h0M479.1,728.3h0M466.4,722.0h0M477.4,724.1h0M496.4,730.1h0M466.0,734.7h0M493.6,719.1h0M494.9,734.2h0M500.6,725.6h0M480.4,725.3h0M483.3,718.4h0M479.0,726.7h0M494.1,721.8h0M473.7,719.2h0M499.2,721.6h0M488.4,731.0h0M486.4,737.5h0M470.0,735.0h0M466.0,729.4h0M488.4,721.7h0M496.5,716.5h0M471.4,728.3h0M494.6,738.8h0M497.9,714.4h0M473.6,738.2h0M474.9,720.5h0M467.9,736.4h0M486.7,728.1h0M501.8,723.8h0M470.9,715.4h0M503.8,728.9h0M498.2,727.1h0M487.9,709.2h0M498.8,736.8h0M480.5,730.9h0M488.7,740.5h0M495.4,717.3h0M471.6,733.5h0M484.5,723.2h0M504.4,729.9h0M485.4,722.5h0M476.7,722.6h0M497.8,735.8h0M471.3,725.3h0M473.5,723.0h0M495.0,727.4h0M468.7,732.0h0M499.5,730.0h0M477.5,721.9h0M477.9,738.6h0M466.6,715.8h0M471.0,722.9h0M489.6,742.7h0M491.6,717.4h0M467.5,732.3h0M474.2,716.2h0M495.8,740.2h0M485.2,722.1h0M481.6,711.0h0M478.0,728.9h0M496.5,736.8h0M479.1,739.5h0M466.0,724.1h0M473.0,724.4h0M481.7,727.3h0M493.2,724.1h0M474.1,725.8h0M478.0,742.4h0M473.6,723.1h0M505.1,721.5h0M502.4,730.7h0M495.6,726.8h0M497.3,720.8h0M488.4,732.2h0M492.1,729.3h0M483.3,716.9h0M466.0,734.8h0M466.8,730.9h0M495.5,734.4h0M466.9,731.1h0M468.6,714.7h0M495.7,733.3h0M474.6,717.0h0M502.1,729.2h0M466.7,729.4h0M475.7,739.8h0M496.9,723.4h0M494.1,728.5h0M464.2,717.4h0M489.7,744.2h0M483.4,731.7h0M500.9,735.2h0M499.3,730.2h0M489.6,723.5h0M494.0,720.5h0M465.5,726.8h0M477.5,719.3h0M469.9,728.3h0M493.8,722.4h0M480.2,727.9h0M493.7,729.1h0M464.5,728.5h0M467.1,721.6h0M493.9,721.0h0M477.9,725.6h0M478.1,723.9h0M492.4,742.3h0M468.4,728.3h0M501.1,729.5h0M481.5,726.8h0M480.9,732.4h0M467.2,719.6h0M483.1,731.2h0M468.8,724.2h0M476.2,724.3h0M471.7,730.5h0M498.8,724.5h0M478.7,733.3h0M468.6,722.3h0M468.2,731.5h0M472.1,724.7h0M467.2,727.0h0M484.8,720.3h0M495.7,725.6h0M490.3,733.8h0M471.3,719.0h0M497.0,729.4h0M485.1,726.4h0M495.5,734.9h0M474.1,717.6h0M482.7,720.2h0M485.9,738.3h0M495.0,719.5h0M487.3,727.2h0M468.4,742.1h0M489.5,729.9h0M495.8,731.5h0M478.3,730.4h0M497.0,722.0h0M483.0,730.9h0M467.2,731.3h0M472.7,721.7h0M481.4,721.0h0M472.8,720.7h0M484.3,726.7h0M495.4,723.3h0M504.8,728.7h0M469.1,721.9h0M477.8,733.7h0M475.8,737.4h0M504.7,729.3h0M482.7,714.1h0M473.6,732.0h0M472.8,732.0h0M485.6,726.5h0M495.7,720.9h0M501.2,724.6h0M492.3,728.5h0M489.0,726.0h0M532.0,725.9h0M508.9,732.3h0M511.0,726.4h0M516.7,732.5h0M515.5,727.0h0M517.9,728.1h0M530.5,725.0h0M517.2,734.1h0M533.0,720.5h0M512.8,727.6h0M506.5,730.8h0M545.3,729.0h0M532.8,714.3h0M541.3,732.3h0M524.6,726.0h0M518.6,719.9h0M506.1,727.7h0M542.7,727.0h0M506.3,719.1h0M515.2,717.1h0M534.5,711.9h0M536.7,723.3h0M541.1,726.8h0M525.5,722.0h0M519.7,724.4h0M513.1,726.7h0M523.1,725.3h0M541.4,720.0h0M540.2,730.8h0M540.9,724.4h0M538.7,731.7h0M541.3,727.4h0M506.5,731.4h0M510.4,720.8h0M523.2,730.6h0M518.8,729.8h0M525.7,727.1h0M543.1,731.7h0M511.2,722.9h0M541.4,724.5h0M526.9,726.1h0M506.1,724.0h0M541.7,728.5h0M507.4,731.2h0M520.7,725.0h0M525.0,725.3h0M513.1,720.9h0M513.7,733.9h0M517.3,733.5h0M542.8,723.2h0M539.6,726.6h0M515.3,730.1h0M516.2,732.1h0M528.1,732.2h0M533.9,728.4h0M529.6,722.3h0M524.5,734.5h0M545.3,727.9h0M531.3,727.3h0M518.3,727.9h0M508.5,713.2h0M517.9,739.5h0M517.4,720.2h0M531.5,710.2h0M542.9,725.5h0M543.4,728.0h0M544.1,729.1h0M540.0,720.4h0M542.2,728.6h0M522.5,730.7h0M543.4,731.4h0M537.9,719.5h0M518.9,732.6h0M518.5,728.1h0M537.6,719.2h0M533.6,718.7h0M515.6,723.8h0M509.9,731.9h0M506.9,724.2h0M507.6,726.4h0M518.2,725.9h0M512.0,732.2h0M515.0,730.7h0M517.1,731.4h0M546.9,727.5h0M505.6,728.3h0M514.9,729.7h0M521.0,729.2h0M521.3,723.2h0M534.6,720.6h0M529.5,728.1h0M508.7,731.1h0M510.6,735.1h0M519.0,722.8h0M527.6,727.6h0M518.3,720.0h0M532.7,730.9h0M524.1,725.1h0M538.8,731.1h0M507.0,729.8h0M508.5,728.0h0M524.4,734.9h0M541.5,721.5h0M529.8,721.0h0M520.0,725.0h0M536.5,722.1h0M515.8,728.3h0M508.5,731.7h0M539.9,728.3h0M505.7,734.7h0M526.3,730.0h0M516.5,728.8h0M525.9,732.8h0M538.7,722.0h0M518.3,727.7h0M516.6,722.9h0M510.5,728.3h0M510.9,725.0h0M505.8,730.6h0M536.2,728.1h0M528.2,720.2h0M519.3,731.4h0M542.3,726.6h0M519.4,725.7h0M506.4,727.4h0M526.8,720.6h0M543.8,727.7h0M511.7,729.1h0M531.2,718.1h0M509.0,730.0h0M520.1,729.7h0M530.6,712.4h0M541.6,731.1h0M532.8,724.8h0M518.5,723.5h0M516.3,739.8h0M527.1,718.1h0M529.0,722.9h0M516.3,719.1h0M542.2,730.2h0M512.4,725.4h0M518.0,722.9h0M532.1,718.8h0M512.5,724.3h0M506.9,727.4h0M546.4,728.9h0M530.2,722.8h0M525.2,725.7h0M534.0,714.2h0M519.2,718.6h0M506.0,734.5h0M534.7,719.0h0M546.6,727.5h0M544.0,730.1h0M509.1,726.9h0M518.5,723.8h0M535.3,716.5h0M514.8,729.2h0M518.2,725.0h0M539.5,717.9h0M533.4,714.6h0M515.6,725.6h0M524.3,729.1h0M533.8,723.8h0M541.8,730.1h0M525.0,728.8h0M516.4,727.7h0M544.1,728.1h0M530.5,719.9h0M510.7,728.9h0M521.8,723.6h0M540.0,723.7h0M524.3,718.2h0M515.3,725.8h0M542.3,732.0h0M517.8,729.2h0M523.2,728.6h0M516.9,728.7h0M529.1,718.1h0M535.4,719.8h0M524.7,730.7h0M542.7,726.4h0M509.4,727.2h0M523.2,720.9h0M534.5,722.7h0M522.8,731.1h0M545.7,729.2h0M530.2,711.6h0M523.2,730.6h0M512.9,725.0h0M539.3,721.3h0M518.8,728.7h0M541.7,725.8h0M526.1,727.9h0M531.7,724.3h0M528.3,728.2h0M535.5,724.0h0M523.1,722.9h0M545.2,719.2h0M538.5,723.7h0M512.5,736.3h0M542.9,726.4h0M520.0,726.0h0M513.2,732.4h0M525.4,711.3h0M529.1,723.5h0M543.4,725.2h0M506.1,725.0h0M509.9,728.3h0M524.8,724.1h0M509.8,728.7h0M542.7,724.3h0M530.1,721.2h0M530.8,733.9h0M529.3,722.7h0M506.7,729.1h0M540.0,721.9h0M509.0,726.4h0M510.1,729.3h0M533.1,722.7h0M509.9,725.2h0M512.2,726.7h0M537.7,723.9h0M516.2,732.9h0M520.9,727.8h0M528.2,714.9h0M523.5,732.1h0M521.1,729.7h0M511.4,721.9h0M513.6,727.7h0M511.5,725.7h0M517.0,723.4h0M527.6,722.1h0M511.3,721.4h0M507.4,730.5h0M526.2,700.0h0M543.2,724.5h0M546.4,726.8h0M515.7,728.8h0M525.3,724.9h0M541.5,723.9h0M539.4,726.8h0M540.4,729.6h0M543.5,728.7h0M538.5,722.9h0M527.3,720.0h0M546.8,724.3h0M520.5,722.6h0M543.1,722.1h0M527.8,724.6h0M513.8,728.3h0M514.0,724.6h0M513.1,730.3h0M515.6,727.4h0M545.9,724.8h0M507.2,723.4h0M530.1,721.4h0M517.8,726.0h0M542.5,723.4h0M536.3,726.4h0M530.3,719.1h0M528.7,722.2h0M534.8,727.1h0M528.3,726.4h0M517.6,723.8h0M534.6,719.4h0M537.6,725.1h0M509.6,722.4h0M520.5,735.1h0M533.4,728.5h0M540.5,720.5h0M523.7,727.3h0M507.9,725.1h0M515.6,730.8h0M526.7,719.0h0M522.5,724.5h0M514.9,731.4h0M525.9,716.7h0M517.2,729.0h0M531.8,709.9h0M542.6,724.1h0M515.2,726.6h0M514.3,732.1h0M546.2,724.1h0M514.3,727.2h0M539.3,735.5h0M507.2,725.6h0M519.6,719.6h0M522.0,733.9h0M528.8,729.6h0M512.4,737.7h0M541.9,721.7h0M506.1,736.3h0M532.3,723.0h0M528.8,728.0h0M544.9,730.8h0M531.3,720.2h0M505.9,728.4h0M515.0,729.6h0M529.1,724.4h0M545.4,728.9h0M543.1,723.4h0M517.2,727.5h0M528.1,709.0h0M519.9,718.4h0M541.3,722.9h0M516.4,720.5h0M515.1,726.2h0M511.4,725.9h0M520.6,721.6h0M540.4,728.3h0M526.7,734.9h0M544.4,732.5h0M508.6,725.7h0M506.3,723.3h0M537.7,723.6h0M530.2,726.8h0M522.4,737.1h0M517.5,733.5h0M517.2,730.5h0M507.5,725.0h0M538.5,729.8h0M538.5,724.9h0M507.4,730.8h0M542.6,725.8h0M545.1,731.8h0M537.4,720.6h0M515.5,731.0h0M510.6,731.6h0M510.9,727.0h0M530.4,723.8h0M508.0,727.7h0M517.3,727.4h0M519.6,723.9h0M538.4,728.8h0M530.8,722.5h0M519.9,728.3h0M507.2,731.4h0M541.0,721.3h0M513.5,723.6h0M506.9,726.5h0M520.7,725.2h0M538.4,728.5h0M518.6,728.5h0M506.2,733.3h0M556.3,721.9h0M572.0,728.5h0M561.1,718.9h0M581.3,727.8h0M570.4,719.2h0M575.2,730.0h0M585.4,725.7h0M582.4,725.8h0M547.8,724.3h0M563.9,718.8h0M564.5,716.4h0M576.4,728.2h0M572.1,732.3h0M564.2,719.5h0M583.7,729.1h0M565.4,714.2h0M562.6,721.4h0M557.3,729.8h0M548.9,727.6h0M581.5,730.7h0M578.9,725.3h0M570.3,721.0h0M563.7,731.0h0M565.1,716.9h0M580.3,727.4h0M549.3,725.6h0M561.3,733.0h0M552.0,723.3h0M547.4,719.1h0M579.3,727.0h0M550.6,724.3h0M585.5,732.0h0M588.2,732.7h0M553.0,732.8h0M579.3,717.1h0M562.1,720.0h0M572.8,726.9h0M551.6,728.3h0M555.6,722.9h0M562.6,728.5h0M564.8,720.5h0M559.7,720.8h0M586.7,730.7h0M560.2,722.7h0M563.4,730.4h0M553.9,731.4h0M584.9,729.6h0M571.7,719.9h0M587.6,729.8h0M587.9,726.6h0M583.3,726.2h0M554.5,725.6h0M556.8,720.8h0M587.3,725.7h0M584.1,721.2h0M558.1,729.5h0M561.7,723.9h0M576.5,727.0h0M575.1,723.7h0M548.0,732.1h0M561.7,720.3h0M582.0,727.9h0M578.9,724.7h0M552.9,729.1h0M561.3,712.0h0M585.0,723.0h0M555.5,730.3h0M547.2,727.0h0M578.1,717.7h0M548.1,728.0h0M551.2,724.9h0M587.7,726.8h0M557.0,728.0h0M566.8,721.2h0M564.9,722.8h0M563.1,721.0h0M548.4,729.8h0M585.9,727.5h0M549.6,731.7h0M570.4,726.6h0M556.9,720.5h0M575.5,723.2h0M579.0,723.3h0M577.7,723.1h0M585.7,724.5h0M568.7,723.1h0M551.3,725.2h0M570.4,712.1h0M582.6,725.0h0M574.6,715.6h0M567.5,722.7h0M556.0,727.1h0M586.9,725.7h0M586.2,729.5h0M559.1,724.1h0M584.2,727.3h0M557.0,721.1h0M556.5,723.5h0M585.5,727.1h0M564.4,720.1h0M561.6,734.3h0M552.1,729.9h0M569.3,727.3h0M560.5,724.4h0M588.0,728.9h0M552.7,727.0h0M563.1,717.3h0M587.9,732.5h0M556.6,719.1h0M567.2,725.5h0M576.8,721.8h0M580.4,722.6h0M574.1,730.1h0M587.4,722.1h0M569.2,725.1h0M551.3,724.8h0M581.3,728.6h0M568.5,725.7h0M556.0,725.0h0M564.7,724.2h0M570.4,728.7h0M547.9,728.8h0M584.7,732.1h0M570.7,722.3h0M579.1,728.3h0M553.6,724.5h0M568.9,723.5h0M571.2,719.8h0M550.8,729.2h0M582.5,728.4h0M574.1,726.9h0M586.7,728.0h0M586.1,733.0h0M549.9,731.4h0M578.5,724.0h0M582.8,729.3h0M563.8,710.5h0M571.5,730.5h0M579.9,727.6h0M551.2,724.1h0M555.9,728.9h0M565.1,711.0h0M559.8,724.9h0M556.0,723.9h0M563.9,726.4h0M562.9,720.5h0M561.3,723.3h0M570.2,724.6h0M574.2,724.7h0M559.4,729.2h0M580.6,723.0h0M578.6,722.9h0M574.3,734.1h0M580.8,729.5h0M558.6,723.0h0M561.0,728.8h0M552.7,723.3h0M573.5,730.0h0M548.5,732.7h0M584.9,728.9h0M564.7,719.5h0M553.8,721.8h0M565.9,718.8h0M559.9,729.1h0M563.1,720.3h0M575.6,726.7h0M582.2,728.4h0M583.2,728.4h0M561.0,717.8h0M555.4,725.0h0M559.0,718.3h0M574.8,731.3h0M570.4,729.2h0M552.4,727.9h0M566.7,721.0h0M549.4,734.4h0M547.6,729.3h0M574.5,725.9h0M578.3,733.3h0M580.4,721.9h0M547.8,725.5h0M578.4,730.1h0M565.8,729.9h0M551.6,728.0h0M555.2,725.4h0M566.8,722.4h0M571.4,714.3h0M558.4,717.6h0M584.4,730.4h0M571.8,717.3h0M548.5,725.0h0M553.0,724.7h0M547.7,735.0h0M568.3,725.8h0M550.6,723.9h0M571.5,718.9h0M561.1,720.7h0M584.6,723.2h0M552.0,717.7h0M577.6,727.9h0M586.4,729.2h0M547.7,728.8h0M578.3,722.4h0M561.5,720.5h0M548.5,728.5h0M583.7,728.3h0M587.8,726.3h0M565.2,707.3h0M583.1,721.8h0M582.8,732.9h0M573.4,725.4h0M579.0,732.4h0M573.4,730.3h0M548.4,728.4h0M566.3,718.1h0M549.1,724.2h0M551.0,727.1h0M560.3,726.6h0M556.3,725.6h0M575.3,721.7h0M569.1,729.4h0M583.3,724.0h0M581.0,724.6h0M569.7,724.8h0M580.9,730.2h0M574.8,724.3h0M582.5,725.2h0M556.9,719.8h0M572.3,725.2h0M570.4,719.2h0M573.2,725.2h0M576.4,729.6h0M582.4,730.7h0M552.9,723.7h0M582.9,719.1h0M556.0,726.5h0M573.2,722.9h0M563.9,731.2h0M569.9,731.8h0M572.2,718.3h0M550.8,733.2h0M585.5,731.7h0M557.3,735.9h0M575.3,735.8h0M563.2,726.5h0M562.2,731.1h0M578.5,722.9h0M583.6,729.5h0M567.8,715.8h0M552.1,709.7h0M575.7,727.0h0M576.1,721.5h0M554.8,728.0h0M562.5,722.1h0M583.7,727.9h0M578.6,731.0h0M584.6,726.6h0M571.5,722.8h0M551.5,725.6h0M549.7,728.4h0M574.7,719.9h0M584.8,725.0h0M557.5,723.1h0M568.8,728.7h0M583.8,730.4h0M572.8,718.7h0M583.4,722.9h0M551.7,725.3h0M574.3,731.4h0M554.3,722.2h0M554.0,726.6h0M585.7,732.9h0M586.1,727.3h0M575.6,720.5h0M569.6,725.0h0M583.9,729.7h0M553.8,721.5h0M579.5,725.5h0M576.5,731.8h0M553.5,726.3h0M566.7,722.2h0M577.4,717.0h0M549.4,729.1h0M563.7,724.6h0M571.1,718.1h0M572.7,722.0h0M587.8,727.7h0M581.9,728.2h0M547.3,727.9h0M552.1,730.4h0M569.6,737.5h0M567.1,720.8h0M576.7,717.1h0M582.5,725.5h0M563.5,725.4h0M582.8,726.0h0M585.9,729.6h0M569.8,721.7h0M579.0,731.9h0M554.2,727.3h0M549.6,725.6h0M565.3,720.4h0M553.0,725.7h0M560.4,731.2h0M587.9,721.1h0M558.1,716.8h0M563.3,719.8h0M562.0,720.7h0M568.8,721.8h0M586.0,728.5h0M560.0,725.3h0M581.3,725.9h0M556.9,728.4h0M564.4,723.0h0M575.0,724.4h0M585.8,729.8h0M577.3,723.2h0M571.5,712.2h0M573.7,726.4h0M574.2,713.9h0M584.2,729.5h0M555.9,728.2h0M558.9,716.3h0M584.9,730.0h0M583.8,724.0h0M580.2,733.4h0M566.6,718.4h0M579.1,727.6h0M554.0,721.9h0M578.4,730.0h0M575.7,735.0h0M551.4,725.5h0M569.6,719.0h0M565.3,721.8h0M567.6,721.3h0M547.1,727.0h0M580.4,726.7h0M588.4,733.5h0M570.7,725.5h0M563.8,726.5h0M560.6,719.5h0M577.0,726.4h0M553.7,726.3h0M584.9,728.6h0M575.9,731.5h0M618.9,731.6h0M607.6,720.6h0M605.3,730.2h0M595.5,725.6h0M621.4,729.6h0M617.5,727.1h0M624.5,732.6h0M610.3,730.8h0M597.8,728.9h0M605.8,719.4h0M624.5,734.7h0M605.6,721.5h0M613.2,726.5h0M588.5,723.6h0M608.6,725.4h0M600.3,710.6h0M626.6,733.1h0M594.0,723.7h0M622.1,729.2h0M597.8,725.6h0M614.4,727.0h0M592.5,718.2h0M608.0,726.0h0M616.2,726.3h0M606.4,724.7h0M600.3,727.4h0M622.7,732.0h0M614.3,727.1h0M618.1,730.5h0M598.9,724.1h0M620.6,728.4h0M613.5,727.8h0M619.5,728.3h0M605.4,721.8h0M589.7,725.6h0M591.7,729.1h0M600.5,722.4h0M613.1,708.9h0M608.6,721.9h0M626.5,714.9h0M603.1,717.6h0M624.8,733.9h0M628.1,726.8h0M625.8,732.6h0M613.2,724.5h0M604.9,734.8h0M607.5,717.1h0M624.6,733.2h0M600.7,731.4h0M628.6,714.3h0M598.5,724.0h0M609.9,712.5h0M593.0,725.8h0M599.9,730.2h0M593.3,720.5h0M594.8,723.9h0M614.8,727.7h0M606.7,728.2h0M595.3,721.9h0M613.6,735.0h0M592.0,727.2h0M621.3,715.1h0M613.4,721.0h0M590.3,733.6h0M620.3,735.7h0M620.6,734.2h0M610.0,722.7h0M607.1,722.4h0M604.3,719.8h0M589.0,722.0h0M596.4,722.3h0M589.6,724.2h0M600.6,721.6h0M608.1,728.1h0M620.5,723.0h0M608.7,722.6h0M590.6,724.5h0M630.0,715.3h0M598.9,720.1h0M593.3,720.8h0M619.8,735.9h0M618.2,726.7h0M595.7,725.1h0M629.0,729.6h0M615.6,726.4h0M629.9,723.0h0M596.0,725.4h0M590.8,726.6h0M592.0,728.2h0M603.7,726.2h0M616.6,712.0h0M594.8,733.7h0M592.7,722.1h0M618.6,733.7h0M590.4,727.3h0M589.5,720.8h0M606.5,729.6h0M609.3,730.7h0M622.3,730.1h0M600.3,724.5h0M614.3,722.2h0M628.2,731.3h0M613.2,729.5h0M599.0,726.2h0M601.1,719.4h0M596.8,731.2h0M621.9,730.6h0M621.0,727.2h0M625.6,733.9h0M629.1,727.4h0M593.6,727.5h0M605.5,724.9h0M629.1,729.2h0M605.6,715.8h0M609.4,722.7h0M603.1,725.2h0M595.6,724.3h0M608.3,728.8h0M613.8,731.8h0M595.5,726.9h0M618.2,734.8h0M605.5,719.5h0M609.2,725.1h0M590.1,730.5h0M614.6,730.8h0M613.4,724.8h0M599.9,733.9h0M623.6,730.0h0M618.1,720.8h0M604.2,726.3h0M623.7,730.5h0M618.8,731.7h0M624.1,725.8h0M616.4,736.8h0M595.9,726.4h0M600.4,715.9h0M622.6,730.6h0M616.6,727.4h0M614.4,725.4h0M629.6,728.4h0M612.2,724.8h0M589.0,720.4h0M620.1,739.1h0M594.0,723.5h0M603.5,719.4h0M592.9,723.3h0M601.1,720.1h0M597.2,724.2h0M603.9,719.3h0M629.6,731.5h0M588.6,728.6h0M590.9,725.6h0M618.8,735.8h0M608.3,726.8h0M612.0,729.3h0M629.4,730.9h0M607.5,717.4h0M603.2,728.2h0M614.1,727.9h0M624.1,722.9h0M603.7,728.5h0M602.2,717.8h0M629.7,729.5h0M607.2,728.6h0M616.0,727.4h0M604.7,714.7h0M602.8,720.9h0M592.2,715.8h0M596.4,717.9h0M617.5,723.9h0M594.9,724.7h0M613.9,727.9h0M610.9,732.1h0M612.1,733.6h0M625.6,728.9h0M592.6,727.0h0M593.1,729.0h0M588.8,728.7h0M613.1,723.4h0M609.7,722.4h0M626.1,737.4h0M614.9,737.1h0M589.2,723.0h0M598.3,726.6h0M616.6,725.0h0M594.9,720.9h0M625.1,728.9h0M597.6,723.0h0M619.1,723.0h0M599.4,727.0h0M600.5,728.9h0M620.8,731.2h0M628.2,727.4h0M626.0,731.5h0M626.4,721.9h0M596.2,721.9h0M625.4,737.4h0M612.8,733.5h0M628.7,727.5h0M598.8,729.3h0M593.1,730.4h0M621.8,724.5h0M601.6,722.3h0M622.6,731.3h0M622.6,724.8h0M594.2,727.3h0M590.2,730.4h0M598.6,730.1h0M597.0,725.3h0M597.4,717.4h0M612.4,731.6h0M612.9,726.0h0M626.9,726.5h0M623.7,734.3h0M617.2,730.8h0M627.7,728.4h0M618.7,722.4h0M601.9,719.6h0M590.6,734.2h0M608.5,725.2h0M612.9,724.3h0M614.0,723.1h0M597.1,726.9h0M597.3,729.4h0M624.4,728.3h0M591.4,729.8h0M622.9,735.4h0M606.2,720.1h0M614.3,733.3h0M605.4,725.4h0M619.1,724.3h0M623.5,731.5h0M624.5,731.9h0M607.6,720.7h0M592.6,728.0h0M602.7,726.1h0M603.4,722.9h0M589.0,727.7h0M613.9,736.9h0M603.3,717.9h0M609.0,729.9h0M622.9,726.0h0M623.2,726.3h0M625.9,730.3h0M591.6,728.6h0M611.9,719.0h0M606.6,725.7h0M598.2,725.9h0M616.7,723.3h0M629.3,728.9h0M625.0,724.3h0M594.6,730.7h0M592.2,722.8h0M617.8,726.7h0M596.8,724.1h0M600.7,723.2h0M619.9,731.0h0M624.2,727.2h0M619.0,719.4h0M617.5,727.8h0M600.9,724.0h0M617.6,705.0h0M610.4,724.7h0M599.9,726.2h0M589.5,727.3h0M595.1,730.5h0M604.2,727.6h0M607.6,721.6h0M616.4,729.1h0M588.8,727.0h0M607.8,727.2h0M607.7,718.7h0M626.4,727.0h0M611.5,726.3h0M613.5,726.6h0M617.0,733.4h0M594.5,724.0h0M618.3,721.9h0M628.9,732.9h0M625.3,729.1h0M592.7,717.3h0M595.3,728.3h0M598.1,730.6h0M611.9,724.6h0M617.6,731.9h0M609.6,723.2h0M630.0,731.3h0M620.6,725.3h0M608.9,725.2h0M598.4,722.1h0M606.3,716.0h0M592.4,729.4h0M603.3,717.0h0M607.2,718.7h0M597.2,716.9h0M617.0,732.9h0M618.4,732.3h0M604.0,721.3h0M592.5,727.6h0M594.9,722.1h0M597.5,718.9h0M597.7,724.0h0M598.0,720.9h0M624.7,724.1h0M604.7,728.2h0M609.2,724.4h0M609.9,737.6h0M589.3,721.7h0M614.4,722.0h0M601.7,728.5h0M618.4,733.7h0M619.7,730.8h0M595.3,723.7h0M597.4,712.8h0M611.4,728.7h0M627.6,731.8h0M601.1,721.1h0M613.5,725.7h0M599.8,715.5h0M616.7,716.5h0M628.0,726.6h0M591.3,727.7h0M602.9,720.2h0M612.1,722.0h0M621.3,726.2h0M625.4,732.5h0M590.5,727.8h0M622.7,731.9h0M622.0,726.6h0M625.4,735.2h0M624.5,723.5h0M627.7,734.4h0M603.6,721.3h0M615.5,722.0h0M588.7,723.2h0M621.1,731.9h0M589.7,723.0h0M625.9,723.5h0M595.4,726.4h0M605.1,732.2h0M616.3,727.0h0M629.3,729.5h0M592.4,723.5h0M588.7,722.8h0M616.7,729.8h0M627.1,746.9h0M625.6,730.0h0M625.0,742.7h0M627.4,734.0h0M627.4,730.3h0M625.8,736.1h0M627.8,740.8h0M626.1,746.1h0M626.0,745.7h0M626.2,743.4h0M627.5,732.3h0M626.0,743.1h0M629.7,740.9h0M626.0,746.0h0M626.8,736.4h0M627.1,735.5h0M629.7,737.3h0M627.4,738.1h0M626.1,734.2h0M629.0,738.0h0M627.8,730.3h0M625.0,740.2h0M625.3,746.2h0M627.4,734.7h0M629.7,734.0h0M628.8,736.7h0M627.3,745.3h0M625.9,740.3h0M627.5,745.1h0M625.3,742.0h0M626.9,732.9h0M628.8,745.1h0M626.6,735.5h0M626.3,731.8h0M629.8,738.8h0M625.5,738.4h0M625.1,732.5h0M629.1,734.2h0M628.0,746.7h0M627.4,732.6h0M427.4,740.9h0M242.0,758.2h0M448.8,744.1h0M323.1,762.3h0M243.3,745.9h0M443.6,754.8h0M316.6,789.9h0M234.5,770.4h0M202.7,763.5h0M234.6,741.0h0M248.1,786.6h0M326.9,740.7h0M238.3,750.7h0M141.6,766.5h0M230.6,759.8h0M238.4,746.5h0M373.4,780.4h0M119.7,762.3h0M189.0,800.9h0M240.2,824.2h0M110.4,809.4h0M107.3,808.8h0M239.3,774.5h0M230.1,771.3h0M456.5,752.5h0M406.1,771.3h0M312.8,753.4h0M491.2,757.6h0M374.5,774.6h0M306.4,768.7h0M112.5,739.6h0M460.6,785.2h0M503.9,778.8h0M229.2,760.8h0M374.6,739.8h0M322.2,741.2h0M491.4,766.0h0M315.7,874.6h0M318.4,895.4h0M355.4,753.5h0M326.2,802.6h0M241.1,822.4h0M241.7,801.4h0M397.7,753.5h0M367.4,799.7h0M313.6,748.4h0M121.7,763.5h0M379.3,836.5h0M316.3,806.6h0M238.6,756.0h0M202.6,797.8h0M232.3,744.2h0M286.6,761.3h0M279.9,742.1h0M324.6,750.2h0M265.5,741.7h0M375.3,882.0h0M321.6,756.0h0M418.4,740.1h0M503.4,774.2h0M146.4,751.8h0M329.8,824.1h0M114.6,753.1h0M166.7,752.6h0M461.6,761.8h0M242.1,765.2h0M238.4,808.0h0M163.8,757.3h0M125.4,755.7h0M234.7,811.7h0M229.2,770.5h0M180.1,739.2h0M216.6,748.7h0M394.6,746.9h0M353.3,744.0h0M152.3,778.1h0M312.3,767.7h0M176.6,767.7h0M316.3,764.2h0M424.0,746.9h0M318.2,769.5h0M233.7,772.2h0M238.0,798.1h0M376.0,817.8h0M467.2,751.0h0M321.6,869.4h0M216.4,741.5h0M230.4,765.6h0M235.3,752.7h0M321.8,747.1h0M226.5,747.8h0M228.0,752.9h0M453.9,755.0h0M315.6,761.2h0M107.1,751.0h0M320.0,765.5h0M350.1,741.1h0M241.6,740.3h0M313.9,791.5h0M317.0,776.4h0M324.0,754.1h0M289.6,790.7h0M270.8,781.2h0M249.6,739.9h0M247.4,800.1h0M111.4,745.2h0M316.2,745.4h0M106.1,807.9h0M235.8,823.6h0M327.5,744.9h0M231.2,740.8h0M100.2,759.7h0M288.9,793.6h0M212.5,868.7h0M477.1,767.3h0M327.9,760.9h0M257.0,744.4h0M442.1,778.9h0M481.9,773.8h0M233.2,882.9h0M245.4,810.8h0M239.2,761.7h0M424.2,766.8h0M327.8,772.0h0M235.2,744.3h0M321.1,795.6h0M411.7,751.2h0M312.9,739.2h0M318.9,765.4h0M427.5,809.1h0M310.6,789.9h0M329.7,768.5h0M135.0,774.0h0M386.1,748.3h0M327.8,812.3h0M373.9,750.3h0M485.6,799.3h0M313.8,770.7h0M234.3,748.1h0M116.5,785.0h0M305.9,791.6h0M105.9,794.2h0M320.3,829.8h0M333.1,826.3h0M479.6,779.8h0M121.9,820.7h0M322.6,815.3h0M474.4,742.4h0M420.4,758.1h0M215.0,743.1h0M239.0,811.2h0M246.3,758.7h0M341.4,777.7h0M322.7,759.5h0M340.2,775.9h0M241.9,748.1h0M246.8,774.4h0M312.9,760.3h0M325.9,761.1h0M322.7,776.2h0M414.7,790.4h0M140.3,757.8h0M234.3,772.0h0M303.9,879.4h0M413.0,745.5h0M271.8,780.4h0M368.2,754.0h0M231.1,760.1h0M262.1,754.5h0M233.0,747.3h0M321.4,766.1h0M391.8,770.1h0M234.4,750.4h0M232.7,745.9h0M317.7,789.9h0M237.0,759.7h0M231.7,773.8h0M232.8,742.0h0M240.9,748.9h0M233.2,868.8h0M320.1,816.8h0M119.5,752.2h0M275.9,787.7h0M329.9,756.2h0M282.6,749.0h0M239.5,824.4h0M227.4,742.5h0M442.5,764.6h0M239.7,752.4h0M423.1,776.0h0M241.0,809.8h0M244.0,823.5h0M393.5,748.1h0M327.5,774.6h0M236.7,815.9h0M239.6,775.4h0M242.5,761.4h0M439.6,864.9h0M436.9,743.3h0M174.2,740.9h0M101.0,763.5h0M310.3,797.6h0M113.0,787.4h0M421.0,746.0h0M341.3,753.4h0M296.6,801.1h0M252.0,813.3h0M323.2,794.5h0M329.0,878.4h0M185.3,765.2h0M397.8,752.5h0M327.4,748.4h0M468.0,796.9h0M315.0,742.7h0M207.1,789.3h0M440.5,778.9h0M309.0,772.5h0M323.7,774.8h0M395.3,745.8h0M237.6,771.2h0M116.4,745.5h0M334.3,785.4h0M369.0,792.8h0M366.7,770.1h0M164.7,797.3h0M240.3,739.1h0M285.8,783.0h0M229.1,769.2h0M187.9,757.3h0M331.9,757.3h0M384.6,789.0h0M400.3,744.6h0M260.4,739.3h0M309.7,753.5h0M103.3,751.4h0M238.3,781.1h0M111.2,752.0h0M233.3,884.0h0M364.0,741.0h0M325.0,743.2h0M393.1,740.1h0M305.1,771.4h0M469.8,777.9h0M240.5,752.6h0M415.2,747.3h0M444.2,740.3h0M389.4,765.0h0M414.5,826.8h0M331.8,774.4h0M238.7,773.2h0M240.1,769.4h0M240.1,744.2h0M97.6,743.4h0M338.1,792.9h0M323.1,809.8h0M327.1,778.8h0M402.0,807.0h0M329.3,812.0h0M412.2,745.1h0M391.0,785.3h0M180.4,746.0h0M233.3,755.6h0M235.0,753.2h0M399.1,751.5h0M325.1,748.7h0M390.8,714.2h0M158.8,702.5h0M208.5,706.3h0M213.8,713.6h0M484.0,710.5h0M261.2,705.6h0M307.4,713.5h0M99.8,714.1h0M324.4,712.3h0M489.9,707.0h0M122.8,715.1h0M105.9,712.8h0M457.2,709.7h0M180.5,690.9h0M396.5,715.6h0M321.9,716.2h0M152.1,715.5h0M395.9,706.1h0M319.9,680.6h0M138.3,691.2h0M127.4,714.9h0M439.8,711.2h0M214.2,710.3h0M247.5,710.7h0M523.3,691.3h0M129.3,714.1h0M221.4,695.3h0M264.2,706.3h0M505.0,708.2h0M243.1,711.4h0M380.9,716.6h0M262.0,707.7h0M180.5,701.3h0M168.4,712.7h0M386.5,572.8h0M221.1,602.1h0M170.3,617.3h0M180.0,636.9h0M194.7,644.7h0M111.5,656.0h0M236.3,650.6h0M326.8,648.6h0M489.2,649.6h0M309.2,664.8h0M222.6,667.2h0M233.4,671.1h0M131.1,669.2h0M205.5,673.1h0M566.5,673.1h0M237.3,682.9h0M239.5,683.5h0M117.4,689.2h0M130.1,686.8h0M458.9,685.3h0M464.8,688.2h0M469.7,688.2h0M480.9,685.8h0M388.9,692.6h0M400.2,694.1h0M300.9,692.6h0M270.1,697.5h0M337.6,696.6h0M326.8,699.0h0M199.6,700.5h0M204.5,699.5h0M215.3,699.0h0M109.6,699.0h0M459.9,699.0h0M402.2,701.4h0M110.6,919.2h0M253.4,918.2h0M309.2,920.6h0M317.0,904.5h0M321.9,907.9h0M314.0,926.5h0M319.0,929.0h0M317.0,931.4h0M318.0,952.0h0M393.8,933.8h0M397.3,937.8h0M397.3,902.0h0M431.5,937.8h0M473.6,945.1h0M279.8,897.2h0M96.0,881.0h0M110.5,881.5h0M197.0,882.5h0M205.0,880.0h0M470.0,882.0h0M552.0,886.0h0M556.0,888.0h0M580.0,886.0h0M415.0,888.0h0" stroke="#4400f2" stroke-width="4.0" stroke-linecap="round" fill="none"/>
<path d="M90.9,729.7h0M91.9,726.8h0M92.4,727.3h0M93.5,725.5h0M94.6,727.0h0M94.8,725.2h0M95.9,727.7h0M96.4,720.8h0M97.5,724.2h0M98.8,724.8h0M99.1,724.8h0M100.3,726.6h0M101.5,727.1h0M101.7,728.0h0M102.6,728.4h0M103.8,726.1h0M104.3,729.1h0M105.2,728.7h0M106.5,732.2h0M107.4,729.2h0M108.0,732.4h0M109.3,728.2h0M109.6,738.0h0M110.6,734.9h0M111.2,728.5h0M112.6,732.3h0M113.1,736.5h0M113.9,734.5h0M115.4,735.0h0M115.4,735.5h0M116.7,736.8h0M117.7,731.2h0M118.5,733.2h0M119.1,732.8h0M119.9,732.0h0M121.1,735.5h0M122.3,733.8h0M122.4,730.9h0M123.8,729.5h0M124.8,733.5h0M125.6,732.2h0M126.4,733.0h0M126.7,736.4h0M128.3,734.2h0M128.9,733.6h0M129.9,736.6h0M130.4,734.7h0M131.7,736.7h0M132.3,721.5h0M132.7,726.1h0M134.1,726.2h0M134.9,723.6h0M135.7,725.4h0M137.0,725.4h0M137.6,727.4h0M138.7,729.5h0M138.8,723.5h0M140.5,728.4h0M141.2,727.1h0M141.9,723.9h0M142.9,729.7h0M143.5,727.7h0M144.7,729.1h0M145.4,729.4h0M146.0,725.7h0M147.0,729.0h0M147.6,731.2h0M148.8,727.9h0M149.8,729.3h0M150.4,730.4h0M151.6,726.7h0M152.4,735.0h0M153.3,731.8h0M153.6,731.0h0M154.3,729.5h0M155.5,727.3h0M156.1,732.9h0M157.1,732.8h0M158.3,726.7h0M159.4,723.4h0M159.7,726.4h0M160.9,726.6h0M161.4,731.5h0M162.7,729.4h0M163.2,729.0h0M164.1,730.5h0M165.2,730.9h0M166.1,729.5h0M167.0,729.3h0M167.7,729.8h0M169.0,730.4h0M169.5,732.4h0M170.7,731.0h0M171.3,732.6h0M171.9,734.8h0M172.8,731.4h0M173.7,720.4h0M174.5,726.7h0M175.3,724.1h0M176.5,727.2h0M177.5,725.3h0M178.0,731.0h0M178.9,726.5h0M179.7,723.0h0M180.9,732.0h0M181.5,730.5h0M182.2,732.4h0M183.5,726.9h0M184.3,731.2h0M185.0,731.3h0M186.1,732.1h0M186.8,729.0h0M187.8,731.3h0M188.0,734.3h0M189.1,729.3h0M190.3,730.8h0M191.5,728.9h0M191.7,730.4h0M192.9,731.3h0M193.9,729.7h0M194.6,732.6h0M195.6,730.4h0M196.3,734.2h0M196.9,731.4h0M198.0,733.3h0M199.3,728.4h0M199.6,728.1h0M200.8,729.6h0M201.5,732.0h0M202.3,733.1h0M203.3,732.2h0M204.4,733.7h0M205.2,734.8h0M205.7,731.8h0M206.6,731.8h0M207.5,731.9h0M208.8,735.7h0M209.1,735.7h0M209.9,737.1h0M211.1,738.4h0M211.7,741.0h0M212.5,739.3h0M213.1,735.8h0M214.3,739.0h0M215.1,722.2h0M216.5,723.9h0M216.7,728.4h0M218.0,726.9h0M218.4,728.8h0M219.6,726.4h0M220.4,732.9h0M221.7,732.1h0M222.6,728.7h0M222.8,730.9h0M223.9,731.6h0M224.7,732.1h0M226.1,730.0h0M226.2,729.5h0M227.1,730.3h0M227.9,733.9h0M228.9,729.5h0M230.3,725.7h0M230.6,724.9h0M232.1,725.9h0M232.8,732.7h0M233.7,728.5h0M234.3,729.5h0M235.3,726.6h0M235.9,730.0h0M237.3,730.5h0M237.5,728.8h0M239.0,724.7h0M239.9,728.2h0M240.6,734.3h0M241.3,728.0h0M242.4,730.2h0M243.2,731.5h0M244.0,732.5h0M244.7,728.0h0M245.5,737.8h0M246.6,736.0h0M247.2,737.5h0M248.3,731.0h0M249.2,733.8h0M250.1,737.5h0M250.7,735.9h0M251.8,737.5h0M252.0,736.9h0M253.2,736.8h0M254.0,735.3h0M255.0,738.5h0M256.1,741.4h0M256.8,730.0h0M258.0,730.4h0M258.7,730.7h0M259.2,731.5h0M260.6,731.6h0M261.1,730.4h0M262.4,728.3h0M262.7,730.0h0M263.9,727.4h0M265.0,728.2h0M265.6,728.9h0M266.3,730.8h0M266.8,732.6h0M267.6,728.6h0M268.6,727.6h0M269.6,728.7h0M270.7,728.6h0M271.7,728.4h0M272.6,728.1h0M272.9,727.3h0M273.9,727.1h0M275.2,731.9h0M275.7,729.6h0M276.3,728.7h0M277.8,732.2h0M278.1,732.8h0M279.0,729.7h0M279.8,726.6h0M281.4,734.2h0M281.9,732.8h0M282.7,735.8h0M283.3,734.7h0M284.6,735.7h0M284.9,734.3h0M286.4,733.6h0M287.0,735.7h0M287.9,731.4h0M288.6,735.3h0M289.3,735.2h0M290.1,731.1h0M291.4,736.4h0M292.6,738.5h0M292.8,736.1h0M293.9,736.8h0M295.0,736.3h0M295.6,735.6h0M296.6,735.8h0M297.4,735.2h0M297.9,730.8h0M298.9,733.6h0M300.3,729.7h0M300.6,731.0h0M301.9,730.4h0M303.0,730.2h0M303.3,726.7h0M304.0,733.6h0M305.4,733.5h0M306.0,730.3h0M306.9,728.3h0M307.7,724.5h0M309.0,724.2h0M309.1,727.6h0M310.6,726.9h0M311.4,729.5h0M312.1,725.3h0M313.0,727.7h0M314.1,728.6h0M314.5,729.7h0M315.9,730.2h0M316.4,730.8h0M317.2,729.0h0M318.0,735.3h0M319.3,734.8h0M320.1,730.1h0M320.4,735.4h0M321.6,733.4h0M322.6,735.0h0M323.4,736.6h0M324.5,735.5h0M324.8,736.2h0M325.8,733.1h0M327.2,736.0h0M328.1,736.0h0M328.8,737.3h0M329.4,732.9h0M330.4,735.9h0M331.3,736.0h0M332.1,735.9h0M332.8,736.3h0M333.5,738.0h0M334.5,734.7h0M335.5,728.8h0M336.3,730.6h0M337.5,735.0h0M338.1,732.7h0M338.6,732.7h0M340.2,729.2h0M340.8,724.5h0M341.4,725.3h0M342.2,723.6h0M343.4,724.8h0M344.0,725.4h0M345.1,719.5h0M346.0,726.1h0M346.9,721.1h0M347.6,724.6h0M348.1,724.9h0M349.1,726.5h0M349.9,728.0h0M350.9,726.1h0M351.9,728.0h0M352.8,725.6h0M353.3,727.7h0M354.4,732.3h0M355.3,723.0h0M356.1,730.9h0M356.8,728.9h0M357.8,731.7h0M358.6,733.3h0M359.3,731.3h0M360.4,733.9h0M361.7,729.9h0M361.9,733.1h0M363.5,732.8h0M363.9,733.3h0M365.2,734.2h0M366.2,732.6h0M366.4,731.4h0M367.9,729.6h0M368.5,732.1h0M369.0,732.4h0M370.2,731.2h0M371.1,732.3h0M372.0,727.3h0M372.5,731.0h0M373.4,731.0h0M374.5,734.3h0M374.9,732.6h0M376.4,732.7h0M377.3,733.8h0M378.3,734.8h0M379.0,732.9h0M379.2,734.6h0M380.9,732.7h0M381.6,723.3h0M382.1,720.8h0M382.7,724.0h0M383.6,726.5h0M384.4,725.6h0M385.7,722.7h0M386.6,725.1h0M387.7,725.5h0M388.2,726.6h0M389.2,730.8h0M390.2,726.4h0M390.9,725.6h0M392.1,726.2h0M392.7,728.3h0M393.3,729.4h0M394.7,727.7h0M395.1,730.1h0M396.3,729.5h0M396.5,729.0h0M397.5,731.5h0M398.2,733.6h0M399.4,726.2h0M400.2,730.7h0M401.5,732.2h0M402.5,730.2h0M403.2,731.0h0M404.1,729.6h0M404.4,733.0h0M405.7,732.2h0M406.7,731.0h0M407.0,731.9h0M408.5,727.2h0M409.4,727.9h0M409.8,730.3h0M410.8,729.9h0M411.5,728.8h0M412.8,732.2h0M413.7,726.0h0M414.2,724.1h0M414.6,732.2h0M416.0,727.9h0M416.7,730.4h0M417.4,728.1h0M418.6,732.6h0M419.5,729.0h0M420.3,733.1h0M421.1,734.9h0M422.1,727.6h0M423.0,720.8h0M423.8,721.9h0M424.8,724.3h0M425.3,724.0h0M426.7,729.5h0M427.4,727.9h0M427.7,724.8h0M428.7,726.8h0M430.0,723.5h0M430.8,727.6h0M431.6,730.5h0M432.2,726.0h0M433.6,729.0h0M434.1,727.7h0M434.8,730.9h0M435.5,731.7h0M436.4,729.4h0M437.4,726.8h0M438.4,731.6h0M439.1,732.5h0M440.3,730.5h0M440.8,733.1h0M441.7,732.9h0M442.5,732.8h0M443.9,731.2h0M444.7,732.4h0M445.6,729.3h0M446.3,728.3h0M446.7,728.3h0M448.1,729.2h0M448.4,732.8h0M449.6,726.6h0M450.8,729.8h0M451.1,730.4h0M452.0,731.1h0M453.5,730.4h0M454.4,728.5h0M455.1,734.1h0M455.6,731.6h0M456.3,732.0h0M457.7,736.0h0M458.3,733.7h0M458.9,732.5h0M460.2,737.1h0M461.3,735.6h0M461.7,736.7h0M462.4,734.9h0M463.3,738.7h0M464.5,724.8h0M465.6,728.5h0M466.0,724.9h0M467.3,727.6h0M468.1,725.0h0M468.6,728.6h0M470.0,728.0h0M470.4,729.9h0M471.2,728.8h0M472.0,728.5h0M472.9,727.7h0M474.0,723.8h0M475.0,727.0h0M475.2,733.4h0M476.1,729.0h0M477.7,729.2h0M478.1,730.1h0M479.5,730.6h0M480.2,726.3h0M480.4,731.6h0M481.9,729.3h0M482.2,729.8h0M483.5,729.8h0M484.2,723.7h0M485.4,732.3h0M486.2,731.6h0M486.8,727.6h0M487.9,726.8h0M488.3,730.5h0M489.5,734.9h0M490.2,731.6h0M491.1,732.2h0M492.0,734.4h0M493.0,732.1h0M493.7,731.8h0M494.7,733.6h0M495.4,735.9h0M496.8,733.4h0M497.5,735.9h0M498.0,731.7h0M499.0,734.6h0M500.2,737.0h0M500.6,736.3h0M501.7,736.6h0M502.2,733.9h0M503.4,733.9h0M503.9,737.1h0M504.9,736.4h0M629.8,750.8h0M546.5,748.5h0M557.3,738.0h0M562.5,737.0h0M502.5,744.5h0M495.5,739.0h0M581.5,741.0h0M603.5,735.5h0M569.0,733.0h0M574.0,734.0h0M188.5,765.0h0M331.5,797.0h0" stroke="#058048" stroke-width="5.2" stroke-linecap="round" fill="none"/>
<path d="M90.9,729.7h0M91.9,726.8h0M92.4,727.3h0M93.5,725.5h0M94.6,727.0h0M94.8,725.2h0M95.9,727.7h0M96.4,720.8h0M97.5,724.2h0M98.8,724.8h0M99.1,724.8h0M100.3,726.6h0M101.5,727.1h0M101.7,728.0h0M102.6,728.4h0M103.8,726.1h0M104.3,729.1h0M105.2,728.7h0M106.5,732.2h0M107.4,729.2h0M108.0,732.4h0M109.3,728.2h0M109.6,738.0h0M110.6,734.9h0M111.2,728.5h0M112.6,732.3h0M113.1,736.5h0M113.9,734.5h0M115.4,735.0h0M115.4,735.5h0M116.7,736.8h0M117.7,731.2h0M118.5,733.2h0M119.1,732.8h0M119.9,732.0h0M121.1,735.5h0M122.3,733.8h0M122.4,730.9h0M123.8,729.5h0M124.8,733.5h0M125.6,732.2h0M126.4,733.0h0M126.7,736.4h0M128.3,734.2h0M128.9,733.6h0M129.9,736.6h0M130.4,734.7h0M131.7,736.7h0M132.3,721.5h0M132.7,726.1h0M134.1,726.2h0M134.9,723.6h0M135.7,725.4h0M137.0,725.4h0M137.6,727.4h0M138.7,729.5h0M138.8,723.5h0M140.5,728.4h0M141.2,727.1h0M141.9,723.9h0M142.9,729.7h0M143.5,727.7h0M144.7,729.1h0M145.4,729.4h0M146.0,725.7h0M147.0,729.0h0M147.6,731.2h0M148.8,727.9h0M149.8,729.3h0M150.4,730.4h0M151.6,726.7h0M152.4,735.0h0M153.3,731.8h0M153.6,731.0h0M154.3,729.5h0M155.5,727.3h0M156.1,732.9h0M157.1,732.8h0M158.3,726.7h0M159.4,723.4h0M159.7,726.4h0M160.9,726.6h0M161.4,731.5h0M162.7,729.4h0M163.2,729.0h0M164.1,730.5h0M165.2,730.9h0M166.1,729.5h0M167.0,729.3h0M167.7,729.8h0M169.0,730.4h0M169.5,732.4h0M170.7,731.0h0M171.3,732.6h0M171.9,734.8h0M172.8,731.4h0M173.7,720.4h0M174.5,726.7h0M175.3,724.1h0M176.5,727.2h0M177.5,725.3h0M178.0,731.0h0M178.9,726.5h0M179.7,723.0h0M180.9,732.0h0M181.5,730.5h0M182.2,732.4h0M183.5,726.9h0M184.3,731.2h0M185.0,731.3h0M186.1,732.1h0M186.8,729.0h0M187.8,731.3h0M188.0,734.3h0M189.1,729.3h0M190.3,730.8h0M191.5,728.9h0M191.7,730.4h0M192.9,731.3h0M193.9,729.7h0M194.6,732.6h0M195.6,730.4h0M196.3,734.2h0M196.9,731.4h0M198.0,733.3h0M199.3,728.4h0M199.6,728.1h0M200.8,729.6h0M201.5,732.0h0M202.3,733.1h0M203.3,732.2h0M204.4,733.7h0M205.2,734.8h0M205.7,731.8h0M206.6,731.8h0M207.5,731.9h0M208.8,735.7h0M209.1,735.7h0M209.9,737.1h0M211.1,738.4h0M211.7,741.0h0M212.5,739.3h0M213.1,735.8h0M214.3,739.0h0M215.1,722.2h0M216.5,723.9h0M216.7,728.4h0M218.0,726.9h0M218.4,728.8h0M219.6,726.4h0M220.4,732.9h0M221.7,732.1h0M222.6,728.7h0M222.8,730.9h0M223.9,731.6h0M224.7,732.1h0M226.1,730.0h0M226.2,729.5h0M227.1,730.3h0M227.9,733.9h0M228.9,729.5h0M230.3,725.7h0M230.6,724.9h0M232.1,725.9h0M232.8,732.7h0M233.7,728.5h0M234.3,729.5h0M235.3,726.6h0M235.9,730.0h0M237.3,730.5h0M237.5,728.8h0M239.0,724.7h0M239.9,728.2h0M240.6,734.3h0M241.3,728.0h0M242.4,730.2h0M243.2,731.5h0M244.0,732.5h0M244.7,728.0h0M245.5,737.8h0M246.6,736.0h0M247.2,737.5h0M248.3,731.0h0M249.2,733.8h0M250.1,737.5h0M250.7,735.9h0M251.8,737.5h0M252.0,736.9h0M253.2,736.8h0M254.0,735.3h0M255.0,738.5h0M256.1,741.4h0M256.8,730.0h0M258.0,730.4h0M258.7,730.7h0M259.2,731.5h0M260.6,731.6h0M261.1,730.4h0M262.4,728.3h0M262.7,730.0h0M263.9,727.4h0M265.0,728.2h0M265.6,728.9h0M266.3,730.8h0M266.8,732.6h0M267.6,728.6h0M268.6,727.6h0M269.6,728.7h0M270.7,728.6h0M271.7,728.4h0M272.6,728.1h0M272.9,727.3h0M273.9,727.1h0M275.2,731.9h0M275.7,729.6h0M276.3,728.7h0M277.8,732.2h0M278.1,732.8h0M279.0,729.7h0M279.8,726.6h0M281.4,734.2h0M281.9,732.8h0M282.7,735.8h0M283.3,734.7h0M284.6,735.7h0M284.9,734.3h0M286.4,733.6h0M287.0,735.7h0M287.9,731.4h0M288.6,735.3h0M289.3,735.2h0M290.1,731.1h0M291.4,736.4h0M292.6,738.5h0M292.8,736.1h0M293.9,736.8h0M295.0,736.3h0M295.6,735.6h0M296.6,735.8h0M297.4,735.2h0M297.9,730.8h0M298.9,733.6h0M300.3,729.7h0M300.6,731.0h0M301.9,730.4h0M303.0,730.2h0M303.3,726.7h0M304.0,733.6h0M305.4,733.5h0M306.0,730.3h0M306.9,728.3h0M307.7,724.5h0M309.0,724.2h0M309.1,727.6h0M310.6,726.9h0M311.4,729.5h0M312.1,725.3h0M313.0,727.7h0M314.1,728.6h0M314.5,729.7h0M315.9,730.2h0M316.4,730.8h0M317.2,729.0h0M318.0,735.3h0M319.3,734.8h0M320.1,730.1h0M320.4,735.4h0M321.6,733.4h0M322.6,735.0h0M323.4,736.6h0M324.5,735.5h0M324.8,736.2h0M325.8,733.1h0M327.2,736.0h0M328.1,736.0h0M328.8,737.3h0M329.4,732.9h0M330.4,735.9h0M331.3,736.0h0M332.1,735.9h0M332.8,736.3h0M333.5,738.0h0M334.5,734.7h0M335.5,728.8h0M336.3,730.6h0M337.5,735.0h0M338.1,732.7h0M338.6,732.7h0M340.2,729.2h0M340.8,724.5h0M341.4,725.3h0M342.2,723.6h0M343.4,724.8h0M344.0,725.4h0M345.1,719.5h0M346.0,726.1h0M346.9,721.1h0M347.6,724.6h0M348.1,724.9h0M349.1,726.5h0M349.9,728.0h0M350.9,726.1h0M351.9,728.0h0M352.8,725.6h0M353.3,727.7h0M354.4,732.3h0M355.3,723.0h0M356.1,730.9h0M356.8,728.9h0M357.8,731.7h0M358.6,733.3h0M359.3,731.3h0M360.4,733.9h0M361.7,729.9h0M361.9,733.1h0M363.5,732.8h0M363.9,733.3h0M365.2,734.2h0M366.2,732.6h0M366.4,731.4h0M367.9,729.6h0M368.5,732.1h0M369.0,732.4h0M370.2,731.2h0M371.1,732.3h0M372.0,727.3h0M372.5,731.0h0M373.4,731.0h0M374.5,734.3h0M374.9,732.6h0M376.4,732.7h0M377.3,733.8h0M378.3,734.8h0M379.0,732.9h0M379.2,734.6h0M380.9,732.7h0M381.6,723.3h0M382.1,720.8h0M382.7,724.0h0M383.6,726.5h0M384.4,725.6h0M385.7,722.7h0M386.6,725.1h0M387.7,725.5h0M388.2,726.6h0M389.2,730.8h0M390.2,726.4h0M390.9,725.6h0M392.1,726.2h0M392.7,728.3h0M393.3,729.4h0M394.7,727.7h0M395.1,730.1h0M396.3,729.5h0M396.5,729.0h0M397.5,731.5h0M398.2,733.6h0M399.4,726.2h0M400.2,730.7h0M401.5,732.2h0M402.5,730.2h0M403.2,731.0h0M404.1,729.6h0M404.4,733.0h0M405.7,732.2h0M406.7,731.0h0M407.0,731.9h0M408.5,727.2h0M409.4,727.9h0M409.8,730.3h0M410.8,729.9h0M411.5,728.8h0M412.8,732.2h0M413.7,726.0h0M414.2,724.1h0M414.6,732.2h0M416.0,727.9h0M416.7,730.4h0M417.4,728.1h0M418.6,732.6h0M419.5,729.0h0M420.3,733.1h0M421.1,734.9h0M422.1,727.6h0M423.0,720.8h0M423.8,721.9h0M424.8,724.3h0M425.3,724.0h0M426.7,729.5h0M427.4,727.9h0M427.7,724.8h0M428.7,726.8h0M430.0,723.5h0M430.8,727.6h0M431.6,730.5h0M432.2,726.0h0M433.6,729.0h0M434.1,727.7h0M434.8,730.9h0M435.5,731.7h0M436.4,729.4h0M437.4,726.8h0M438.4,731.6h0M439.1,732.5h0M440.3,730.5h0M440.8,733.1h0M441.7,732.9h0M442.5,732.8h0M443.9,731.2h0M444.7,732.4h0M445.6,729.3h0M446.3,728.3h0M446.7,728.3h0M448.1,729.2h0M448.4,732.8h0M449.6,726.6h0M450.8,729.8h0M451.1,730.4h0M452.0,731.1h0M453.5,730.4h0M454.4,728.5h0M455.1,734.1h0M455.6,731.6h0M456.3,732.0h0M457.7,736.0h0M458.3,733.7h0M458.9,732.5h0M460.2,737.1h0M461.3,735.6h0M461.7,736.7h0M462.4,734.9h0M463.3,738.7h0M464.5,724.8h0M465.6,728.5h0M466.0,724.9h0M467.3,727.6h0M468.1,725.0h0M468.6,728.6h0M470.0,728.0h0M470.4,729.9h0M471.2,728.8h0M472.0,728.5h0M472.9,727.7h0M474.0,723.8h0M475.0,727.0h0M475.2,733.4h0M476.1,729.0h0M477.7,729.2h0M478.1,730.1h0M479.5,730.6h0M480.2,726.3h0M480.4,731.6h0M481.9,729.3h0M482.2,729.8h0M483.5,729.8h0M484.2,723.7h0M485.4,732.3h0M486.2,731.6h0M486.8,727.6h0M487.9,726.8h0M488.3,730.5h0M489.5,734.9h0M490.2,731.6h0M491.1,732.2h0M492.0,734.4h0M493.0,732.1h0M493.7,731.8h0M494.7,733.6h0M495.4,735.9h0M496.8,733.4h0M497.5,735.9h0M498.0,731.7h0M499.0,734.6h0M500.2,737.0h0M500.6,736.3h0M501.7,736.6h0M502.2,733.9h0M503.4,733.9h0M503.9,737.1h0M504.9,736.4h0M629.8,750.8h0M546.5,748.5h0M557.3,738.0h0M562.5,737.0h0M502.5,744.5h0M495.5,739.0h0M581.5,741.0h0M603.5,735.5h0M569.0,733.0h0M574.0,734.0h0M188.5,765.0h0M331.5,797.0h0" stroke="#04a85c" stroke-width="4.0" stroke-linecap="round" fill="none"/>
<path d="M90.6,894.0h0M91.9,891.3h0M94.2,890.7h0M94.6,887.5h0M96.3,893.8h0M97.7,888.4h0M99.6,887.0h0M100.6,887.5h0M102.7,887.5h0M102.8,893.0h0M104.7,890.3h0M106.3,892.1h0M107.5,881.8h0M109.4,890.4h0M110.0,892.8h0M111.6,893.0h0M113.2,892.6h0M114.4,889.6h0M116.1,892.4h0M117.6,890.5h0M118.4,889.0h0M120.4,893.5h0M121.2,891.6h0M122.3,893.1h0M123.6,893.7h0M125.1,895.4h0M126.8,889.0h0M127.8,893.9h0M129.4,889.5h0M131.0,888.7h0M132.4,886.3h0M134.3,892.3h0M135.3,888.3h0M137.3,892.9h0M137.7,887.0h0M139.5,892.3h0M140.5,885.8h0M142.7,893.2h0M144.2,894.9h0M144.8,892.3h0M146.3,896.1h0M147.1,894.4h0M149.0,891.3h0M151.1,893.3h0M152.1,887.9h0M152.9,893.1h0M155.2,890.5h0M155.7,893.5h0M157.9,889.4h0M159.3,893.2h0M159.6,892.1h0M162.1,887.4h0M162.8,888.1h0M164.6,890.5h0M166.3,891.4h0M167.7,885.3h0M168.4,888.7h0M169.7,891.8h0M171.5,889.2h0M172.8,882.5h0M173.8,893.4h0M175.9,890.4h0M176.3,893.2h0M177.6,888.1h0M179.9,889.7h0M180.6,896.5h0M181.7,891.7h0M184.2,890.3h0M185.4,892.7h0M186.8,893.8h0M187.5,885.7h0M189.2,891.4h0M191.1,887.0h0M192.1,895.9h0M193.0,894.6h0M194.4,890.4h0M196.8,890.3h0M197.3,892.0h0M199.4,888.3h0M200.9,890.4h0M201.5,891.3h0M203.4,889.0h0M205.0,885.0h0M205.5,892.1h0M207.5,889.8h0M208.0,891.8h0M210.5,892.9h0M211.4,893.2h0M212.1,892.9h0M214.0,888.6h0M214.9,888.7h0M217.2,893.4h0M218.5,891.8h0M219.1,888.1h0M221.3,885.7h0M223.0,888.0h0M224.1,893.3h0M225.9,892.3h0M227.0,886.1h0M227.3,889.4h0M229.5,893.1h0M230.9,894.0h0M232.0,884.7h0M233.7,890.3h0M235.6,895.5h0M236.7,894.2h0M238.4,897.4h0M238.9,890.3h0M239.8,893.1h0M242.5,890.0h0M243.1,893.0h0M244.0,888.2h0M245.7,893.5h0M247.5,891.3h0M248.6,891.2h0M250.8,894.0h0M251.1,893.5h0M252.2,891.6h0M254.0,888.9h0M255.7,891.7h0M256.7,889.4h0M258.7,887.8h0M260.5,887.0h0M261.4,890.4h0M263.2,895.2h0M263.8,894.2h0M264.7,887.9h0M266.7,891.8h0M268.4,888.2h0M270.0,896.3h0M270.3,892.3h0M272.5,888.8h0M273.6,894.0h0M275.1,893.9h0M276.0,891.4h0M278.2,892.8h0M279.4,891.9h0M281.0,892.5h0M282.6,892.5h0M282.9,894.0h0M284.3,890.7h0M285.8,889.5h0M286.9,888.4h0M289.1,890.6h0M290.9,891.1h0M291.5,895.4h0M293.2,887.5h0M294.4,889.3h0M295.5,894.0h0M296.6,890.0h0M298.4,894.8h0M300.6,891.2h0M301.4,891.4h0M303.0,890.9h0M304.1,895.1h0M305.4,890.6h0M307.1,892.9h0M308.2,892.5h0M309.3,894.5h0M311.4,892.8h0M313.1,891.0h0M313.8,894.5h0M314.6,890.6h0M316.4,891.8h0M318.1,890.1h0M319.4,883.9h0M321.4,886.1h0M321.8,888.8h0M323.6,891.5h0M325.5,892.4h0M326.2,892.7h0M327.7,886.4h0M328.7,888.3h0M329.8,891.2h0M331.8,886.2h0M333.6,894.2h0M334.7,893.9h0M335.5,891.9h0M337.2,890.3h0M339.4,895.4h0M340.2,891.1h0M342.1,892.8h0M342.2,890.3h0M343.8,892.2h0M345.3,888.2h0M347.5,881.9h0M348.0,889.6h0M350.0,887.7h0M351.2,886.6h0M352.3,888.8h0M354.3,891.2h0M355.7,890.3h0M356.2,890.4h0M358.5,888.1h0M359.7,890.9h0M361.2,889.7h0M361.8,892.0h0M363.0,892.2h0M365.3,894.2h0M365.9,893.3h0M367.7,893.9h0M369.3,890.6h0M370.9,893.0h0M371.3,890.5h0M372.7,888.4h0M375.2,890.5h0M376.4,893.0h0M377.7,888.2h0M378.6,891.6h0M380.7,891.3h0M381.6,885.8h0M382.4,887.1h0M384.3,888.7h0M385.4,886.8h0M386.8,891.0h0M388.2,889.5h0M390.2,886.2h0M391.2,887.6h0M392.3,890.7h0M393.9,894.2h0M394.7,888.9h0M396.8,886.2h0M398.1,893.3h0M399.1,893.0h0M401.5,894.0h0M402.9,894.1h0M403.5,896.8h0M405.6,890.2h0M406.2,889.8h0M407.6,891.6h0M409.3,894.1h0M410.6,891.9h0M412.4,890.1h0M413.7,886.8h0M415.4,889.6h0M416.2,886.8h0M417.3,895.9h0M418.6,889.7h0M420.8,886.8h0M421.5,891.4h0M423.1,891.6h0M425.0,894.1h0M425.9,889.0h0M427.9,897.6h0M428.5,896.0h0M429.6,891.0h0M430.9,887.4h0M432.5,891.7h0M434.5,892.8h0M435.4,890.6h0M437.5,884.6h0M437.9,888.8h0M439.1,888.2h0M441.7,891.3h0M441.9,888.0h0M443.9,891.0h0M445.5,890.0h0M446.7,886.6h0M448.5,894.9h0M449.3,891.5h0M450.7,886.0h0M452.1,889.4h0M453.0,888.0h0M455.1,883.3h0M456.0,894.4h0M457.3,889.5h0M459.5,890.5h0M460.3,892.7h0M462.1,890.5h0M462.8,891.4h0M464.0,892.2h0M466.7,890.0h0M467.4,894.6h0M468.7,894.0h0M469.7,894.7h0M471.4,891.8h0M472.4,890.0h0M474.5,884.4h0M475.4,889.9h0M476.9,884.1h0M478.6,889.6h0M479.3,886.1h0M481.1,886.0h0M482.8,887.5h0M484.0,886.2h0M484.8,888.6h0M486.6,889.0h0M488.2,889.3h0M489.1,891.8h0M491.0,891.6h0M492.3,891.7h0M493.6,894.1h0M494.5,895.0h0M496.4,891.5h0M498.3,891.7h0M499.8,887.8h0M500.8,893.3h0M502.0,894.3h0M503.9,891.8h0M504.7,888.9h0M506.3,889.8h0M508.1,889.2h0M508.9,885.5h0M510.9,888.5h0M511.1,891.1h0M512.4,892.8h0M514.1,887.7h0M515.8,888.3h0M516.9,892.5h0M517.9,896.0h0M519.8,891.1h0M521.2,888.4h0M523.1,893.4h0M524.5,891.3h0M525.2,896.2h0M526.7,889.5h0M527.8,893.6h0M529.7,891.5h0M530.4,889.7h0M532.6,887.1h0M533.8,890.3h0M534.9,891.9h0M536.3,890.6h0M537.3,893.2h0M539.1,888.7h0M540.6,889.2h0M542.7,891.3h0M543.5,886.1h0M544.9,888.4h0M545.8,890.8h0M547.7,889.6h0M549.1,887.7h0M550.3,889.4h0M552.0,892.1h0M553.8,893.4h0M555.1,890.5h0M556.2,893.7h0M557.7,891.1h0M559.3,891.6h0M560.6,888.4h0M561.5,893.3h0M563.0,889.1h0M563.8,892.1h0M566.2,886.3h0M566.8,889.9h0M568.9,889.2h0M569.7,891.0h0M571.3,884.4h0M572.5,887.9h0M573.8,890.4h0M575.9,888.0h0M577.3,888.6h0M578.6,890.6h0M578.9,892.3h0M581.1,886.2h0M581.8,887.2h0M584.2,888.7h0M585.1,892.0h0M586.6,889.5h0M587.9,894.5h0M588.6,887.6h0M590.0,890.9h0M591.7,894.6h0M594.0,892.2h0M595.1,889.0h0M596.5,894.6h0M597.3,890.5h0M598.7,884.5h0M599.7,888.2h0M601.8,891.0h0M602.6,898.7h0M604.7,881.1h0M606.1,888.2h0M607.7,887.3h0M608.6,884.5h0M609.4,889.5h0M610.7,886.1h0M612.3,882.6h0M614.3,894.7h0M616.0,890.3h0M616.9,893.2h0M618.0,888.6h0M619.5,885.9h0M621.4,890.1h0M621.8,892.9h0M624.0,895.3h0M624.5,892.7h0M626.2,888.8h0M628.6,891.7h0M628.8,891.4h0" stroke="#c00422" stroke-width="5.2" stroke-linecap="round" fill="none"/>
<path d="M90.6,894.0h0M91.9,891.3h0M94.2,890.7h0M94.6,887.5h0M96.3,893.8h0M97.7,888.4h0M99.6,887.0h0M100.6,887.5h0M102.7,887.5h0M102.8,893.0h0M104.7,890.3h0M106.3,892.1h0M107.5,881.8h0M109.4,890.4h0M110.0,892.8h0M111.6,893.0h0M113.2,892.6h0M114.4,889.6h0M116.1,892.4h0M117.6,890.5h0M118.4,889.0h0M120.4,893.5h0M121.2,891.6h0M122.3,893.1h0M123.6,893.7h0M125.1,895.4h0M126.8,889.0h0M127.8,893.9h0M129.4,889.5h0M131.0,888.7h0M132.4,886.3h0M134.3,892.3h0M135.3,888.3h0M137.3,892.9h0M137.7,887.0h0M139.5,892.3h0M140.5,885.8h0M142.7,893.2h0M144.2,894.9h0M144.8,892.3h0M146.3,896.1h0M147.1,894.4h0M149.0,891.3h0M151.1,893.3h0M152.1,887.9h0M152.9,893.1h0M155.2,890.5h0M155.7,893.5h0M157.9,889.4h0M159.3,893.2h0M159.6,892.1h0M162.1,887.4h0M162.8,888.1h0M164.6,890.5h0M166.3,891.4h0M167.7,885.3h0M168.4,888.7h0M169.7,891.8h0M171.5,889.2h0M172.8,882.5h0M173.8,893.4h0M175.9,890.4h0M176.3,893.2h0M177.6,888.1h0M179.9,889.7h0M180.6,896.5h0M181.7,891.7h0M184.2,890.3h0M185.4,892.7h0M186.8,893.8h0M187.5,885.7h0M189.2,891.4h0M191.1,887.0h0M192.1,895.9h0M193.0,894.6h0M194.4,890.4h0M196.8,890.3h0M197.3,892.0h0M199.4,888.3h0M200.9,890.4h0M201.5,891.3h0M203.4,889.0h0M205.0,885.0h0M205.5,892.1h0M207.5,889.8h0M208.0,891.8h0M210.5,892.9h0M211.4,893.2h0M212.1,892.9h0M214.0,888.6h0M214.9,888.7h0M217.2,893.4h0M218.5,891.8h0M219.1,888.1h0M221.3,885.7h0M223.0,888.0h0M224.1,893.3h0M225.9,892.3h0M227.0,886.1h0M227.3,889.4h0M229.5,893.1h0M230.9,894.0h0M232.0,884.7h0M233.7,890.3h0M235.6,895.5h0M236.7,894.2h0M238.4,897.4h0M238.9,890.3h0M239.8,893.1h0M242.5,890.0h0M243.1,893.0h0M244.0,888.2h0M245.7,893.5h0M247.5,891.3h0M248.6,891.2h0M250.8,894.0h0M251.1,893.5h0M252.2,891.6h0M254.0,888.9h0M255.7,891.7h0M256.7,889.4h0M258.7,887.8h0M260.5,887.0h0M261.4,890.4h0M263.2,895.2h0M263.8,894.2h0M264.7,887.9h0M266.7,891.8h0M268.4,888.2h0M270.0,896.3h0M270.3,892.3h0M272.5,888.8h0M273.6,894.0h0M275.1,893.9h0M276.0,891.4h0M278.2,892.8h0M279.4,891.9h0M281.0,892.5h0M282.6,892.5h0M282.9,894.0h0M284.3,890.7h0M285.8,889.5h0M286.9,888.4h0M289.1,890.6h0M290.9,891.1h0M291.5,895.4h0M293.2,887.5h0M294.4,889.3h0M295.5,894.0h0M296.6,890.0h0M298.4,894.8h0M300.6,891.2h0M301.4,891.4h0M303.0,890.9h0M304.1,895.1h0M305.4,890.6h0M307.1,892.9h0M308.2,892.5h0M309.3,894.5h0M311.4,892.8h0M313.1,891.0h0M313.8,894.5h0M314.6,890.6h0M316.4,891.8h0M318.1,890.1h0M319.4,883.9h0M321.4,886.1h0M321.8,888.8h0M323.6,891.5h0M325.5,892.4h0M326.2,892.7h0M327.7,886.4h0M328.7,888.3h0M329.8,891.2h0M331.8,886.2h0M333.6,894.2h0M334.7,893.9h0M335.5,891.9h0M337.2,890.3h0M339.4,895.4h0M340.2,891.1h0M342.1,892.8h0M342.2,890.3h0M343.8,892.2h0M345.3,888.2h0M347.5,881.9h0M348.0,889.6h0M350.0,887.7h0M351.2,886.6h0M352.3,888.8h0M354.3,891.2h0M355.7,890.3h0M356.2,890.4h0M358.5,888.1h0M359.7,890.9h0M361.2,889.7h0M361.8,892.0h0M363.0,892.2h0M365.3,894.2h0M365.9,893.3h0M367.7,893.9h0M369.3,890.6h0M370.9,893.0h0M371.3,890.5h0M372.7,888.4h0M375.2,890.5h0M376.4,893.0h0M377.7,888.2h0M378.6,891.6h0M380.7,891.3h0M381.6,885.8h0M382.4,887.1h0M384.3,888.7h0M385.4,886.8h0M386.8,891.0h0M388.2,889.5h0M390.2,886.2h0M391.2,887.6h0M392.3,890.7h0M393.9,894.2h0M394.7,888.9h0M396.8,886.2h0M398.1,893.3h0M399.1,893.0h0M401.5,894.0h0M402.9,894.1h0M403.5,896.8h0M405.6,890.2h0M406.2,889.8h0M407.6,891.6h0M409.3,894.1h0M410.6,891.9h0M412.4,890.1h0M413.7,886.8h0M415.4,889.6h0M416.2,886.8h0M417.3,895.9h0M418.6,889.7h0M420.8,886.8h0M421.5,891.4h0M423.1,891.6h0M425.0,894.1h0M425.9,889.0h0M427.9,897.6h0M428.5,896.0h0M429.6,891.0h0M430.9,887.4h0M432.5,891.7h0M434.5,892.8h0M435.4,890.6h0M437.5,884.6h0M437.9,888.8h0M439.1,888.2h0M441.7,891.3h0M441.9,888.0h0M443.9,891.0h0M445.5,890.0h0M446.7,886.6h0M448.5,894.9h0M449.3,891.5h0M450.7,886.0h0M452.1,889.4h0M453.0,888.0h0M455.1,883.3h0M456.0,894.4h0M457.3,889.5h0M459.5,890.5h0M460.3,892.7h0M462.1,890.5h0M462.8,891.4h0M464.0,892.2h0M466.7,890.0h0M467.4,894.6h0M468.7,894.0h0M469.7,894.7h0M471.4,891.8h0M472.4,890.0h0M474.5,884.4h0M475.4,889.9h0M476.9,884.1h0M478.6,889.6h0M479.3,886.1h0M481.1,886.0h0M482.8,887.5h0M484.0,886.2h0M484.8,888.6h0M486.6,889.0h0M488.2,889.3h0M489.1,891.8h0M491.0,891.6h0M492.3,891.7h0M493.6,894.1h0M494.5,895.0h0M496.4,891.5h0M498.3,891.7h0M499.8,887.8h0M500.8,893.3h0M502.0,894.3h0M503.9,891.8h0M504.7,888.9h0M506.3,889.8h0M508.1,889.2h0M508.9,885.5h0M510.9,888.5h0M511.1,891.1h0M512.4,892.8h0M514.1,887.7h0M515.8,888.3h0M516.9,892.5h0M517.9,896.0h0M519.8,891.1h0M521.2,888.4h0M523.1,893.4h0M524.5,891.3h0M525.2,896.2h0M526.7,889.5h0M527.8,893.6h0M529.7,891.5h0M530.4,889.7h0M532.6,887.1h0M533.8,890.3h0M534.9,891.9h0M536.3,890.6h0M537.3,893.2h0M539.1,888.7h0M540.6,889.2h0M542.7,891.3h0M543.5,886.1h0M544.9,888.4h0M545.8,890.8h0M547.7,889.6h0M549.1,887.7h0M550.3,889.4h0M552.0,892.1h0M553.8,893.4h0M555.1,890.5h0M556.2,893.7h0M557.7,891.1h0M559.3,891.6h0M560.6,888.4h0M561.5,893.3h0M563.0,889.1h0M563.8,892.1h0M566.2,886.3h0M566.8,889.9h0M568.9,889.2h0M569.7,891.0h0M571.3,884.4h0M572.5,887.9h0M573.8,890.4h0M575.9,888.0h0M577.3,888.6h0M578.6,890.6h0M578.9,892.3h0M581.1,886.2h0M581.8,887.2h0M584.2,888.7h0M585.1,892.0h0M586.6,889.5h0M587.9,894.5h0M588.6,887.6h0M590.0,890.9h0M591.7,894.6h0M594.0,892.2h0M595.1,889.0h0M596.5,894.6h0M597.3,890.5h0M598.7,884.5h0M599.7,888.2h0M601.8,891.0h0M602.6,898.7h0M604.7,881.1h0M606.1,888.2h0M607.7,887.3h0M608.6,884.5h0M609.4,889.5h0M610.7,886.1h0M612.3,882.6h0M614.3,894.7h0M616.0,890.3h0M616.9,893.2h0M618.0,888.6h0M619.5,885.9h0M621.4,890.1h0M621.8,892.9h0M624.0,895.3h0M624.5,892.7h0M626.2,888.8h0M628.6,891.7h0M628.8,891.4h0" stroke="#f0042c" stroke-width="4.0" stroke-linecap="round" fill="none"/>
<path d="M552.0,886.0h0M556.0,888.0h0M580.0,886.0h0" stroke="#3200c0" stroke-width="5.2" stroke-linecap="round" fill="none"/>
<path d="M552.0,886.0h0M556.0,888.0h0M580.0,886.0h0" stroke="#4400f2" stroke-width="4.0" stroke-linecap="round" fill="none"/>
<path d="M90.3,572V951.2H629" stroke="#222" stroke-width="1.4" fill="none"/>
<path d="M90.3,564.6l-3,9h6z" fill="#111"/><path d="M637.8,951.2l-9.5,-3v6z" fill="#111"/>
<text x="84.2" y="897.6" font-size="19" font-weight="bold" text-anchor="end">0</text>
<text x="84.2" y="817.7" font-size="19" font-weight="bold" text-anchor="end">50</text>
<text x="84.2" y="737.9" font-size="19" font-weight="bold" text-anchor="end">100</text>
<text x="84.2" y="658.0" font-size="19" font-weight="bold" text-anchor="end">150</text>
<text transform="translate(30.3,759) rotate(-90)" font-size="23.3" font-weight="bold" text-anchor="middle" textLength="141.5" lengthAdjust="spacingAndGlyphs">BINDING (%)</text>
<text x="344.3" y="982.8" font-size="23" font-weight="bold" text-anchor="middle" textLength="149" lengthAdjust="spacingAndGlyphs">SAMPLES (n)</text>
<circle cx="108.3" cy="1018.1" r="5.5" fill="#4400f2" stroke="#3200c0" stroke-width="0.8"/>
<text x="116.5" y="1025.2" font-size="19.3" font-weight="bold" textLength="114.5" lengthAdjust="spacingAndGlyphs">Compounds</text>
<circle cx="270.7" cy="1018.1" r="5.5" fill="#f0042c" stroke="#c00422" stroke-width="0.8"/>
<text x="278.5" y="1025.2" font-size="19.3" font-weight="bold" textLength="156.5" lengthAdjust="spacingAndGlyphs">Negative control</text>
<circle cx="473.6" cy="1018.1" r="5.5" fill="#04a85c" stroke="#058048" stroke-width="0.8"/>
<text x="480.4" y="1025.2" font-size="19.3" font-weight="bold" textLength="150.5" lengthAdjust="spacingAndGlyphs">Positive control</text>
</g>
</svg>
</body></html>
